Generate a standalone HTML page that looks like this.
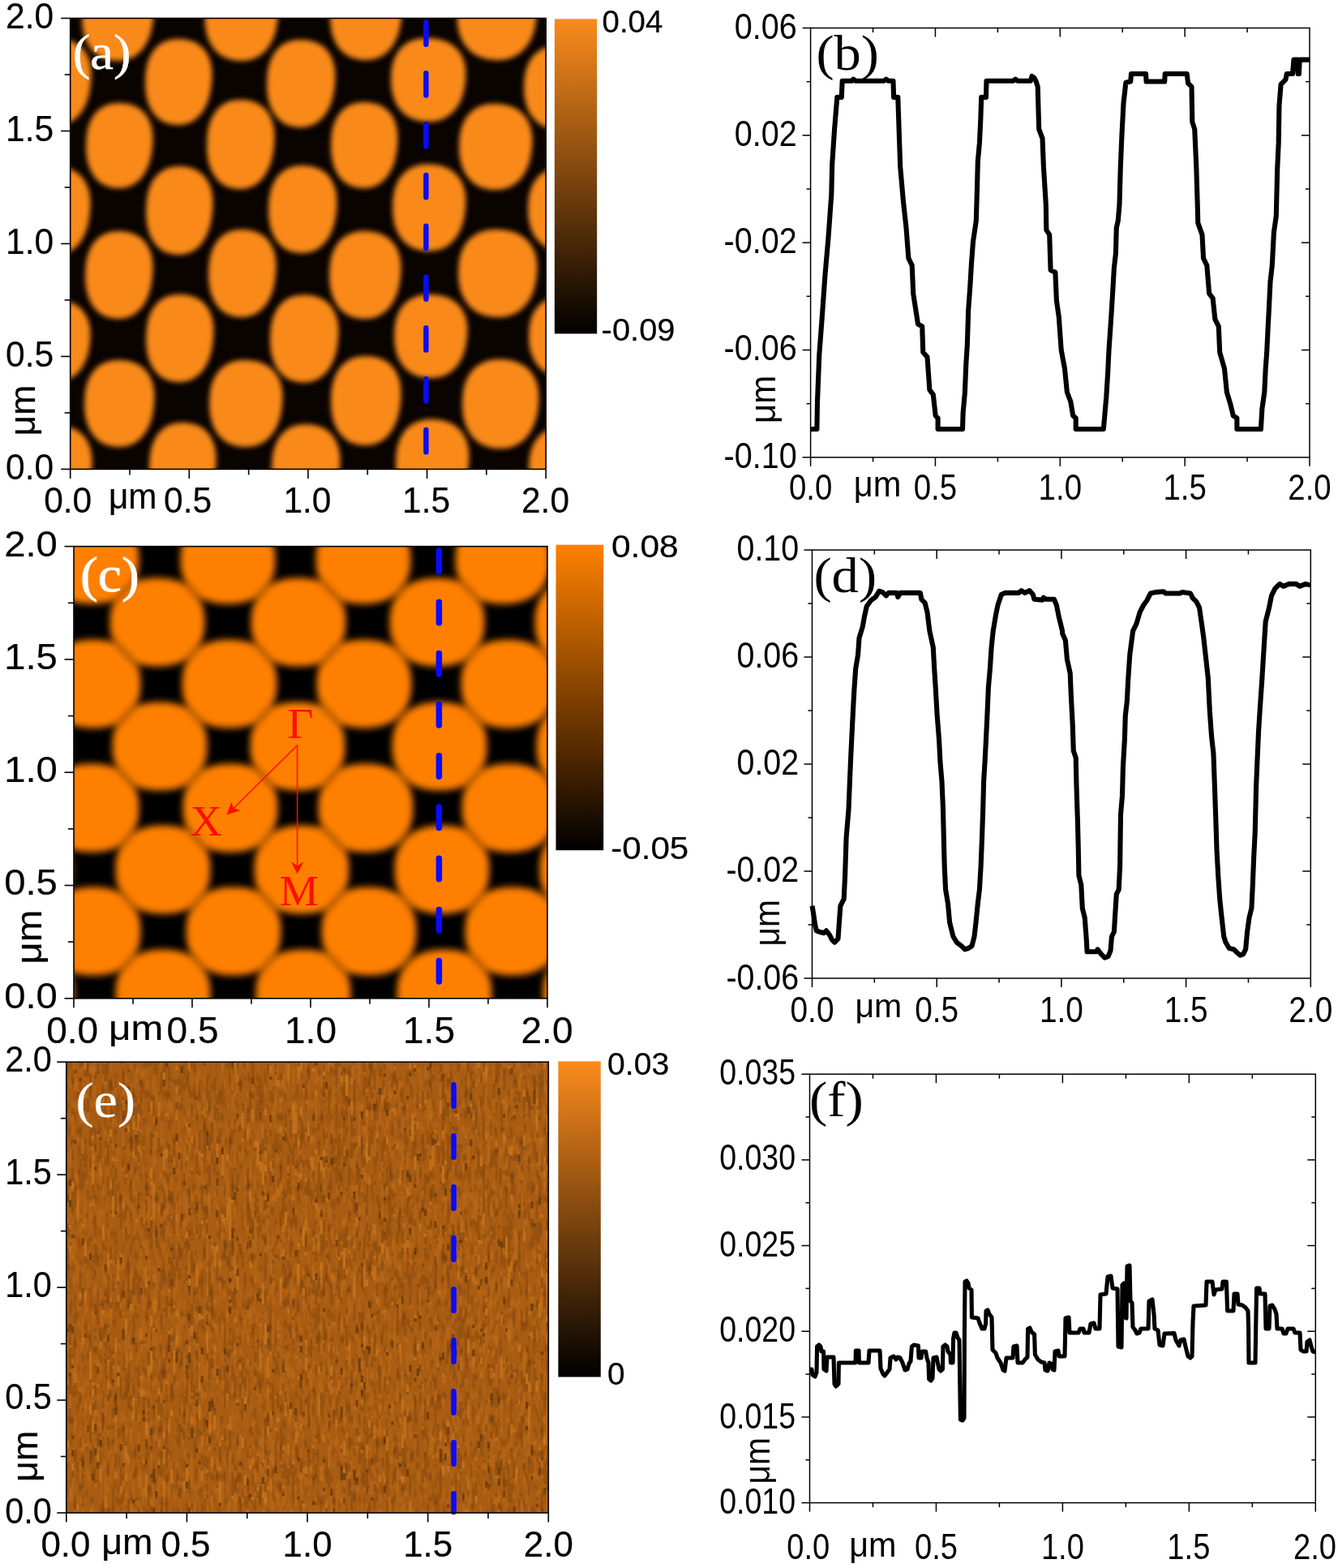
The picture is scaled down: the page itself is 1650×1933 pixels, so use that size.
<!DOCTYPE html>
<html lang="en">
<head>
<meta charset="utf-8">
<title>AFM images and line profiles</title>
<style>
html,body{margin:0;padding:0;background:#fff;}
body{width:1650px;height:1933px;overflow:hidden;}
svg{display:block;}
.ss{font-family:"Liberation Sans", Arial, sans-serif;}
.sf{font-family:"Liberation Serif", "Times New Roman", serif;}
</style>
</head>
<body>
<svg width="1650" height="1933" viewBox="0 0 1650 1933">
<defs>
<linearGradient id="cb_a" x1="0" y1="0" x2="0" y2="1"><stop offset="0" stop-color="#fb8b1c"/><stop offset="1" stop-color="#000000"/></linearGradient>
<linearGradient id="cb_c" x1="0" y1="0" x2="0" y2="1"><stop offset="0" stop-color="#ff8000"/><stop offset="1" stop-color="#000000"/></linearGradient>
<linearGradient id="cb_e" x1="0" y1="0" x2="0" y2="1"><stop offset="0" stop-color="#fb8b1c"/><stop offset="1" stop-color="#000000"/></linearGradient>
<filter id="bl_a" filterUnits="userSpaceOnUse" x="0" y="0" width="800" height="700" color-interpolation-filters="sRGB"><feGaussianBlur stdDeviation="3.4"/></filter>
<filter id="bl_c" filterUnits="userSpaceOnUse" x="0" y="600" width="800" height="700" color-interpolation-filters="sRGB"><feGaussianBlur stdDeviation="4"/></filter>
<filter id="noise_d" x="0" y="0" width="100%" height="100%" color-interpolation-filters="sRGB">
<feTurbulence type="fractalNoise" baseFrequency="0.2 0.07" numOctaves="1" seed="7"/>
<feColorMatrix type="matrix" values="0 0 0 0 0  0 0 0 0 0  0 0 0 0 0  -3 0 0 0 1.4"/>
</filter>
<filter id="soft" filterUnits="userSpaceOnUse" x="0" y="1250" width="800" height="683" color-interpolation-filters="sRGB"><feGaussianBlur stdDeviation="0.6 0.7"/></filter>
<filter id="noise_l" x="0" y="0" width="100%" height="100%" color-interpolation-filters="sRGB">
<feTurbulence type="fractalNoise" baseFrequency="0.2 0.07" numOctaves="1" seed="23"/>
<feColorMatrix type="matrix" values="0 0 0 0 1  0 0 0 0 0.62  0 0 0 0 0.2  0 3 0 0 -1.6"/>
</filter>
<clipPath id="clip_a"><rect x="86.7" y="22.5" width="586.5" height="555.9"/></clipPath>
<clipPath id="clip_c"><rect x="91" y="673.6" width="584" height="557.2"/></clipPath>
<clipPath id="clip_e"><rect x="81.8" y="1309.2" width="594.5" height="555.8"/></clipPath>
</defs>
<rect width="1650" height="1933" fill="#fff"/>
<g id="panel-a">
<g clip-path="url(#clip_a)">
<rect x="81.7" y="17.5" width="596.5" height="565.9" fill="#0a0400"/>
<g filter="url(#bl_a)" fill="#f98a1a">
<path d="M188.9 25.1L187.0 36.5L184.3 45.6L180.6 53.6L176.1 60.4L170.8 65.9L164.7 70.3L157.9 73.2L150.5 74.8L141.3 74.9L132.2 73.5L125.0 70.9L118.8 67.0L113.4 61.9L108.9 55.6L105.3 48.3L102.8 39.9L101.4 30.5L101.1 18.9L102.0 7.4L104.1 -1.8L107.2 -9.7L111.5 -16.5L116.9 -22.1L123.2 -26.4L130.4 -29.4L138.6 -30.9L148.7 -30.9L158.7 -29.5L166.6 -26.8L173.3 -22.9L179.0 -17.8L183.5 -11.5L186.8 -4.2L188.9 4.2L189.6 13.5ZM342.4 25.1L340.5 36.6L337.7 45.7L334.0 53.6L329.4 60.4L323.9 66.0L317.7 70.3L310.8 73.3L303.2 74.8L293.8 74.9L284.5 73.5L277.2 70.9L270.8 67.0L265.2 61.9L260.6 55.6L256.9 48.2L254.4 39.9L252.9 30.5L252.6 18.9L253.5 7.3L255.6 -1.8L258.8 -9.8L263.2 -16.6L268.7 -22.2L275.1 -26.4L282.5 -29.4L290.9 -30.9L301.2 -30.9L311.4 -29.5L319.5 -26.8L326.4 -22.9L332.2 -17.7L336.8 -11.4L340.2 -4.1L342.3 4.2L343.1 13.6ZM494.9 24.1L493.0 35.5L490.3 44.6L486.6 52.6L482.1 59.4L476.8 64.9L470.7 69.3L463.9 72.2L456.5 73.8L447.3 73.9L438.2 72.5L431.0 69.9L424.8 66.0L419.4 60.9L414.9 54.6L411.3 47.3L408.8 38.9L407.4 29.5L407.1 17.9L408.0 6.4L410.1 -2.8L413.2 -10.7L417.5 -17.5L422.9 -23.1L429.2 -27.4L436.4 -30.4L444.6 -31.9L454.7 -31.9L464.7 -30.5L472.6 -27.8L479.3 -23.9L485.0 -18.8L489.5 -12.5L492.8 -5.2L494.9 3.2L495.6 12.5ZM661.4 24.4L659.4 35.9L656.4 45.0L652.4 52.9L647.4 59.6L641.5 65.2L634.8 69.4L627.3 72.4L619.0 73.9L608.8 73.9L598.7 72.5L590.7 69.8L583.7 65.9L577.6 60.7L572.5 54.4L568.5 47.0L565.6 38.6L564.0 29.2L563.6 17.6L564.5 6.1L566.7 -3.1L570.2 -11.0L574.9 -17.8L580.8 -23.4L587.8 -27.6L595.9 -30.5L605.0 -32.0L616.2 -31.9L627.3 -30.4L636.1 -27.7L643.7 -23.7L650.0 -18.5L655.1 -12.2L658.8 -4.8L661.2 3.5L662.1 12.9ZM111.9 103.9L110.1 115.3L107.5 124.5L104.1 132.4L99.8 139.2L94.8 144.8L89.1 149.2L82.8 152.2L75.8 153.8L67.3 153.9L58.9 152.6L52.2 150.0L46.3 146.2L41.3 141.1L37.1 134.8L33.9 127.5L31.6 119.1L30.3 109.7L30.1 98.1L31.0 86.6L32.9 77.4L35.9 69.5L40.0 62.7L45.0 57.0L50.9 52.7L57.7 49.7L65.3 48.2L74.7 48.1L84.0 49.5L91.4 52.1L97.6 56.0L102.9 61.1L107.1 67.3L110.1 74.7L112.0 83.0L112.6 92.3ZM260.9 103.9L259.1 115.3L256.5 124.5L253.1 132.4L248.8 139.2L243.8 144.8L238.1 149.2L231.8 152.2L224.8 153.8L216.3 153.9L207.9 152.6L201.2 150.0L195.3 146.2L190.3 141.1L186.1 134.8L182.9 127.5L180.6 119.1L179.3 109.7L179.1 98.1L180.0 86.6L181.9 77.4L184.9 69.5L189.0 62.7L194.0 57.0L199.9 52.7L206.7 49.7L214.3 48.2L223.7 48.1L233.0 49.5L240.4 52.1L246.6 56.0L251.9 61.1L256.1 67.3L259.1 74.7L261.0 83.0L261.6 92.3ZM412.9 105.9L411.1 117.6L408.4 126.9L404.9 135.0L400.5 141.9L395.4 147.6L389.6 152.1L383.1 155.1L376.0 156.8L367.2 156.9L358.6 155.5L351.7 152.9L345.8 149.0L340.6 143.8L336.3 137.4L333.0 130.0L330.6 121.5L329.3 111.9L329.1 100.1L330.0 88.3L332.0 79.0L335.1 70.9L339.2 63.9L344.3 58.2L350.4 53.8L357.3 50.8L365.1 49.2L374.8 49.1L384.3 50.5L391.8 53.2L398.3 57.1L403.6 62.3L407.9 68.7L411.0 76.2L413.0 84.6L413.6 94.2ZM573.9 101.7L572.0 112.8L569.2 121.7L565.4 129.4L560.7 135.9L555.2 141.3L548.8 145.5L541.8 148.4L534.0 149.9L524.4 149.9L514.9 148.5L507.4 146.0L500.8 142.2L495.1 137.1L490.4 131.0L486.6 123.9L484.0 115.7L482.4 106.6L482.1 95.3L483.0 84.1L485.1 75.2L488.4 67.5L492.8 60.9L498.4 55.5L504.9 51.3L512.5 48.5L521.0 47.1L531.6 47.1L542.1 48.5L550.3 51.2L557.4 55.0L563.3 60.0L568.1 66.1L571.6 73.3L573.7 81.4L574.6 90.5ZM735.9 111.1L734.0 122.4L731.3 131.3L727.5 139.1L722.9 145.7L717.5 151.2L711.3 155.4L704.4 158.3L696.7 159.8L687.4 159.9L678.1 158.5L670.7 156.0L664.3 152.1L658.8 147.1L654.1 140.9L650.5 133.7L647.9 125.5L646.4 116.3L646.1 104.9L647.0 93.6L649.1 84.6L652.3 76.8L656.7 70.1L662.1 64.6L668.5 60.4L675.9 57.6L684.3 56.1L694.6 56.1L704.9 57.5L712.9 60.2L719.9 64.0L725.7 69.1L730.3 75.3L733.7 82.5L735.8 90.6L736.6 99.8ZM187.9 182.4L186.1 193.7L183.5 202.8L180.1 210.6L175.8 217.4L170.8 222.9L165.2 227.2L158.9 230.2L151.9 231.8L143.3 231.9L134.9 230.6L128.2 228.0L122.4 224.2L117.3 219.2L113.2 213.0L109.9 205.7L107.6 197.4L106.3 188.1L106.1 176.6L107.0 165.2L108.9 156.1L111.9 148.2L115.9 141.5L121.0 135.9L126.9 131.7L133.6 128.7L141.2 127.2L150.7 127.1L160.0 128.5L167.3 131.1L173.6 134.9L178.9 140.0L183.0 146.2L186.1 153.4L187.9 161.7L188.6 170.9ZM337.9 180.9L336.1 192.8L333.4 202.3L329.9 210.5L325.6 217.6L320.5 223.4L314.8 227.9L308.4 231.1L301.3 232.7L292.7 232.9L284.1 231.5L277.4 228.9L271.5 224.9L266.4 219.6L262.2 213.1L258.9 205.5L256.5 196.9L255.3 187.1L255.1 175.1L256.0 163.1L258.0 153.6L261.1 145.3L265.2 138.3L270.2 132.4L276.2 127.9L283.1 124.8L290.8 123.2L300.3 123.1L309.8 124.5L317.2 127.2L323.5 131.2L328.9 136.5L333.1 143.0L336.1 150.6L338.0 159.2L338.6 168.9ZM489.9 181.9L488.1 193.3L485.5 202.5L482.1 210.4L477.8 217.2L472.8 222.8L467.1 227.2L460.8 230.2L453.8 231.8L445.3 231.9L436.9 230.6L430.2 228.0L424.3 224.2L419.3 219.1L415.1 212.8L411.9 205.5L409.6 197.1L408.3 187.7L408.1 176.1L409.0 164.6L410.9 155.4L413.9 147.5L418.0 140.7L423.0 135.0L428.9 130.7L435.7 127.7L443.3 126.2L452.7 126.1L462.0 127.5L469.4 130.1L475.6 134.0L480.9 139.1L485.1 145.3L488.1 152.7L490.0 161.0L490.6 170.3ZM655.9 184.1L654.0 195.6L651.2 204.7L647.5 212.6L642.9 219.4L637.4 225.0L631.2 229.3L624.3 232.3L616.7 233.8L607.3 233.9L598.0 232.5L590.7 229.9L584.3 226.0L578.7 220.9L574.1 214.6L570.4 207.2L567.9 198.9L566.4 189.5L566.1 177.9L567.0 166.3L569.1 157.2L572.3 149.2L576.7 142.4L582.2 136.8L588.6 132.6L596.0 129.6L604.4 128.1L614.7 128.1L624.9 129.5L633.0 132.2L639.9 136.1L645.7 141.3L650.3 147.6L653.7 154.9L655.8 163.2L656.6 172.6ZM110.9 262.9L109.1 274.5L106.5 283.8L103.0 291.9L98.8 298.9L93.8 304.6L88.1 309.0L81.8 312.1L74.8 313.7L66.2 313.9L57.8 312.6L51.1 310.0L45.3 306.0L40.3 300.9L36.1 294.5L32.8 287.0L30.5 278.5L29.3 269.0L29.1 257.1L30.0 245.4L32.0 236.0L35.0 227.9L39.0 221.0L44.0 215.2L50.0 210.8L56.7 207.8L64.4 206.2L73.8 206.1L83.1 207.5L90.4 210.1L96.7 214.1L101.9 219.3L106.1 225.7L109.1 233.1L111.0 241.6L111.6 251.1ZM261.9 262.4L260.1 274.2L257.5 283.5L254.0 291.7L249.7 298.7L244.7 304.5L239.0 309.0L232.7 312.1L225.7 313.7L217.2 313.9L208.8 312.6L202.1 309.9L196.2 306.0L191.2 300.8L187.1 294.3L183.8 286.8L181.5 278.2L180.3 268.6L180.1 256.6L181.0 244.8L183.0 235.3L186.0 227.2L190.0 220.1L195.1 214.4L201.0 209.9L207.7 206.8L215.4 205.2L224.8 205.1L234.1 206.5L241.5 209.2L247.7 213.2L253.0 218.4L257.1 224.8L260.2 232.3L262.0 240.9L262.6 250.5ZM414.9 260.9L413.1 272.6L410.4 281.9L406.9 290.0L402.5 296.9L397.4 302.6L391.6 307.1L385.1 310.1L378.0 311.8L369.2 311.9L360.6 310.5L353.7 307.9L347.8 304.0L342.6 298.8L338.3 292.4L335.0 285.0L332.6 276.5L331.3 266.9L331.1 255.1L332.0 243.3L334.0 234.0L337.1 225.9L341.2 218.9L346.3 213.2L352.4 208.8L359.3 205.8L367.1 204.2L376.8 204.1L386.3 205.5L393.8 208.2L400.3 212.1L405.6 217.3L409.9 223.7L413.0 231.2L415.0 239.6L415.6 249.2ZM573.9 259.1L572.0 270.7L569.2 279.9L565.5 287.9L560.9 294.7L555.4 300.4L549.2 304.7L542.3 307.7L534.6 309.3L525.3 309.4L516.0 308.0L508.6 305.4L502.2 301.5L496.7 296.3L492.1 289.9L488.4 282.5L485.8 274.1L484.4 264.6L484.1 252.9L485.0 241.2L487.1 232.0L490.3 223.9L494.7 217.1L500.2 211.4L506.6 207.1L514.0 204.1L522.4 202.6L532.7 202.6L543.0 204.1L551.0 206.7L557.9 210.7L563.7 215.9L568.4 222.2L571.7 229.6L573.8 238.0L574.6 247.5ZM740.9 261.1L739.0 272.4L736.3 281.3L732.5 289.1L727.9 295.7L722.5 301.2L716.3 305.4L709.4 308.3L701.7 309.8L692.4 309.9L683.1 308.5L675.7 306.0L669.3 302.1L663.8 297.1L659.1 290.9L655.5 283.7L652.9 275.5L651.4 266.3L651.1 254.9L652.0 243.6L654.1 234.6L657.3 226.8L661.7 220.1L667.1 214.6L673.5 210.4L680.9 207.6L689.3 206.1L699.6 206.1L709.9 207.5L717.9 210.2L724.9 214.0L730.7 219.1L735.3 225.3L738.7 232.5L740.8 240.6L741.6 249.8ZM187.9 341.9L186.1 353.6L183.5 362.9L180.0 371.0L175.7 377.9L170.6 383.6L164.8 388.0L158.4 391.1L151.4 392.8L142.7 392.9L134.2 391.6L127.4 388.9L121.5 385.0L116.4 379.8L112.2 373.5L108.9 366.0L106.6 357.5L105.3 347.9L105.1 336.1L106.0 324.4L108.0 315.0L111.0 306.9L115.1 299.9L120.2 294.2L126.2 289.8L133.0 286.8L140.7 285.2L150.3 285.1L159.7 286.5L167.1 289.2L173.5 293.1L178.8 298.3L183.0 304.7L186.1 312.1L188.0 320.6L188.6 330.1ZM339.9 339.9L338.1 351.6L335.5 360.9L332.0 369.0L327.7 375.9L322.6 381.6L316.8 386.0L310.4 389.1L303.4 390.8L294.7 390.9L286.2 389.6L279.4 386.9L273.5 383.0L268.4 377.8L264.2 371.5L260.9 364.0L258.6 355.5L257.3 345.9L257.1 334.1L258.0 322.4L260.0 313.0L263.0 304.9L267.1 297.9L272.2 292.2L278.2 287.8L285.0 284.8L292.7 283.2L302.3 283.1L311.7 284.5L319.1 287.2L325.5 291.1L330.8 296.3L335.0 302.7L338.1 310.1L340.0 318.6L340.6 328.1ZM493.9 342.1L492.0 353.7L489.3 363.0L485.6 371.1L481.1 378.0L475.7 383.7L469.6 388.1L462.9 391.2L455.4 392.8L446.2 392.9L437.2 391.5L430.0 388.9L423.7 384.9L418.3 379.7L413.8 373.3L410.3 365.8L407.8 357.3L406.3 347.8L406.1 335.9L407.0 324.2L409.1 314.8L412.3 306.7L416.6 299.8L421.9 294.1L428.2 289.7L435.5 286.7L443.7 285.1L453.8 285.1L463.8 286.5L471.7 289.2L478.4 293.2L484.1 298.4L488.6 304.8L491.9 312.3L493.9 320.8L494.6 330.3ZM661.9 340.4L659.9 352.1L657.0 361.3L653.0 369.4L648.0 376.3L642.2 381.9L635.5 386.3L628.1 389.3L619.8 390.9L609.7 390.9L599.7 389.5L591.8 386.8L584.9 382.8L578.9 377.5L573.9 371.1L569.9 363.6L567.1 355.0L565.5 345.5L565.1 333.6L566.1 321.9L568.2 312.5L571.7 304.5L576.4 297.5L582.2 291.9L589.2 287.5L597.1 284.6L606.1 283.1L617.3 283.1L628.3 284.6L637.0 287.4L644.5 291.4L650.7 296.7L655.7 303.1L659.4 310.6L661.7 319.1L662.6 328.6ZM110.9 422.9L109.2 433.7L106.6 442.3L103.2 449.8L99.0 456.2L94.0 461.4L88.3 465.5L82.0 468.3L75.0 469.8L66.5 469.9L58.1 468.6L51.4 466.2L45.5 462.5L40.5 457.7L36.3 451.8L33.0 444.8L30.6 437.0L29.3 428.1L29.1 417.1L30.0 406.3L31.9 397.6L34.8 390.1L38.8 383.7L43.8 378.4L49.7 374.4L56.5 371.6L64.1 370.1L73.5 370.1L82.8 371.4L90.2 373.9L96.5 377.6L101.7 382.5L105.9 388.4L109.0 395.3L110.9 403.1L111.6 412.0ZM262.9 419.9L261.1 431.6L258.5 440.9L255.0 449.0L250.7 455.9L245.6 461.6L239.8 466.0L233.4 469.1L226.4 470.8L217.7 470.9L209.2 469.6L202.4 466.9L196.5 463.0L191.4 457.8L187.2 451.5L183.9 444.0L181.6 435.5L180.3 425.9L180.1 414.1L181.0 402.4L183.0 393.0L186.0 384.9L190.1 377.9L195.2 372.2L201.2 367.8L208.0 364.8L215.7 363.2L225.3 363.1L234.7 364.5L242.1 367.2L248.5 371.1L253.8 376.3L258.0 382.7L261.1 390.1L263.0 398.6L263.6 408.1ZM416.9 420.4L415.1 432.1L412.4 441.4L408.9 449.5L404.5 456.4L399.4 462.1L393.6 466.6L387.1 469.6L380.0 471.3L371.2 471.4L362.6 470.0L355.7 467.4L349.8 463.5L344.6 458.3L340.3 451.9L337.0 444.5L334.6 436.0L333.3 426.4L333.1 414.6L334.0 402.8L336.0 393.5L339.1 385.4L343.2 378.4L348.3 372.7L354.4 368.3L361.3 365.3L369.1 363.7L378.8 363.6L388.3 365.0L395.8 367.7L402.3 371.6L407.6 376.8L411.9 383.2L415.0 390.7L417.0 399.1L417.6 408.7ZM575.9 417.6L574.0 428.8L571.3 437.6L567.6 445.3L562.9 451.9L557.5 457.3L551.3 461.5L544.4 464.3L536.8 465.8L527.4 465.9L518.1 464.5L510.8 462.0L504.3 458.2L498.8 453.2L494.2 447.1L490.5 439.9L487.9 431.8L486.4 422.6L486.1 411.4L487.0 400.2L489.0 391.3L492.3 383.5L496.6 376.9L502.1 371.5L508.5 367.4L515.9 364.5L524.3 363.1L534.6 363.1L544.8 364.5L552.9 367.1L559.8 371.0L565.6 376.0L570.3 382.1L573.7 389.2L575.8 397.3L576.6 406.4ZM741.9 418.1L740.1 428.9L737.3 437.5L733.6 445.0L729.0 451.4L723.6 456.6L717.4 460.7L710.5 463.4L702.9 464.9L693.5 464.9L684.2 463.6L676.9 461.1L670.4 457.4L664.9 452.5L660.2 446.6L656.6 439.6L653.9 431.7L652.4 422.8L652.1 411.9L653.0 401.0L655.0 392.3L658.2 384.9L662.6 378.5L668.0 373.2L674.4 369.2L681.8 366.5L690.2 365.1L700.5 365.1L710.7 366.5L718.8 369.0L725.7 372.8L731.5 377.7L736.2 383.6L739.6 390.5L741.7 398.4L742.5 407.2ZM189.9 500.5L188.1 512.1L185.4 521.3L181.8 529.3L177.3 536.1L172.1 541.8L166.1 546.2L159.5 549.2L152.2 550.8L143.3 550.9L134.4 549.5L127.4 546.9L121.3 543.0L116.0 537.9L111.6 531.5L108.1 524.1L105.7 515.7L104.3 506.2L104.1 494.5L105.0 482.9L107.0 473.6L110.2 465.6L114.4 458.7L119.6 453.0L125.8 448.7L132.9 445.7L140.9 444.1L150.7 444.1L160.5 445.5L168.2 448.2L174.8 452.1L180.3 457.3L184.7 463.6L187.9 471.0L189.9 479.4L190.6 488.8ZM347.9 500.6L346.0 512.2L343.2 521.4L339.5 529.4L334.9 536.2L329.4 541.9L323.2 546.2L316.3 549.2L308.6 550.8L299.3 550.9L290.0 549.5L282.6 546.9L276.2 543.0L270.7 537.8L266.1 531.4L262.4 524.0L259.8 515.6L258.4 506.1L258.1 494.4L259.0 482.7L261.1 473.5L264.3 465.4L268.7 458.6L274.2 452.9L280.6 448.6L288.0 445.6L296.4 444.1L306.7 444.1L317.0 445.6L325.0 448.2L331.9 452.2L337.7 457.4L342.4 463.7L345.7 471.1L347.8 479.5L348.6 489.0ZM493.9 497.0L492.0 508.9L489.3 518.4L485.7 526.6L481.3 533.7L476.0 539.5L470.1 544.0L463.4 547.1L456.1 548.8L447.2 548.9L438.3 547.5L431.3 544.9L425.2 540.8L419.9 535.6L415.5 529.1L412.1 521.5L409.7 512.8L408.3 503.0L408.1 491.0L409.0 479.0L411.1 469.5L414.2 461.3L418.4 454.2L423.7 448.4L429.9 443.9L437.0 440.8L445.0 439.2L454.8 439.1L464.6 440.5L472.3 443.3L478.9 447.3L484.4 452.6L488.8 459.1L492.0 466.7L493.9 475.3L494.6 485.0ZM663.9 501.3L661.9 513.2L659.0 522.6L655.1 530.8L650.3 537.9L644.6 543.7L638.1 548.1L630.9 551.2L622.9 552.8L613.2 552.9L603.5 551.5L595.8 548.7L589.1 544.7L583.3 539.4L578.5 532.8L574.7 525.2L571.9 516.5L570.4 506.8L570.1 494.7L571.1 482.8L573.2 473.2L576.6 465.0L581.2 458.0L586.9 452.2L593.6 447.7L601.3 444.7L610.1 443.1L620.8 443.1L631.5 444.6L640.0 447.4L647.2 451.5L653.2 456.8L658.1 463.3L661.6 470.9L663.8 479.6L664.6 489.3ZM112.9 580.9L111.1 592.3L108.5 601.5L105.1 609.4L100.8 616.2L95.8 621.8L90.1 626.2L83.8 629.2L76.8 630.8L68.3 630.9L59.9 629.6L53.2 627.0L47.3 623.2L42.3 618.1L38.1 611.8L34.9 604.5L32.6 596.1L31.3 586.7L31.1 575.1L32.0 563.6L33.9 554.4L36.9 546.5L41.0 539.7L46.0 534.0L51.9 529.7L58.7 526.7L66.3 525.2L75.7 525.1L85.0 526.5L92.4 529.1L98.6 533.0L103.9 538.1L108.1 544.3L111.1 551.7L113.0 560.0L113.6 569.3ZM265.9 577.9L264.1 589.5L261.5 598.8L258.0 606.9L253.8 613.9L248.8 619.6L243.1 624.0L236.8 627.1L229.8 628.7L221.2 628.9L212.8 627.6L206.1 625.0L200.3 621.0L195.3 615.9L191.1 609.5L187.8 602.0L185.5 593.5L184.3 584.0L184.1 572.1L185.0 560.4L187.0 551.0L190.0 542.9L194.0 536.0L199.0 530.2L205.0 525.8L211.7 522.8L219.4 521.2L228.8 521.1L238.1 522.5L245.4 525.1L251.7 529.1L256.9 534.3L261.1 540.7L264.1 548.1L266.0 556.6L266.6 566.1ZM418.9 579.9L417.1 591.6L414.4 600.9L410.9 609.0L406.5 615.9L401.4 621.6L395.6 626.1L389.1 629.1L382.0 630.8L373.2 630.9L364.6 629.5L357.7 626.9L351.8 623.0L346.6 617.8L342.3 611.4L339.0 604.0L336.6 595.5L335.3 585.9L335.1 574.1L336.0 562.3L338.0 553.0L341.1 544.9L345.2 537.9L350.3 532.2L356.4 527.8L363.3 524.8L371.1 523.2L380.8 523.1L390.3 524.5L397.8 527.2L404.3 531.1L409.6 536.3L413.9 542.7L417.0 550.2L419.0 558.6L419.6 568.2ZM577.9 574.1L576.0 585.8L573.2 595.1L569.5 603.2L564.8 610.1L559.4 615.8L553.2 620.2L546.3 623.2L538.6 624.8L529.2 624.9L520.0 623.5L512.6 620.9L506.2 616.9L500.7 611.7L496.0 605.3L492.4 597.8L489.8 589.3L488.4 579.7L488.1 567.9L489.0 556.1L491.1 546.8L494.4 538.7L498.7 531.7L504.2 526.1L510.7 521.7L518.1 518.7L526.4 517.1L536.8 517.1L547.0 518.6L555.1 521.3L562.0 525.3L567.8 530.5L572.4 536.9L575.8 544.4L577.8 552.8L578.6 562.4ZM741.9 581.1L740.0 592.4L737.3 601.3L733.5 609.1L728.9 615.7L723.5 621.2L717.3 625.4L710.4 628.3L702.7 629.8L693.4 629.9L684.1 628.5L676.7 626.0L670.3 622.1L664.8 617.1L660.1 610.9L656.5 603.7L653.9 595.5L652.4 586.3L652.1 574.9L653.0 563.6L655.1 554.6L658.3 546.8L662.7 540.1L668.1 534.6L674.5 530.4L681.9 527.6L690.3 526.1L700.6 526.1L710.9 527.5L718.9 530.2L725.9 534.0L731.7 539.1L736.3 545.3L739.7 552.5L741.8 560.6L742.6 569.8Z"/>
</g>
</g>
<line x1="525.4" y1="27.5" x2="525.4" y2="578" stroke="#0a0aff" stroke-width="6.4" stroke-dasharray="27.3 35.5" stroke-linecap="round"/>
<rect x="86.7" y="22.5" width="586.5" height="555.9" fill="none" stroke="#000" stroke-width="1.6"/>
<line x1="86.7" y1="578.4" x2="86.7" y2="589.9" stroke="#000" stroke-width="1.6"/>
<line x1="160.01" y1="578.4" x2="160.01" y2="585.4" stroke="#000" stroke-width="1.6"/>
<line x1="233.32" y1="578.4" x2="233.32" y2="589.9" stroke="#000" stroke-width="1.6"/>
<line x1="306.64" y1="578.4" x2="306.64" y2="585.4" stroke="#000" stroke-width="1.6"/>
<line x1="379.95" y1="578.4" x2="379.95" y2="589.9" stroke="#000" stroke-width="1.6"/>
<line x1="453.26" y1="578.4" x2="453.26" y2="585.4" stroke="#000" stroke-width="1.6"/>
<line x1="526.58" y1="578.4" x2="526.58" y2="589.9" stroke="#000" stroke-width="1.6"/>
<line x1="599.89" y1="578.4" x2="599.89" y2="585.4" stroke="#000" stroke-width="1.6"/>
<line x1="673.2" y1="578.4" x2="673.2" y2="589.9" stroke="#000" stroke-width="1.6"/>
<line x1="75.2" y1="578.4" x2="86.7" y2="578.4" stroke="#000" stroke-width="1.6"/>
<line x1="79.7" y1="508.91" x2="86.7" y2="508.91" stroke="#000" stroke-width="1.6"/>
<line x1="75.2" y1="439.42" x2="86.7" y2="439.42" stroke="#000" stroke-width="1.6"/>
<line x1="79.7" y1="369.94" x2="86.7" y2="369.94" stroke="#000" stroke-width="1.6"/>
<line x1="75.2" y1="300.45" x2="86.7" y2="300.45" stroke="#000" stroke-width="1.6"/>
<line x1="79.7" y1="230.96" x2="86.7" y2="230.96" stroke="#000" stroke-width="1.6"/>
<line x1="75.2" y1="161.48" x2="86.7" y2="161.48" stroke="#000" stroke-width="1.6"/>
<line x1="79.7" y1="91.99" x2="86.7" y2="91.99" stroke="#000" stroke-width="1.6"/>
<line x1="75.2" y1="22.5" x2="86.7" y2="22.5" stroke="#000" stroke-width="1.6"/>
<text class="ss" transform="translate(66.2 591.2) scale(0.955 1)" font-size="44.5" text-anchor="end" stroke="#000" stroke-width="0.2">0.0</text>
<text class="ss" transform="translate(66.2 452.22) scale(0.955 1)" font-size="44.5" text-anchor="end" stroke="#000" stroke-width="0.2">0.5</text>
<text class="ss" transform="translate(66.2 313.25) scale(0.955 1)" font-size="44.5" text-anchor="end" stroke="#000" stroke-width="0.2">1.0</text>
<text class="ss" transform="translate(66.2 174.28) scale(0.955 1)" font-size="44.5" text-anchor="end" stroke="#000" stroke-width="0.2">1.5</text>
<text class="ss" transform="translate(66.2 35.3) scale(0.955 1)" font-size="44.5" text-anchor="end" stroke="#000" stroke-width="0.2">2.0</text>
<text class="ss" transform="translate(83.7 631.8) scale(0.955 1)" font-size="44.5" text-anchor="middle" stroke="#000" stroke-width="0.2">0.0</text>
<text class="ss" transform="translate(231.62 631.8) scale(0.955 1)" font-size="44.5" text-anchor="middle" stroke="#000" stroke-width="0.2">0.5</text>
<text class="ss" transform="translate(378.95 631.8) scale(0.955 1)" font-size="44.5" text-anchor="middle" stroke="#000" stroke-width="0.2">1.0</text>
<text class="ss" transform="translate(525.58 631.8) scale(0.955 1)" font-size="44.5" text-anchor="middle" stroke="#000" stroke-width="0.2">1.5</text>
<text class="ss" transform="translate(672.5 631.8) scale(0.955 1)" font-size="44.5" text-anchor="middle" stroke="#000" stroke-width="0.2">2.0</text>
<text class="ss" transform="translate(134 627) scale(0.950 1)" font-size="44.5" stroke="#000" stroke-width="0.2">μm</text>
<text class="ss" transform="translate(42.5 537.4) rotate(-90)" font-size="44.5" stroke="#000" stroke-width="0.2">μm</text>
<text class="sf" transform="translate(89.8 84.8) scale(1.050 1)" font-size="61.5" fill="#fff" stroke="#fff" stroke-width="0.5">(a)</text>
<rect x="683.9" y="23.4" width="52.3" height="388" fill="url(#cb_a)"/>
<text class="ss" transform="translate(742.6 40.1) scale(1.010 1)" font-size="38" stroke="#000" stroke-width="0.2">0.04</text>
<text class="ss" transform="translate(741.6 420.3) scale(1.050 1)" font-size="38" stroke="#000" stroke-width="0.2">-0.09</text>
</g>
<g id="panel-c">
<g clip-path="url(#clip_c)">
<rect x="86" y="668.6" width="594" height="567.2" fill="#000000"/>
<g filter="url(#bl_c)" fill="#ff8000">
<path d="M3.5 690.0L2.7 701.9L0.4 711.4L-3.4 719.8L-8.6 727.1L-15.2 733.2L-23.0 738.1L-32.0 741.6L-42.2 743.8L-55.0 744.5L-67.8 743.8L-78.0 741.6L-87.0 738.1L-94.8 733.2L-101.4 727.1L-106.6 719.8L-110.4 711.4L-112.7 701.9L-113.5 690.0L-112.7 678.1L-110.4 668.6L-106.6 660.2L-101.4 652.9L-94.8 646.8L-87.0 641.9L-78.0 638.4L-67.8 636.2L-55.0 635.5L-42.2 636.2L-32.0 638.4L-23.0 641.9L-15.2 646.8L-8.6 652.9L-3.4 660.2L0.4 668.6L2.7 678.1ZM171.5 690.0L170.7 701.9L168.4 711.4L164.6 719.8L159.4 727.1L152.8 733.2L145.0 738.1L136.0 741.6L125.8 743.8L113.0 744.5L100.2 743.8L90.0 741.6L81.0 738.1L73.2 733.2L66.6 727.1L61.4 719.8L57.6 711.4L55.3 701.9L54.5 690.0L55.3 678.1L57.6 668.6L61.4 660.2L66.6 652.9L73.2 646.8L81.0 641.9L90.0 638.4L100.2 636.2L113.0 635.5L125.8 636.2L136.0 638.4L145.0 641.9L152.8 646.8L159.4 652.9L164.6 660.2L168.4 668.6L170.7 678.1ZM339.5 690.0L338.7 701.9L336.4 711.4L332.6 719.8L327.4 727.1L320.8 733.2L313.0 738.1L304.0 741.6L293.8 743.8L281.0 744.5L268.2 743.8L258.0 741.6L249.0 738.1L241.2 733.2L234.6 727.1L229.4 719.8L225.6 711.4L223.3 701.9L222.5 690.0L223.3 678.1L225.6 668.6L229.4 660.2L234.6 652.9L241.2 646.8L249.0 641.9L258.0 638.4L268.2 636.2L281.0 635.5L293.8 636.2L304.0 638.4L313.0 641.9L320.8 646.8L327.4 652.9L332.6 660.2L336.4 668.6L338.7 678.1ZM506.5 690.0L505.7 701.9L503.4 711.4L499.6 719.8L494.4 727.1L487.8 733.2L480.0 738.1L471.0 741.6L460.8 743.8L448.0 744.5L435.2 743.8L425.0 741.6L416.0 738.1L408.2 733.2L401.6 727.1L396.4 719.8L392.6 711.4L390.3 701.9L389.5 690.0L390.3 678.1L392.6 668.6L396.4 660.2L401.6 652.9L408.2 646.8L416.0 641.9L425.0 638.4L435.2 636.2L448.0 635.5L460.8 636.2L471.0 638.4L480.0 641.9L487.8 646.8L494.4 652.9L499.6 660.2L503.4 668.6L505.7 678.1ZM678.5 690.0L677.7 701.9L675.4 711.4L671.6 719.8L666.4 727.1L659.8 733.2L652.0 738.1L643.0 741.6L632.8 743.8L620.0 744.5L607.2 743.8L597.0 741.6L588.0 738.1L580.2 733.2L573.6 727.1L568.4 719.8L564.6 711.4L562.3 701.9L561.5 690.0L562.3 678.1L564.6 668.6L568.4 660.2L573.6 652.9L580.2 646.8L588.0 641.9L597.0 638.4L607.2 636.2L620.0 635.5L632.8 636.2L643.0 638.4L652.0 641.9L659.8 646.8L666.4 652.9L671.6 660.2L675.4 668.6L677.7 678.1ZM848.5 690.0L847.7 701.9L845.4 711.4L841.6 719.8L836.4 727.1L829.8 733.2L822.0 738.1L813.0 741.6L802.8 743.8L790.0 744.5L777.2 743.8L767.0 741.6L758.0 738.1L750.2 733.2L743.6 727.1L738.4 719.8L734.6 711.4L732.3 701.9L731.5 690.0L732.3 678.1L734.6 668.6L738.4 660.2L743.6 652.9L750.2 646.8L758.0 641.9L767.0 638.4L777.2 636.2L790.0 635.5L802.8 636.2L813.0 638.4L822.0 641.9L829.8 646.8L836.4 652.9L841.6 660.2L845.4 668.6L847.7 678.1ZM83.5 767.0L82.7 778.9L80.4 788.4L76.6 796.8L71.4 804.1L64.8 810.2L57.0 815.1L48.0 818.6L37.8 820.8L25.0 821.5L12.2 820.8L2.0 818.6L-7.0 815.1L-14.8 810.2L-21.4 804.1L-26.6 796.8L-30.4 788.4L-32.7 778.9L-33.5 767.0L-32.7 755.1L-30.4 745.6L-26.6 737.2L-21.4 729.9L-14.8 723.8L-7.0 718.9L2.0 715.4L12.2 713.2L25.0 712.5L37.8 713.2L48.0 715.4L57.0 718.9L64.8 723.8L71.4 729.9L76.6 737.2L80.4 745.6L82.7 755.1ZM252.5 767.0L251.7 778.9L249.4 788.4L245.6 796.8L240.4 804.1L233.8 810.2L226.0 815.1L217.0 818.6L206.8 820.8L194.0 821.5L181.2 820.8L171.0 818.6L162.0 815.1L154.2 810.2L147.6 804.1L142.4 796.8L138.6 788.4L136.3 778.9L135.5 767.0L136.3 755.1L138.6 745.6L142.4 737.2L147.6 729.9L154.2 723.8L162.0 718.9L171.0 715.4L181.2 713.2L194.0 712.5L206.8 713.2L217.0 715.4L226.0 718.9L233.8 723.8L240.4 729.9L245.6 737.2L249.4 745.6L251.7 755.1ZM426.5 767.0L425.7 778.9L423.4 788.4L419.6 796.8L414.4 804.1L407.8 810.2L400.0 815.1L391.0 818.6L380.8 820.8L368.0 821.5L355.2 820.8L345.0 818.6L336.0 815.1L328.2 810.2L321.6 804.1L316.4 796.8L312.6 788.4L310.3 778.9L309.5 767.0L310.3 755.1L312.6 745.6L316.4 737.2L321.6 729.9L328.2 723.8L336.0 718.9L345.0 715.4L355.2 713.2L368.0 712.5L380.8 713.2L391.0 715.4L400.0 718.9L407.8 723.8L414.4 729.9L419.6 737.2L423.4 745.6L425.7 755.1ZM597.5 767.0L596.7 778.9L594.4 788.4L590.6 796.8L585.4 804.1L578.8 810.2L571.0 815.1L562.0 818.6L551.8 820.8L539.0 821.5L526.2 820.8L516.0 818.6L507.0 815.1L499.2 810.2L492.6 804.1L487.4 796.8L483.6 788.4L481.3 778.9L480.5 767.0L481.3 755.1L483.6 745.6L487.4 737.2L492.6 729.9L499.2 723.8L507.0 718.9L516.0 715.4L526.2 713.2L539.0 712.5L551.8 713.2L562.0 715.4L571.0 718.9L578.8 723.8L585.4 729.9L590.6 737.2L594.4 745.6L596.7 755.1ZM776.5 767.0L775.7 778.9L773.4 788.4L769.6 796.8L764.4 804.1L757.8 810.2L750.0 815.1L741.0 818.6L730.8 820.8L718.0 821.5L705.2 820.8L695.0 818.6L686.0 815.1L678.2 810.2L671.6 804.1L666.4 796.8L662.6 788.4L660.3 778.9L659.5 767.0L660.3 755.1L662.6 745.6L666.4 737.2L671.6 729.9L678.2 723.8L686.0 718.9L695.0 715.4L705.2 713.2L718.0 712.5L730.8 713.2L741.0 715.4L750.0 718.9L757.8 723.8L764.4 729.9L769.6 737.2L773.4 745.6L775.7 755.1ZM5.5 843.0L4.7 854.9L2.4 864.4L-1.4 872.8L-6.6 880.1L-13.2 886.2L-21.0 891.1L-30.0 894.6L-40.2 896.8L-53.0 897.5L-65.8 896.8L-76.0 894.6L-85.0 891.1L-92.8 886.2L-99.4 880.1L-104.6 872.8L-108.4 864.4L-110.7 854.9L-111.5 843.0L-110.7 831.1L-108.4 821.6L-104.6 813.2L-99.4 805.9L-92.8 799.8L-85.0 794.9L-76.0 791.4L-65.8 789.2L-53.0 788.5L-40.2 789.2L-30.0 791.4L-21.0 794.9L-13.2 799.8L-6.6 805.9L-1.4 813.2L2.4 821.6L4.7 831.1ZM173.5 843.0L172.7 854.9L170.4 864.4L166.6 872.8L161.4 880.1L154.8 886.2L147.0 891.1L138.0 894.6L127.8 896.8L115.0 897.5L102.2 896.8L92.0 894.6L83.0 891.1L75.2 886.2L68.6 880.1L63.4 872.8L59.6 864.4L57.3 854.9L56.5 843.0L57.3 831.1L59.6 821.6L63.4 813.2L68.6 805.9L75.2 799.8L83.0 794.9L92.0 791.4L102.2 789.2L115.0 788.5L127.8 789.2L138.0 791.4L147.0 794.9L154.8 799.8L161.4 805.9L166.6 813.2L170.4 821.6L172.7 831.1ZM341.5 843.0L340.7 854.9L338.4 864.4L334.6 872.8L329.4 880.1L322.8 886.2L315.0 891.1L306.0 894.6L295.8 896.8L283.0 897.5L270.2 896.8L260.0 894.6L251.0 891.1L243.2 886.2L236.6 880.1L231.4 872.8L227.6 864.4L225.3 854.9L224.5 843.0L225.3 831.1L227.6 821.6L231.4 813.2L236.6 805.9L243.2 799.8L251.0 794.9L260.0 791.4L270.2 789.2L283.0 788.5L295.8 789.2L306.0 791.4L315.0 794.9L322.8 799.8L329.4 805.9L334.6 813.2L338.4 821.6L340.7 831.1ZM507.5 843.0L506.7 854.9L504.4 864.4L500.6 872.8L495.4 880.1L488.8 886.2L481.0 891.1L472.0 894.6L461.8 896.8L449.0 897.5L436.2 896.8L426.0 894.6L417.0 891.1L409.2 886.2L402.6 880.1L397.4 872.8L393.6 864.4L391.3 854.9L390.5 843.0L391.3 831.1L393.6 821.6L397.4 813.2L402.6 805.9L409.2 799.8L417.0 794.9L426.0 791.4L436.2 789.2L449.0 788.5L461.8 789.2L472.0 791.4L481.0 794.9L488.8 799.8L495.4 805.9L500.6 813.2L504.4 821.6L506.7 831.1ZM685.5 843.0L684.7 854.9L682.4 864.4L678.6 872.8L673.4 880.1L666.8 886.2L659.0 891.1L650.0 894.6L639.8 896.8L627.0 897.5L614.2 896.8L604.0 894.6L595.0 891.1L587.2 886.2L580.6 880.1L575.4 872.8L571.6 864.4L569.3 854.9L568.5 843.0L569.3 831.1L571.6 821.6L575.4 813.2L580.6 805.9L587.2 799.8L595.0 794.9L604.0 791.4L614.2 789.2L627.0 788.5L639.8 789.2L650.0 791.4L659.0 794.9L666.8 799.8L673.4 805.9L678.6 813.2L682.4 821.6L684.7 831.1ZM855.5 843.0L854.7 854.9L852.4 864.4L848.6 872.8L843.4 880.1L836.8 886.2L829.0 891.1L820.0 894.6L809.8 896.8L797.0 897.5L784.2 896.8L774.0 894.6L765.0 891.1L757.2 886.2L750.6 880.1L745.4 872.8L741.6 864.4L739.3 854.9L738.5 843.0L739.3 831.1L741.6 821.6L745.4 813.2L750.6 805.9L757.2 799.8L765.0 794.9L774.0 791.4L784.2 789.2L797.0 788.5L809.8 789.2L820.0 791.4L829.0 794.9L836.8 799.8L843.4 805.9L848.6 813.2L852.4 821.6L854.7 831.1ZM86.5 920.0L85.7 931.9L83.4 941.4L79.6 949.8L74.4 957.1L67.8 963.2L60.0 968.1L51.0 971.6L40.8 973.8L28.0 974.5L15.2 973.8L5.0 971.6L-4.0 968.1L-11.8 963.2L-18.4 957.1L-23.6 949.8L-27.4 941.4L-29.7 931.9L-30.5 920.0L-29.7 908.1L-27.4 898.6L-23.6 890.2L-18.4 882.9L-11.8 876.8L-4.0 871.9L5.0 868.4L15.2 866.2L28.0 865.5L40.8 866.2L51.0 868.4L60.0 871.9L67.8 876.8L74.4 882.9L79.6 890.2L83.4 898.6L85.7 908.1ZM255.5 920.0L254.7 931.9L252.4 941.4L248.6 949.8L243.4 957.1L236.8 963.2L229.0 968.1L220.0 971.6L209.8 973.8L197.0 974.5L184.2 973.8L174.0 971.6L165.0 968.1L157.2 963.2L150.6 957.1L145.4 949.8L141.6 941.4L139.3 931.9L138.5 920.0L139.3 908.1L141.6 898.6L145.4 890.2L150.6 882.9L157.2 876.8L165.0 871.9L174.0 868.4L184.2 866.2L197.0 865.5L209.8 866.2L220.0 868.4L229.0 871.9L236.8 876.8L243.4 882.9L248.6 890.2L252.4 898.6L254.7 908.1ZM425.5 920.0L424.7 931.9L422.4 941.4L418.6 949.8L413.4 957.1L406.8 963.2L399.0 968.1L390.0 971.6L379.8 973.8L367.0 974.5L354.2 973.8L344.0 971.6L335.0 968.1L327.2 963.2L320.6 957.1L315.4 949.8L311.6 941.4L309.3 931.9L308.5 920.0L309.3 908.1L311.6 898.6L315.4 890.2L320.6 882.9L327.2 876.8L335.0 871.9L344.0 868.4L354.2 866.2L367.0 865.5L379.8 866.2L390.0 868.4L399.0 871.9L406.8 876.8L413.4 882.9L418.6 890.2L422.4 898.6L424.7 908.1ZM600.5 920.0L599.7 931.9L597.4 941.4L593.6 949.8L588.4 957.1L581.8 963.2L574.0 968.1L565.0 971.6L554.8 973.8L542.0 974.5L529.2 973.8L519.0 971.6L510.0 968.1L502.2 963.2L495.6 957.1L490.4 949.8L486.6 941.4L484.3 931.9L483.5 920.0L484.3 908.1L486.6 898.6L490.4 890.2L495.6 882.9L502.2 876.8L510.0 871.9L519.0 868.4L529.2 866.2L542.0 865.5L554.8 866.2L565.0 868.4L574.0 871.9L581.8 876.8L588.4 882.9L593.6 890.2L597.4 898.6L599.7 908.1ZM778.5 920.0L777.7 931.9L775.4 941.4L771.6 949.8L766.4 957.1L759.8 963.2L752.0 968.1L743.0 971.6L732.8 973.8L720.0 974.5L707.2 973.8L697.0 971.6L688.0 968.1L680.2 963.2L673.6 957.1L668.4 949.8L664.6 941.4L662.3 931.9L661.5 920.0L662.3 908.1L664.6 898.6L668.4 890.2L673.6 882.9L680.2 876.8L688.0 871.9L697.0 868.4L707.2 866.2L720.0 865.5L732.8 866.2L743.0 868.4L752.0 871.9L759.8 876.8L766.4 882.9L771.6 890.2L775.4 898.6L777.7 908.1ZM3.5 996.0L2.7 1007.9L0.4 1017.4L-3.4 1025.8L-8.6 1033.1L-15.2 1039.2L-23.0 1044.1L-32.0 1047.6L-42.2 1049.8L-55.0 1050.5L-67.8 1049.8L-78.0 1047.6L-87.0 1044.1L-94.8 1039.2L-101.4 1033.1L-106.6 1025.8L-110.4 1017.4L-112.7 1007.9L-113.5 996.0L-112.7 984.1L-110.4 974.6L-106.6 966.2L-101.4 958.9L-94.8 952.8L-87.0 947.9L-78.0 944.4L-67.8 942.2L-55.0 941.5L-42.2 942.2L-32.0 944.4L-23.0 947.9L-15.2 952.8L-8.6 958.9L-3.4 966.2L0.4 974.6L2.7 984.1ZM171.5 996.0L170.7 1007.9L168.4 1017.4L164.6 1025.8L159.4 1033.1L152.8 1039.2L145.0 1044.1L136.0 1047.6L125.8 1049.8L113.0 1050.5L100.2 1049.8L90.0 1047.6L81.0 1044.1L73.2 1039.2L66.6 1033.1L61.4 1025.8L57.6 1017.4L55.3 1007.9L54.5 996.0L55.3 984.1L57.6 974.6L61.4 966.2L66.6 958.9L73.2 952.8L81.0 947.9L90.0 944.4L100.2 942.2L113.0 941.5L125.8 942.2L136.0 944.4L145.0 947.9L152.8 952.8L159.4 958.9L164.6 966.2L168.4 974.6L170.7 984.1ZM342.5 996.0L341.7 1007.9L339.4 1017.4L335.6 1025.8L330.4 1033.1L323.8 1039.2L316.0 1044.1L307.0 1047.6L296.8 1049.8L284.0 1050.5L271.2 1049.8L261.0 1047.6L252.0 1044.1L244.2 1039.2L237.6 1033.1L232.4 1025.8L228.6 1017.4L226.3 1007.9L225.5 996.0L226.3 984.1L228.6 974.6L232.4 966.2L237.6 958.9L244.2 952.8L252.0 947.9L261.0 944.4L271.2 942.2L284.0 941.5L296.8 942.2L307.0 944.4L316.0 947.9L323.8 952.8L330.4 958.9L335.6 966.2L339.4 974.6L341.7 984.1ZM509.5 996.0L508.7 1007.9L506.4 1017.4L502.6 1025.8L497.4 1033.1L490.8 1039.2L483.0 1044.1L474.0 1047.6L463.8 1049.8L451.0 1050.5L438.2 1049.8L428.0 1047.6L419.0 1044.1L411.2 1039.2L404.6 1033.1L399.4 1025.8L395.6 1017.4L393.3 1007.9L392.5 996.0L393.3 984.1L395.6 974.6L399.4 966.2L404.6 958.9L411.2 952.8L419.0 947.9L428.0 944.4L438.2 942.2L451.0 941.5L463.8 942.2L474.0 944.4L483.0 947.9L490.8 952.8L497.4 958.9L502.6 966.2L506.4 974.6L508.7 984.1ZM686.5 996.0L685.7 1007.9L683.4 1017.4L679.6 1025.8L674.4 1033.1L667.8 1039.2L660.0 1044.1L651.0 1047.6L640.8 1049.8L628.0 1050.5L615.2 1049.8L605.0 1047.6L596.0 1044.1L588.2 1039.2L581.6 1033.1L576.4 1025.8L572.6 1017.4L570.3 1007.9L569.5 996.0L570.3 984.1L572.6 974.6L576.4 966.2L581.6 958.9L588.2 952.8L596.0 947.9L605.0 944.4L615.2 942.2L628.0 941.5L640.8 942.2L651.0 944.4L660.0 947.9L667.8 952.8L674.4 958.9L679.6 966.2L683.4 974.6L685.7 984.1ZM858.5 996.0L857.7 1007.9L855.4 1017.4L851.6 1025.8L846.4 1033.1L839.8 1039.2L832.0 1044.1L823.0 1047.6L812.8 1049.8L800.0 1050.5L787.2 1049.8L777.0 1047.6L768.0 1044.1L760.2 1039.2L753.6 1033.1L748.4 1025.8L744.6 1017.4L742.3 1007.9L741.5 996.0L742.3 984.1L744.6 974.6L748.4 966.2L753.6 958.9L760.2 952.8L768.0 947.9L777.0 944.4L787.2 942.2L800.0 941.5L812.8 942.2L823.0 944.4L832.0 947.9L839.8 952.8L846.4 958.9L851.6 966.2L855.4 974.6L857.7 984.1ZM88.5 1072.0L87.7 1083.9L85.4 1093.4L81.6 1101.8L76.4 1109.1L69.8 1115.2L62.0 1120.1L53.0 1123.6L42.8 1125.8L30.0 1126.5L17.2 1125.8L7.0 1123.6L-2.0 1120.1L-9.8 1115.2L-16.4 1109.1L-21.6 1101.8L-25.4 1093.4L-27.7 1083.9L-28.5 1072.0L-27.7 1060.1L-25.4 1050.6L-21.6 1042.2L-16.4 1034.9L-9.8 1028.8L-2.0 1023.9L7.0 1020.4L17.2 1018.2L30.0 1017.5L42.8 1018.2L53.0 1020.4L62.0 1023.9L69.8 1028.8L76.4 1034.9L81.6 1042.2L85.4 1050.6L87.7 1060.1ZM259.5 1072.0L258.7 1083.9L256.4 1093.4L252.6 1101.8L247.4 1109.1L240.8 1115.2L233.0 1120.1L224.0 1123.6L213.8 1125.8L201.0 1126.5L188.2 1125.8L178.0 1123.6L169.0 1120.1L161.2 1115.2L154.6 1109.1L149.4 1101.8L145.6 1093.4L143.3 1083.9L142.5 1072.0L143.3 1060.1L145.6 1050.6L149.4 1042.2L154.6 1034.9L161.2 1028.8L169.0 1023.9L178.0 1020.4L188.2 1018.2L201.0 1017.5L213.8 1018.2L224.0 1020.4L233.0 1023.9L240.8 1028.8L247.4 1034.9L252.6 1042.2L256.4 1050.6L258.7 1060.1ZM430.5 1072.0L429.7 1083.9L427.4 1093.4L423.6 1101.8L418.4 1109.1L411.8 1115.2L404.0 1120.1L395.0 1123.6L384.8 1125.8L372.0 1126.5L359.2 1125.8L349.0 1123.6L340.0 1120.1L332.2 1115.2L325.6 1109.1L320.4 1101.8L316.6 1093.4L314.3 1083.9L313.5 1072.0L314.3 1060.1L316.6 1050.6L320.4 1042.2L325.6 1034.9L332.2 1028.8L340.0 1023.9L349.0 1020.4L359.2 1018.2L372.0 1017.5L384.8 1018.2L395.0 1020.4L404.0 1023.9L411.8 1028.8L418.4 1034.9L423.6 1042.2L427.4 1050.6L429.7 1060.1ZM603.5 1072.0L602.7 1083.9L600.4 1093.4L596.6 1101.8L591.4 1109.1L584.8 1115.2L577.0 1120.1L568.0 1123.6L557.8 1125.8L545.0 1126.5L532.2 1125.8L522.0 1123.6L513.0 1120.1L505.2 1115.2L498.6 1109.1L493.4 1101.8L489.6 1093.4L487.3 1083.9L486.5 1072.0L487.3 1060.1L489.6 1050.6L493.4 1042.2L498.6 1034.9L505.2 1028.8L513.0 1023.9L522.0 1020.4L532.2 1018.2L545.0 1017.5L557.8 1018.2L568.0 1020.4L577.0 1023.9L584.8 1028.8L591.4 1034.9L596.6 1042.2L600.4 1050.6L602.7 1060.1ZM782.5 1072.0L781.7 1083.9L779.4 1093.4L775.6 1101.8L770.4 1109.1L763.8 1115.2L756.0 1120.1L747.0 1123.6L736.8 1125.8L724.0 1126.5L711.2 1125.8L701.0 1123.6L692.0 1120.1L684.2 1115.2L677.6 1109.1L672.4 1101.8L668.6 1093.4L666.3 1083.9L665.5 1072.0L666.3 1060.1L668.6 1050.6L672.4 1042.2L677.6 1034.9L684.2 1028.8L692.0 1023.9L701.0 1020.4L711.2 1018.2L724.0 1017.5L736.8 1018.2L747.0 1020.4L756.0 1023.9L763.8 1028.8L770.4 1034.9L775.6 1042.2L779.4 1050.6L781.7 1060.1ZM5.5 1148.0L4.7 1159.9L2.4 1169.4L-1.4 1177.8L-6.6 1185.1L-13.2 1191.2L-21.0 1196.1L-30.0 1199.6L-40.2 1201.8L-53.0 1202.5L-65.8 1201.8L-76.0 1199.6L-85.0 1196.1L-92.8 1191.2L-99.4 1185.1L-104.6 1177.8L-108.4 1169.4L-110.7 1159.9L-111.5 1148.0L-110.7 1136.1L-108.4 1126.6L-104.6 1118.2L-99.4 1110.9L-92.8 1104.8L-85.0 1099.9L-76.0 1096.4L-65.8 1094.2L-53.0 1093.5L-40.2 1094.2L-30.0 1096.4L-21.0 1099.9L-13.2 1104.8L-6.6 1110.9L-1.4 1118.2L2.4 1126.6L4.7 1136.1ZM173.5 1148.0L172.7 1159.9L170.4 1169.4L166.6 1177.8L161.4 1185.1L154.8 1191.2L147.0 1196.1L138.0 1199.6L127.8 1201.8L115.0 1202.5L102.2 1201.8L92.0 1199.6L83.0 1196.1L75.2 1191.2L68.6 1185.1L63.4 1177.8L59.6 1169.4L57.3 1159.9L56.5 1148.0L57.3 1136.1L59.6 1126.6L63.4 1118.2L68.6 1110.9L75.2 1104.8L83.0 1099.9L92.0 1096.4L102.2 1094.2L115.0 1093.5L127.8 1094.2L138.0 1096.4L147.0 1099.9L154.8 1104.8L161.4 1110.9L166.6 1118.2L170.4 1126.6L172.7 1136.1ZM346.5 1148.0L345.7 1159.9L343.4 1169.4L339.6 1177.8L334.4 1185.1L327.8 1191.2L320.0 1196.1L311.0 1199.6L300.8 1201.8L288.0 1202.5L275.2 1201.8L265.0 1199.6L256.0 1196.1L248.2 1191.2L241.6 1185.1L236.4 1177.8L232.6 1169.4L230.3 1159.9L229.5 1148.0L230.3 1136.1L232.6 1126.6L236.4 1118.2L241.6 1110.9L248.2 1104.8L256.0 1099.9L265.0 1096.4L275.2 1094.2L288.0 1093.5L300.8 1094.2L311.0 1096.4L320.0 1099.9L327.8 1104.8L334.4 1110.9L339.6 1118.2L343.4 1126.6L345.7 1136.1ZM513.5 1148.0L512.7 1159.9L510.4 1169.4L506.6 1177.8L501.4 1185.1L494.8 1191.2L487.0 1196.1L478.0 1199.6L467.8 1201.8L455.0 1202.5L442.2 1201.8L432.0 1199.6L423.0 1196.1L415.2 1191.2L408.6 1185.1L403.4 1177.8L399.6 1169.4L397.3 1159.9L396.5 1148.0L397.3 1136.1L399.6 1126.6L403.4 1118.2L408.6 1110.9L415.2 1104.8L423.0 1099.9L432.0 1096.4L442.2 1094.2L455.0 1093.5L467.8 1094.2L478.0 1096.4L487.0 1099.9L494.8 1104.8L501.4 1110.9L506.6 1118.2L510.4 1126.6L512.7 1136.1ZM690.5 1148.0L689.7 1159.9L687.4 1169.4L683.6 1177.8L678.4 1185.1L671.8 1191.2L664.0 1196.1L655.0 1199.6L644.8 1201.8L632.0 1202.5L619.2 1201.8L609.0 1199.6L600.0 1196.1L592.2 1191.2L585.6 1185.1L580.4 1177.8L576.6 1169.4L574.3 1159.9L573.5 1148.0L574.3 1136.1L576.6 1126.6L580.4 1118.2L585.6 1110.9L592.2 1104.8L600.0 1099.9L609.0 1096.4L619.2 1094.2L632.0 1093.5L644.8 1094.2L655.0 1096.4L664.0 1099.9L671.8 1104.8L678.4 1110.9L683.6 1118.2L687.4 1126.6L689.7 1136.1ZM862.5 1148.0L861.7 1159.9L859.4 1169.4L855.6 1177.8L850.4 1185.1L843.8 1191.2L836.0 1196.1L827.0 1199.6L816.8 1201.8L804.0 1202.5L791.2 1201.8L781.0 1199.6L772.0 1196.1L764.2 1191.2L757.6 1185.1L752.4 1177.8L748.6 1169.4L746.3 1159.9L745.5 1148.0L746.3 1136.1L748.6 1126.6L752.4 1118.2L757.6 1110.9L764.2 1104.8L772.0 1099.9L781.0 1096.4L791.2 1094.2L804.0 1093.5L816.8 1094.2L827.0 1096.4L836.0 1099.9L843.8 1104.8L850.4 1110.9L855.6 1118.2L859.4 1126.6L861.7 1136.1ZM91.5 1225.0L90.7 1236.9L88.4 1246.4L84.6 1254.8L79.4 1262.1L72.8 1268.2L65.0 1273.1L56.0 1276.6L45.8 1278.8L33.0 1279.5L20.2 1278.8L10.0 1276.6L1.0 1273.1L-6.8 1268.2L-13.4 1262.1L-18.6 1254.8L-22.4 1246.4L-24.7 1236.9L-25.5 1225.0L-24.7 1213.1L-22.4 1203.6L-18.6 1195.2L-13.4 1187.9L-6.8 1181.8L1.0 1176.9L10.0 1173.4L20.2 1171.2L33.0 1170.5L45.8 1171.2L56.0 1173.4L65.0 1176.9L72.8 1181.8L79.4 1187.9L84.6 1195.2L88.4 1203.6L90.7 1213.1ZM259.5 1225.0L258.7 1236.9L256.4 1246.4L252.6 1254.8L247.4 1262.1L240.8 1268.2L233.0 1273.1L224.0 1276.6L213.8 1278.8L201.0 1279.5L188.2 1278.8L178.0 1276.6L169.0 1273.1L161.2 1268.2L154.6 1262.1L149.4 1254.8L145.6 1246.4L143.3 1236.9L142.5 1225.0L143.3 1213.1L145.6 1203.6L149.4 1195.2L154.6 1187.9L161.2 1181.8L169.0 1176.9L178.0 1173.4L188.2 1171.2L201.0 1170.5L213.8 1171.2L224.0 1173.4L233.0 1176.9L240.8 1181.8L247.4 1187.9L252.6 1195.2L256.4 1203.6L258.7 1213.1ZM432.5 1225.0L431.7 1236.9L429.4 1246.4L425.6 1254.8L420.4 1262.1L413.8 1268.2L406.0 1273.1L397.0 1276.6L386.8 1278.8L374.0 1279.5L361.2 1278.8L351.0 1276.6L342.0 1273.1L334.2 1268.2L327.6 1262.1L322.4 1254.8L318.6 1246.4L316.3 1236.9L315.5 1225.0L316.3 1213.1L318.6 1203.6L322.4 1195.2L327.6 1187.9L334.2 1181.8L342.0 1176.9L351.0 1173.4L361.2 1171.2L374.0 1170.5L386.8 1171.2L397.0 1173.4L406.0 1176.9L413.8 1181.8L420.4 1187.9L425.6 1195.2L429.4 1203.6L431.7 1213.1ZM606.5 1225.0L605.7 1236.9L603.4 1246.4L599.6 1254.8L594.4 1262.1L587.8 1268.2L580.0 1273.1L571.0 1276.6L560.8 1278.8L548.0 1279.5L535.2 1278.8L525.0 1276.6L516.0 1273.1L508.2 1268.2L501.6 1262.1L496.4 1254.8L492.6 1246.4L490.3 1236.9L489.5 1225.0L490.3 1213.1L492.6 1203.6L496.4 1195.2L501.6 1187.9L508.2 1181.8L516.0 1176.9L525.0 1173.4L535.2 1171.2L548.0 1170.5L560.8 1171.2L571.0 1173.4L580.0 1176.9L587.8 1181.8L594.4 1187.9L599.6 1195.2L603.4 1203.6L605.7 1213.1ZM786.5 1225.0L785.7 1236.9L783.4 1246.4L779.6 1254.8L774.4 1262.1L767.8 1268.2L760.0 1273.1L751.0 1276.6L740.8 1278.8L728.0 1279.5L715.2 1278.8L705.0 1276.6L696.0 1273.1L688.2 1268.2L681.6 1262.1L676.4 1254.8L672.6 1246.4L670.3 1236.9L669.5 1225.0L670.3 1213.1L672.6 1203.6L676.4 1195.2L681.6 1187.9L688.2 1181.8L696.0 1176.9L705.0 1173.4L715.2 1171.2L728.0 1170.5L740.8 1171.2L751.0 1173.4L760.0 1176.9L767.8 1181.8L774.4 1187.9L779.6 1195.2L783.4 1203.6L785.7 1213.1ZM8.5 1302.0L7.7 1313.9L5.4 1323.4L1.6 1331.8L-3.6 1339.1L-10.2 1345.2L-18.0 1350.1L-27.0 1353.6L-37.2 1355.8L-50.0 1356.5L-62.8 1355.8L-73.0 1353.6L-82.0 1350.1L-89.8 1345.2L-96.4 1339.1L-101.6 1331.8L-105.4 1323.4L-107.7 1313.9L-108.5 1302.0L-107.7 1290.1L-105.4 1280.6L-101.6 1272.2L-96.4 1264.9L-89.8 1258.8L-82.0 1253.9L-73.0 1250.4L-62.8 1248.2L-50.0 1247.5L-37.2 1248.2L-27.0 1250.4L-18.0 1253.9L-10.2 1258.8L-3.6 1264.9L1.6 1272.2L5.4 1280.6L7.7 1290.1ZM176.5 1302.0L175.7 1313.9L173.4 1323.4L169.6 1331.8L164.4 1339.1L157.8 1345.2L150.0 1350.1L141.0 1353.6L130.8 1355.8L118.0 1356.5L105.2 1355.8L95.0 1353.6L86.0 1350.1L78.2 1345.2L71.6 1339.1L66.4 1331.8L62.6 1323.4L60.3 1313.9L59.5 1302.0L60.3 1290.1L62.6 1280.6L66.4 1272.2L71.6 1264.9L78.2 1258.8L86.0 1253.9L95.0 1250.4L105.2 1248.2L118.0 1247.5L130.8 1248.2L141.0 1250.4L150.0 1253.9L157.8 1258.8L164.4 1264.9L169.6 1272.2L173.4 1280.6L175.7 1290.1ZM346.5 1302.0L345.7 1313.9L343.4 1323.4L339.6 1331.8L334.4 1339.1L327.8 1345.2L320.0 1350.1L311.0 1353.6L300.8 1355.8L288.0 1356.5L275.2 1355.8L265.0 1353.6L256.0 1350.1L248.2 1345.2L241.6 1339.1L236.4 1331.8L232.6 1323.4L230.3 1313.9L229.5 1302.0L230.3 1290.1L232.6 1280.6L236.4 1272.2L241.6 1264.9L248.2 1258.8L256.0 1253.9L265.0 1250.4L275.2 1248.2L288.0 1247.5L300.8 1248.2L311.0 1250.4L320.0 1253.9L327.8 1258.8L334.4 1264.9L339.6 1272.2L343.4 1280.6L345.7 1290.1ZM516.5 1302.0L515.7 1313.9L513.4 1323.4L509.6 1331.8L504.4 1339.1L497.8 1345.2L490.0 1350.1L481.0 1353.6L470.8 1355.8L458.0 1356.5L445.2 1355.8L435.0 1353.6L426.0 1350.1L418.2 1345.2L411.6 1339.1L406.4 1331.8L402.6 1323.4L400.3 1313.9L399.5 1302.0L400.3 1290.1L402.6 1280.6L406.4 1272.2L411.6 1264.9L418.2 1258.8L426.0 1253.9L435.0 1250.4L445.2 1248.2L458.0 1247.5L470.8 1248.2L481.0 1250.4L490.0 1253.9L497.8 1258.8L504.4 1264.9L509.6 1272.2L513.4 1280.6L515.7 1290.1ZM694.5 1302.0L693.7 1313.9L691.4 1323.4L687.6 1331.8L682.4 1339.1L675.8 1345.2L668.0 1350.1L659.0 1353.6L648.8 1355.8L636.0 1356.5L623.2 1355.8L613.0 1353.6L604.0 1350.1L596.2 1345.2L589.6 1339.1L584.4 1331.8L580.6 1323.4L578.3 1313.9L577.5 1302.0L578.3 1290.1L580.6 1280.6L584.4 1272.2L589.6 1264.9L596.2 1258.8L604.0 1253.9L613.0 1250.4L623.2 1248.2L636.0 1247.5L648.8 1248.2L659.0 1250.4L668.0 1253.9L675.8 1258.8L682.4 1264.9L687.6 1272.2L691.4 1280.6L693.7 1290.1ZM864.5 1302.0L863.7 1313.9L861.4 1323.4L857.6 1331.8L852.4 1339.1L845.8 1345.2L838.0 1350.1L829.0 1353.6L818.8 1355.8L806.0 1356.5L793.2 1355.8L783.0 1353.6L774.0 1350.1L766.2 1345.2L759.6 1339.1L754.4 1331.8L750.6 1323.4L748.3 1313.9L747.5 1302.0L748.3 1290.1L750.6 1280.6L754.4 1272.2L759.6 1264.9L766.2 1258.8L774.0 1253.9L783.0 1250.4L793.2 1248.2L806.0 1247.5L818.8 1248.2L829.0 1250.4L838.0 1253.9L845.8 1258.8L852.4 1264.9L857.6 1272.2L861.4 1280.6L863.7 1290.1Z"/>
<path d="M1.6 711.2L-31.6 745.8M84.8 746.6L53.2 710.4M170.0 711.1L137.0 745.9M253.4 746.5L221.6 710.5M340.4 710.5L308.6 746.5M424.6 745.8L391.4 711.2M509.0 710.2L478.0 746.8M596.0 745.9L563.0 711.1M683.8 709.6L654.2 747.4M771.5 744.9L736.5 712.1M2.7 822.2L-30.7 787.8M85.5 786.7L54.5 823.3M171.1 822.3L137.9 787.7M254.1 786.7L222.9 823.3M341.5 822.9L309.5 787.1M424.9 787.5L392.1 822.5M509.5 823.3L478.5 786.7M598.7 786.8L567.3 823.2M687.9 823.4L657.1 786.6M774.1 787.7L740.9 822.3M4.0 864.1L-29.0 898.9M87.4 899.5L55.6 863.5M172.4 864.0L139.6 899.0M256.0 899.4L224.0 863.6M341.2 863.8L308.8 899.2M424.4 899.0L391.6 864.0M510.8 863.0L480.2 900.0M600.6 899.3L568.4 863.7M688.8 863.0L658.2 900.0M775.5 898.5L741.5 864.5M2.7 975.7L-29.7 940.3M86.5 940.1L54.5 975.9M171.1 975.8L138.9 940.2M256.3 939.9L224.7 976.1M341.7 975.7L309.3 940.3M425.1 940.2L392.9 975.8M511.9 976.4L481.1 939.6M600.9 940.0L569.1 976.0M689.3 976.5L658.7 939.5M776.5 940.6L743.5 975.4M3.5 1016.1L-28.5 1051.9M87.7 1051.7L55.3 1016.3M172.7 1015.8L141.3 1052.2M258.7 1051.7L226.3 1016.3M343.7 1015.8L312.3 1052.2M428.1 1051.3L394.9 1016.7M513.1 1015.3L482.9 1052.7M602.7 1051.7L570.3 1016.3M690.9 1015.2L661.1 1052.8M779.0 1051.0L745.0 1017.0M4.7 1127.7L-27.7 1092.3M88.5 1092.1L56.5 1127.9M173.9 1128.0L142.1 1092.0M260.3 1091.9L228.7 1128.1M346.1 1127.8L313.9 1092.2M429.7 1092.3L397.3 1127.7M515.5 1128.3L484.5 1091.7M604.3 1091.9L572.7 1128.1M693.3 1128.5L662.7 1091.5M780.5 1092.6L747.5 1127.4M6.0 1168.6L-26.0 1204.4M90.4 1204.0L57.6 1169.0M174.0 1168.6L142.0 1204.4M260.4 1204.5L228.6 1168.5M347.0 1168.6L315.0 1204.4M431.0 1203.9L398.0 1169.1M516.8 1168.0L486.2 1205.0M606.2 1204.2L573.8 1168.8M695.0 1167.8L665.0 1205.2M783.1 1203.4L748.9 1169.6M7.8 1281.1L-24.8 1245.9M91.6 1245.7L59.4 1281.3M175.8 1281.1L143.2 1245.9M260.4 1245.5L228.6 1281.5M347.0 1281.4L315.0 1245.6M432.2 1245.8L399.8 1281.2M518.6 1281.7L487.4 1245.3M607.8 1245.4L576.2 1281.6M697.4 1281.9L666.6 1245.1M783.9 1246.4L750.1 1280.6" fill="none" stroke="#000" stroke-width="5" stroke-opacity="0.42" stroke-linecap="round"/>
</g>
</g>
<line x1="541.4" y1="679" x2="541.4" y2="1230" stroke="#0a0aff" stroke-width="7.5" stroke-dasharray="25.5 37.7" stroke-linecap="round"/>
<rect x="91" y="673.6" width="584" height="557.2" fill="none" stroke="#000" stroke-width="1.6"/>
<line x1="91" y1="1230.8" x2="91" y2="1242.3" stroke="#000" stroke-width="1.6"/>
<line x1="164" y1="1230.8" x2="164" y2="1237.8" stroke="#000" stroke-width="1.6"/>
<line x1="237" y1="1230.8" x2="237" y2="1242.3" stroke="#000" stroke-width="1.6"/>
<line x1="310" y1="1230.8" x2="310" y2="1237.8" stroke="#000" stroke-width="1.6"/>
<line x1="383" y1="1230.8" x2="383" y2="1242.3" stroke="#000" stroke-width="1.6"/>
<line x1="456" y1="1230.8" x2="456" y2="1237.8" stroke="#000" stroke-width="1.6"/>
<line x1="529" y1="1230.8" x2="529" y2="1242.3" stroke="#000" stroke-width="1.6"/>
<line x1="602" y1="1230.8" x2="602" y2="1237.8" stroke="#000" stroke-width="1.6"/>
<line x1="675" y1="1230.8" x2="675" y2="1242.3" stroke="#000" stroke-width="1.6"/>
<line x1="79.5" y1="1230.8" x2="91" y2="1230.8" stroke="#000" stroke-width="1.6"/>
<line x1="84" y1="1161.15" x2="91" y2="1161.15" stroke="#000" stroke-width="1.6"/>
<line x1="79.5" y1="1091.5" x2="91" y2="1091.5" stroke="#000" stroke-width="1.6"/>
<line x1="84" y1="1021.85" x2="91" y2="1021.85" stroke="#000" stroke-width="1.6"/>
<line x1="79.5" y1="952.2" x2="91" y2="952.2" stroke="#000" stroke-width="1.6"/>
<line x1="84" y1="882.55" x2="91" y2="882.55" stroke="#000" stroke-width="1.6"/>
<line x1="79.5" y1="812.9" x2="91" y2="812.9" stroke="#000" stroke-width="1.6"/>
<line x1="84" y1="743.25" x2="91" y2="743.25" stroke="#000" stroke-width="1.6"/>
<line x1="79.5" y1="673.6" x2="91" y2="673.6" stroke="#000" stroke-width="1.6"/>
<text class="ss" transform="translate(70.9 1243.1) scale(1.050 1)" font-size="45" text-anchor="end" stroke="#000" stroke-width="0.2">0.0</text>
<text class="ss" transform="translate(70.9 1103.4) scale(1.050 1)" font-size="45" text-anchor="end" stroke="#000" stroke-width="0.2">0.5</text>
<text class="ss" transform="translate(70.9 964.2) scale(1.050 1)" font-size="45" text-anchor="end" stroke="#000" stroke-width="0.2">1.0</text>
<text class="ss" transform="translate(70.9 824.9) scale(1.050 1)" font-size="45" text-anchor="end" stroke="#000" stroke-width="0.2">1.5</text>
<text class="ss" transform="translate(70.9 685.6) scale(1.050 1)" font-size="45" text-anchor="end" stroke="#000" stroke-width="0.2">2.0</text>
<text class="ss" transform="translate(89.2 1286) scale(0.990 1)" font-size="46.5" text-anchor="middle" stroke="#000" stroke-width="0.2">0.0</text>
<text class="ss" transform="translate(237.5 1286) scale(0.990 1)" font-size="46.5" text-anchor="middle" stroke="#000" stroke-width="0.2">0.5</text>
<text class="ss" transform="translate(383 1286) scale(0.990 1)" font-size="46.5" text-anchor="middle" stroke="#000" stroke-width="0.2">1.0</text>
<text class="ss" transform="translate(529 1286) scale(0.990 1)" font-size="46.5" text-anchor="middle" stroke="#000" stroke-width="0.2">1.5</text>
<text class="ss" transform="translate(674.5 1286) scale(0.990 1)" font-size="46.5" text-anchor="middle" stroke="#000" stroke-width="0.2">2.0</text>
<text class="ss" transform="translate(134 1281.8) scale(1.110 1)" font-size="43" stroke="#000" stroke-width="0.2">μm</text>
<text class="ss" transform="translate(51.4 1188.7) rotate(-90) scale(1.060 1)" font-size="45" stroke="#000" stroke-width="0.2">μm</text>
<text class="sf" transform="translate(99.1 729) scale(1.060 1)" font-size="61.7" fill="#fff" stroke="#fff" stroke-width="0.8">(c)</text>
<rect x="685.5" y="671.6" width="58.7" height="376.6" fill="url(#cb_c)"/>
<text class="ss" transform="translate(753.9 687.1) scale(1.120 1)" font-size="38" stroke="#000" stroke-width="0.2">0.08</text>
<text class="ss" transform="translate(753.2 1059.2) scale(1.110 1)" font-size="38" stroke="#000" stroke-width="0.2">-0.05</text>
<g fill="#ff0d00" stroke="none">
<text class="sf" transform="translate(354.4 909.6) scale(1.04 1)" font-size="53">Γ</text>
<text class="sf" transform="translate(234.8 1030.4) scale(1.03 1)" font-size="52.5">X</text>
<text class="sf" transform="translate(344.8 1115.6) scale(1.04 1)" font-size="52">M</text>
<line x1="366.6" y1="918.7" x2="287.5" y2="997" stroke="#ff0d00" stroke-width="1.5"/>
<line x1="366.6" y1="918.7" x2="366.6" y2="1068" stroke="#ff0d00" stroke-width="1.5"/>
<path d="M366.6 1077.5 L358.8 1062 L366.6 1067.5 L374.4 1062 Z"/>
<path d="M279.4 1004.6 L285.6 988.5 L287.8 996.6 L296.8 999 Z"/>
</g>
</g>
<g id="panel-e">
<g clip-path="url(#clip_e)">
<rect x="81.8" y="1309.2" width="594.5" height="555.8" fill="#a95c12"/><g filter="url(#soft)"><path d="M81.8 1309.2h3.13v16.3h-3.13zM81.8 1377.6h3.13v17.4h-3.13zM81.8 1395.0h3.13v4.3h-3.13zM81.8 1455.7h3.13v17.4h-3.13zM81.8 1507.9h3.13v8.7h-3.13zM81.8 1516.5h3.13v4.3h-3.13zM81.8 1538.2h3.13v26.1h-3.13zM81.8 1568.6h3.13v8.7h-3.13zM81.8 1707.6h3.13v4.3h-3.13zM81.8 1820.5h3.13v8.7h-3.13zM81.8 1850.9h3.13v4.3h-3.13zM84.9 1388.4h3.13v17.4h-3.13zM84.9 1531.7h3.13v4.3h-3.13zM84.9 1575.1h3.13v4.3h-3.13zM84.9 1614.2h3.13v4.3h-3.13zM84.9 1618.5h3.13v4.3h-3.13zM84.9 1640.3h3.13v4.3h-3.13zM84.9 1644.6h3.13v13.0h-3.13zM84.9 1662.0h3.13v13.0h-3.13zM84.9 1675.0h3.13v13.0h-3.13zM84.9 1696.7h3.13v13.0h-3.13zM84.9 1709.7h3.13v8.7h-3.13zM84.9 1735.8h3.13v17.4h-3.13zM88.1 1318.0h3.13v17.4h-3.13zM88.1 1365.7h3.13v8.7h-3.13zM88.1 1404.8h3.13v4.3h-3.13zM88.1 1417.8h3.13v13.0h-3.13zM88.1 1439.6h3.13v17.4h-3.13zM88.1 1470.0h3.13v8.7h-3.13zM88.1 1478.6h3.13v8.7h-3.13zM88.1 1487.3h3.13v4.3h-3.13zM88.1 1669.7h3.13v4.3h-3.13zM88.1 1708.8h3.13v13.0h-3.13zM88.1 1747.9h3.13v8.7h-3.13zM88.1 1813.0h3.13v8.7h-3.13zM91.2 1370.8h3.13v8.7h-3.13zM91.2 1461.9h3.13v26.1h-3.13zM91.2 1522.7h3.13v4.3h-3.13zM91.2 1596.6h3.13v17.4h-3.13zM91.2 1644.3h3.13v17.4h-3.13zM91.2 1705.1h3.13v17.4h-3.13zM91.2 1787.6h3.13v17.4h-3.13zM91.2 1805.0h3.13v4.3h-3.13zM91.2 1844.1h3.13v13.0h-3.13zM91.2 1857.1h3.13v4.3h-3.13zM94.3 1346.1h3.13v8.7h-3.13zM94.3 1389.5h3.13v8.7h-3.13zM94.3 1619.6h3.13v8.7h-3.13zM94.3 1715.2h3.13v4.3h-3.13zM94.3 1802.0h3.13v13.0h-3.13zM97.4 1309.2h3.13v6.5h-3.13zM97.4 1333.0h3.13v4.3h-3.13zM97.4 1337.4h3.13v8.7h-3.13zM97.4 1393.8h3.13v8.7h-3.13zM97.4 1428.5h3.13v4.3h-3.13zM97.4 1432.9h3.13v4.3h-3.13zM97.4 1437.2h3.13v26.1h-3.13zM97.4 1463.3h3.13v4.3h-3.13zM97.4 1502.4h3.13v4.3h-3.13zM97.4 1545.8h3.13v13.0h-3.13zM97.4 1567.5h3.13v17.4h-3.13zM97.4 1584.9h3.13v8.7h-3.13zM97.4 1606.6h3.13v4.3h-3.13zM97.4 1719.5h3.13v4.3h-3.13zM97.4 1723.8h3.13v8.7h-3.13zM97.4 1771.6h3.13v13.0h-3.13zM97.4 1797.6h3.13v4.3h-3.13zM97.4 1828.0h3.13v8.7h-3.13zM100.6 1309.5h3.13v4.3h-3.13zM100.6 1422.4h3.13v8.7h-3.13zM100.6 1435.4h3.13v13.0h-3.13zM100.6 1448.4h3.13v17.4h-3.13zM100.6 1669.9h3.13v8.7h-3.13zM100.6 1687.2h3.13v4.3h-3.13zM100.6 1735.0h3.13v4.3h-3.13zM100.6 1791.4h3.13v8.7h-3.13zM100.6 1817.5h3.13v17.4h-3.13zM100.6 1843.6h3.13v4.3h-3.13zM100.6 1852.2h3.13v4.3h-3.13zM103.7 1318.8h3.13v8.7h-3.13zM103.7 1414.3h3.13v8.7h-3.13zM103.7 1423.0h3.13v17.4h-3.13zM103.7 1548.9h3.13v8.7h-3.13zM103.7 1657.5h3.13v8.7h-3.13zM103.7 1683.5h3.13v4.3h-3.13zM103.7 1818.1h3.13v4.3h-3.13zM106.8 1310.1h3.13v8.7h-3.13zM106.8 1318.8h3.13v8.7h-3.13zM106.8 1344.8h3.13v4.3h-3.13zM106.8 1353.5h3.13v13.0h-3.13zM106.8 1366.5h3.13v4.3h-3.13zM106.8 1466.4h3.13v13.0h-3.13zM106.8 1527.2h3.13v8.7h-3.13zM106.8 1553.2h3.13v13.0h-3.13zM106.8 1661.8h3.13v13.0h-3.13zM110.0 1323.1h3.13v26.1h-3.13zM110.0 1349.2h3.13v4.3h-3.13zM110.0 1388.2h3.13v4.3h-3.13zM110.0 1392.6h3.13v17.4h-3.13zM110.0 1410.0h3.13v4.3h-3.13zM110.0 1427.3h3.13v13.0h-3.13zM110.0 1522.9h3.13v8.7h-3.13zM110.0 1605.4h3.13v8.7h-3.13zM110.0 1640.1h3.13v13.0h-3.13zM110.0 1653.1h3.13v8.7h-3.13zM110.0 1700.9h3.13v17.4h-3.13zM110.0 1718.3h3.13v4.3h-3.13zM110.0 1744.3h3.13v8.7h-3.13zM110.0 1753.0h3.13v26.1h-3.13zM110.0 1787.7h3.13v13.0h-3.13zM110.0 1800.8h3.13v4.3h-3.13zM113.1 1404.1h3.13v8.7h-3.13zM113.1 1460.6h3.13v8.7h-3.13zM113.1 1547.4h3.13v8.7h-3.13zM113.1 1573.5h3.13v4.3h-3.13zM113.1 1781.9h3.13v8.7h-3.13zM113.1 1790.6h3.13v26.1h-3.13zM116.2 1321.0h3.13v8.7h-3.13zM116.2 1390.5h3.13v4.3h-3.13zM116.2 1394.8h3.13v26.1h-3.13zM116.2 1499.0h3.13v26.1h-3.13zM116.2 1533.8h3.13v26.1h-3.13zM116.2 1607.6h3.13v8.7h-3.13zM116.2 1638.0h3.13v4.3h-3.13zM116.2 1646.7h3.13v4.3h-3.13zM116.2 1707.5h3.13v13.0h-3.13zM116.2 1729.2h3.13v8.7h-3.13zM116.2 1763.9h3.13v4.3h-3.13zM119.3 1311.4h3.13v8.7h-3.13zM119.3 1350.5h3.13v13.0h-3.13zM119.3 1393.9h3.13v4.3h-3.13zM119.3 1424.3h3.13v8.7h-3.13zM119.3 1459.0h3.13v8.7h-3.13zM119.3 1537.2h3.13v26.1h-3.13zM119.3 1589.3h3.13v26.1h-3.13zM119.3 1615.3h3.13v17.4h-3.13zM119.3 1767.3h3.13v8.7h-3.13zM119.3 1823.8h3.13v4.3h-3.13zM122.5 1362.8h3.13v8.7h-3.13zM122.5 1406.2h3.13v4.3h-3.13zM122.5 1410.5h3.13v4.3h-3.13zM122.5 1414.9h3.13v13.0h-3.13zM122.5 1605.9h3.13v4.3h-3.13zM122.5 1636.3h3.13v8.7h-3.13zM122.5 1645.0h3.13v8.7h-3.13zM122.5 1671.1h3.13v8.7h-3.13zM122.5 1766.6h3.13v4.3h-3.13zM122.5 1788.3h3.13v17.4h-3.13zM122.5 1853.4h3.13v8.7h-3.13zM122.5 1862.1h3.13v2.9h-3.13zM125.6 1309.2h3.13v14.6h-3.13zM125.6 1336.8h3.13v13.0h-3.13zM125.6 1532.2h3.13v8.7h-3.13zM125.6 1601.7h3.13v8.7h-3.13zM125.6 1636.4h3.13v13.0h-3.13zM125.6 1714.6h3.13v17.4h-3.13zM125.6 1731.9h3.13v4.3h-3.13zM125.6 1740.6h3.13v26.1h-3.13zM125.6 1771.0h3.13v4.3h-3.13zM125.6 1849.2h3.13v15.8h-3.13zM128.7 1311.3h3.13v4.3h-3.13zM128.7 1315.6h3.13v17.4h-3.13zM128.7 1367.7h3.13v8.7h-3.13zM128.7 1376.4h3.13v8.7h-3.13zM128.7 1385.1h3.13v8.7h-3.13zM128.7 1406.8h3.13v8.7h-3.13zM128.7 1428.5h3.13v8.7h-3.13zM128.7 1537.1h3.13v4.3h-3.13zM128.7 1593.5h3.13v4.3h-3.13zM128.7 1602.2h3.13v4.3h-3.13zM128.7 1632.6h3.13v13.0h-3.13zM128.7 1654.3h3.13v17.4h-3.13zM128.7 1684.7h3.13v13.0h-3.13zM131.9 1309.2h3.13v2.0h-3.13zM131.9 1315.6h3.13v8.7h-3.13zM131.9 1337.3h3.13v8.7h-3.13zM131.9 1411.1h3.13v26.1h-3.13zM131.9 1450.2h3.13v26.1h-3.13zM131.9 1571.8h3.13v26.1h-3.13zM131.9 1597.8h3.13v8.7h-3.13zM131.9 1632.5h3.13v4.3h-3.13zM131.9 1671.6h3.13v4.3h-3.13zM131.9 1719.4h3.13v8.7h-3.13zM131.9 1758.5h3.13v4.3h-3.13zM131.9 1771.5h3.13v17.4h-3.13zM131.9 1801.9h3.13v17.4h-3.13zM131.9 1858.3h3.13v6.7h-3.13zM135.0 1331.4h3.13v13.0h-3.13zM135.0 1374.8h3.13v8.7h-3.13zM135.0 1405.2h3.13v4.3h-3.13zM135.0 1492.1h3.13v4.3h-3.13zM135.0 1513.8h3.13v8.7h-3.13zM135.0 1548.5h3.13v4.3h-3.13zM135.0 1609.3h3.13v4.3h-3.13zM135.0 1678.8h3.13v26.1h-3.13zM135.0 1713.5h3.13v8.7h-3.13zM135.0 1756.9h3.13v4.3h-3.13zM138.1 1340.1h3.13v4.3h-3.13zM138.1 1370.5h3.13v8.7h-3.13zM138.1 1435.6h3.13v4.3h-3.13zM138.1 1453.0h3.13v8.7h-3.13zM138.1 1461.7h3.13v4.3h-3.13zM138.1 1466.0h3.13v8.7h-3.13zM138.1 1570.2h3.13v8.7h-3.13zM138.1 1578.9h3.13v8.7h-3.13zM138.1 1587.6h3.13v4.3h-3.13zM138.1 1626.7h3.13v4.3h-3.13zM138.1 1661.4h3.13v8.7h-3.13zM138.1 1674.4h3.13v8.7h-3.13zM138.1 1704.8h3.13v4.3h-3.13zM138.1 1735.2h3.13v13.0h-3.13zM138.1 1756.9h3.13v4.3h-3.13zM138.1 1774.3h3.13v4.3h-3.13zM138.1 1835.1h3.13v26.1h-3.13zM141.2 1323.4h3.13v17.4h-3.13zM141.2 1353.8h3.13v8.7h-3.13zM141.2 1362.5h3.13v17.4h-3.13zM141.2 1392.9h3.13v17.4h-3.13zM141.2 1440.6h3.13v13.0h-3.13zM141.2 1466.7h3.13v17.4h-3.13zM141.2 1484.1h3.13v8.7h-3.13zM141.2 1527.5h3.13v8.7h-3.13zM141.2 1540.5h3.13v8.7h-3.13zM141.2 1549.2h3.13v8.7h-3.13zM141.2 1605.6h3.13v13.0h-3.13zM141.2 1640.4h3.13v4.3h-3.13zM141.2 1714.2h3.13v4.3h-3.13zM141.2 1727.2h3.13v8.7h-3.13zM141.2 1792.3h3.13v8.7h-3.13zM141.2 1801.0h3.13v8.7h-3.13zM144.4 1349.1h3.13v26.1h-3.13zM144.4 1375.2h3.13v8.7h-3.13zM144.4 1496.7h3.13v4.3h-3.13zM144.4 1579.2h3.13v4.3h-3.13zM144.4 1605.3h3.13v4.3h-3.13zM144.4 1761.6h3.13v8.7h-3.13zM144.4 1831.1h3.13v8.7h-3.13zM144.4 1861.5h3.13v3.5h-3.13zM147.5 1309.2h3.13v1.7h-3.13zM147.5 1471.6h3.13v26.1h-3.13zM147.5 1497.7h3.13v17.4h-3.13zM147.5 1588.8h3.13v17.4h-3.13zM147.5 1697.4h3.13v26.1h-3.13zM147.5 1805.9h3.13v8.7h-3.13zM147.5 1814.6h3.13v17.4h-3.13zM147.5 1858.1h3.13v4.3h-3.13zM150.6 1317.1h3.13v26.1h-3.13zM150.6 1351.9h3.13v4.3h-3.13zM150.6 1369.2h3.13v13.0h-3.13zM150.6 1412.7h3.13v17.4h-3.13zM150.6 1577.7h3.13v13.0h-3.13zM150.6 1681.9h3.13v8.7h-3.13zM150.6 1751.3h3.13v26.1h-3.13zM150.6 1816.5h3.13v8.7h-3.13zM153.8 1339.2h3.13v4.3h-3.13zM153.8 1360.9h3.13v17.4h-3.13zM153.8 1408.7h3.13v8.7h-3.13zM153.8 1443.4h3.13v4.3h-3.13zM153.8 1452.1h3.13v8.7h-3.13zM153.8 1486.8h3.13v8.7h-3.13zM153.8 1495.5h3.13v8.7h-3.13zM153.8 1512.9h3.13v17.4h-3.13zM153.8 1565.0h3.13v8.7h-3.13zM153.8 1686.6h3.13v26.1h-3.13zM153.8 1712.6h3.13v8.7h-3.13zM153.8 1777.8h3.13v4.3h-3.13zM156.9 1317.9h3.13v4.3h-3.13zM156.9 1522.0h3.13v4.3h-3.13zM156.9 1543.7h3.13v26.1h-3.13zM156.9 1569.7h3.13v17.4h-3.13zM156.9 1587.1h3.13v26.1h-3.13zM156.9 1678.3h3.13v26.1h-3.13zM156.9 1704.3h3.13v13.0h-3.13zM156.9 1721.7h3.13v13.0h-3.13zM156.9 1847.6h3.13v13.0h-3.13zM156.9 1860.7h3.13v4.3h-3.13zM160.0 1381.3h3.13v26.1h-3.13zM160.0 1411.7h3.13v8.7h-3.13zM160.0 1455.1h3.13v26.1h-3.13zM160.0 1533.3h3.13v17.4h-3.13zM160.0 1589.7h3.13v17.4h-3.13zM160.0 1698.3h3.13v4.3h-3.13zM160.0 1720.0h3.13v8.7h-3.13zM160.0 1754.7h3.13v4.3h-3.13zM160.0 1863.3h3.13v1.7h-3.13zM163.2 1340.7h3.13v26.1h-3.13zM163.2 1366.7h3.13v8.7h-3.13zM163.2 1523.0h3.13v8.7h-3.13zM163.2 1575.1h3.13v17.4h-3.13zM163.2 1592.5h3.13v4.3h-3.13zM163.2 1618.6h3.13v26.1h-3.13zM163.2 1705.4h3.13v17.4h-3.13zM166.3 1351.1h3.13v4.3h-3.13zM166.3 1355.5h3.13v4.3h-3.13zM166.3 1364.1h3.13v8.7h-3.13zM166.3 1372.8h3.13v17.4h-3.13zM166.3 1403.2h3.13v8.7h-3.13zM166.3 1411.9h3.13v4.3h-3.13zM166.3 1416.3h3.13v8.7h-3.13zM166.3 1524.8h3.13v4.3h-3.13zM166.3 1568.2h3.13v8.7h-3.13zM166.3 1581.3h3.13v8.7h-3.13zM166.3 1655.1h3.13v13.0h-3.13zM166.3 1685.5h3.13v4.3h-3.13zM166.3 1741.9h3.13v8.7h-3.13zM166.3 1807.0h3.13v13.0h-3.13zM166.3 1846.1h3.13v4.3h-3.13zM169.4 1309.2h3.13v2.5h-3.13zM169.4 1359.5h3.13v4.3h-3.13zM169.4 1363.8h3.13v8.7h-3.13zM169.4 1394.2h3.13v8.7h-3.13zM169.4 1402.9h3.13v8.7h-3.13zM169.4 1420.3h3.13v4.3h-3.13zM169.4 1424.6h3.13v8.7h-3.13zM169.4 1437.6h3.13v4.3h-3.13zM169.4 1468.0h3.13v17.4h-3.13zM169.4 1572.3h3.13v8.7h-3.13zM169.4 1580.9h3.13v26.1h-3.13zM169.4 1685.2h3.13v26.1h-3.13zM169.4 1715.5h3.13v8.7h-3.13zM169.4 1845.8h3.13v4.3h-3.13zM169.4 1858.8h3.13v6.2h-3.13zM172.5 1331.2h3.13v17.4h-3.13zM172.5 1348.6h3.13v26.1h-3.13zM172.5 1405.0h3.13v4.3h-3.13zM172.5 1470.2h3.13v4.3h-3.13zM172.5 1500.6h3.13v4.3h-3.13zM172.5 1535.3h3.13v4.3h-3.13zM172.5 1652.6h3.13v4.3h-3.13zM175.7 1335.1h3.13v13.0h-3.13zM175.7 1378.5h3.13v8.7h-3.13zM175.7 1400.2h3.13v4.3h-3.13zM175.7 1404.6h3.13v8.7h-3.13zM175.7 1417.6h3.13v8.7h-3.13zM175.7 1426.3h3.13v4.3h-3.13zM175.7 1652.1h3.13v4.3h-3.13zM175.7 1686.8h3.13v4.3h-3.13zM175.7 1721.5h3.13v17.4h-3.13zM175.7 1856.2h3.13v4.3h-3.13zM178.8 1309.2h3.13v4.5h-3.13zM178.8 1313.7h3.13v4.3h-3.13zM178.8 1378.9h3.13v4.3h-3.13zM178.8 1444.0h3.13v13.0h-3.13zM178.8 1457.0h3.13v17.4h-3.13zM178.8 1478.7h3.13v17.4h-3.13zM178.8 1504.8h3.13v13.0h-3.13zM178.8 1587.3h3.13v8.7h-3.13zM178.8 1622.0h3.13v8.7h-3.13zM178.8 1721.9h3.13v4.3h-3.13zM178.8 1782.7h3.13v4.3h-3.13zM178.8 1791.4h3.13v8.7h-3.13zM181.9 1309.2h3.13v5.1h-3.13zM181.9 1357.7h3.13v8.7h-3.13zM181.9 1366.4h3.13v4.3h-3.13zM181.9 1448.9h3.13v4.3h-3.13zM181.9 1470.6h3.13v4.3h-3.13zM181.9 1518.4h3.13v8.7h-3.13zM181.9 1583.5h3.13v26.1h-3.13zM181.9 1609.5h3.13v4.3h-3.13zM181.9 1666.0h3.13v13.0h-3.13zM181.9 1679.0h3.13v4.3h-3.13zM181.9 1722.4h3.13v4.3h-3.13zM181.9 1726.8h3.13v4.3h-3.13zM181.9 1731.1h3.13v4.3h-3.13zM181.9 1739.8h3.13v4.3h-3.13zM181.9 1831.0h3.13v26.1h-3.13zM185.1 1309.2h3.13v4.4h-3.13zM185.1 1396.1h3.13v26.1h-3.13zM185.1 1474.2h3.13v4.3h-3.13zM185.1 1504.6h3.13v17.4h-3.13zM185.1 1522.0h3.13v8.7h-3.13zM185.1 1530.7h3.13v8.7h-3.13zM185.1 1604.5h3.13v4.3h-3.13zM185.1 1634.9h3.13v4.3h-3.13zM185.1 1639.2h3.13v4.3h-3.13zM185.1 1643.6h3.13v8.7h-3.13zM185.1 1695.7h3.13v4.3h-3.13zM185.1 1786.9h3.13v4.3h-3.13zM185.1 1821.6h3.13v26.1h-3.13zM185.1 1856.4h3.13v8.6h-3.13zM188.2 1315.8h3.13v8.7h-3.13zM188.2 1350.5h3.13v26.1h-3.13zM188.2 1398.3h3.13v4.3h-3.13zM188.2 1580.7h3.13v8.7h-3.13zM188.2 1632.8h3.13v4.3h-3.13zM188.2 1658.8h3.13v17.4h-3.13zM188.2 1737.0h3.13v13.0h-3.13zM188.2 1758.7h3.13v8.7h-3.13zM191.3 1309.2h3.13v16.4h-3.13zM191.3 1369.0h3.13v8.7h-3.13zM191.3 1468.8h3.13v8.7h-3.13zM191.3 1477.5h3.13v4.3h-3.13zM191.3 1512.3h3.13v4.3h-3.13zM191.3 1525.3h3.13v8.7h-3.13zM191.3 1534.0h3.13v4.3h-3.13zM191.3 1638.2h3.13v4.3h-3.13zM191.3 1725.0h3.13v4.3h-3.13zM191.3 1777.1h3.13v8.7h-3.13zM194.4 1309.2h3.13v2.0h-3.13zM194.4 1345.9h3.13v4.3h-3.13zM194.4 1402.4h3.13v17.4h-3.13zM194.4 1463.2h3.13v4.3h-3.13zM194.4 1597.8h3.13v17.4h-3.13zM194.4 1693.3h3.13v8.7h-3.13zM194.4 1719.4h3.13v26.1h-3.13zM194.4 1810.5h3.13v8.7h-3.13zM197.6 1321.9h3.13v26.1h-3.13zM197.6 1413.1h3.13v8.7h-3.13zM197.6 1482.5h3.13v17.4h-3.13zM197.6 1512.9h3.13v8.7h-3.13zM197.6 1565.0h3.13v26.1h-3.13zM197.6 1621.5h3.13v17.4h-3.13zM197.6 1673.6h3.13v17.4h-3.13zM197.6 1691.0h3.13v26.1h-3.13zM197.6 1730.1h3.13v4.3h-3.13zM197.6 1734.4h3.13v13.0h-3.13zM197.6 1751.8h3.13v13.0h-3.13zM197.6 1795.2h3.13v26.1h-3.13zM197.6 1851.6h3.13v8.7h-3.13zM197.6 1864.7h3.13v0.3h-3.13zM200.7 1309.2h3.13v12.8h-3.13zM200.7 1343.7h3.13v8.7h-3.13zM200.7 1482.7h3.13v8.7h-3.13zM200.7 1504.4h3.13v13.0h-3.13zM200.7 1517.4h3.13v13.0h-3.13zM200.7 1556.5h3.13v13.0h-3.13zM200.7 1569.5h3.13v8.7h-3.13zM200.7 1612.9h3.13v4.3h-3.13zM200.7 1673.7h3.13v8.7h-3.13zM200.7 1682.4h3.13v17.4h-3.13zM203.8 1597.8h3.13v26.1h-3.13zM203.8 1658.6h3.13v17.4h-3.13zM203.8 1706.4h3.13v8.7h-3.13zM203.8 1719.4h3.13v4.3h-3.13zM203.8 1723.7h3.13v4.3h-3.13zM203.8 1762.8h3.13v17.4h-3.13zM203.8 1784.5h3.13v26.1h-3.13zM203.8 1819.3h3.13v8.7h-3.13zM203.8 1845.3h3.13v13.0h-3.13zM203.8 1858.4h3.13v6.6h-3.13zM207.0 1314.9h3.13v26.1h-3.13zM207.0 1380.1h3.13v13.0h-3.13zM207.0 1410.5h3.13v8.7h-3.13zM207.0 1423.5h3.13v13.0h-3.13zM207.0 1436.5h3.13v4.3h-3.13zM207.0 1466.9h3.13v13.0h-3.13zM207.0 1497.3h3.13v8.7h-3.13zM207.0 1549.4h3.13v8.7h-3.13zM207.0 1562.4h3.13v26.1h-3.13zM207.0 1605.9h3.13v4.3h-3.13zM207.0 1644.9h3.13v13.0h-3.13zM210.1 1329.3h3.13v4.3h-3.13zM210.1 1429.2h3.13v4.3h-3.13zM210.1 1468.2h3.13v17.4h-3.13zM210.1 1503.0h3.13v8.7h-3.13zM210.1 1555.1h3.13v13.0h-3.13zM210.1 1568.1h3.13v8.7h-3.13zM210.1 1607.2h3.13v8.7h-3.13zM210.1 1615.9h3.13v4.3h-3.13zM210.1 1633.2h3.13v4.3h-3.13zM210.1 1646.3h3.13v4.3h-3.13zM210.1 1650.6h3.13v4.3h-3.13zM210.1 1702.7h3.13v26.1h-3.13zM210.1 1828.6h3.13v13.0h-3.13zM213.2 1404.5h3.13v17.4h-3.13zM213.2 1421.9h3.13v4.3h-3.13zM213.2 1474.0h3.13v4.3h-3.13zM213.2 1478.3h3.13v13.0h-3.13zM213.2 1495.7h3.13v8.7h-3.13zM213.2 1504.4h3.13v17.4h-3.13zM213.2 1534.8h3.13v17.4h-3.13zM213.2 1560.8h3.13v13.0h-3.13zM213.2 1573.9h3.13v13.0h-3.13zM213.2 1612.9h3.13v4.3h-3.13zM213.2 1643.3h3.13v8.7h-3.13zM213.2 1695.4h3.13v13.0h-3.13zM216.3 1358.6h3.13v8.7h-3.13zM216.3 1549.7h3.13v17.4h-3.13zM216.3 1662.6h3.13v4.3h-3.13zM216.3 1749.4h3.13v17.4h-3.13zM216.3 1810.2h3.13v17.4h-3.13zM216.3 1827.6h3.13v8.7h-3.13zM219.5 1342.5h3.13v8.7h-3.13zM219.5 1533.5h3.13v4.3h-3.13zM219.5 1537.9h3.13v4.3h-3.13zM219.5 1563.9h3.13v13.0h-3.13zM219.5 1663.8h3.13v4.3h-3.13zM219.5 1755.0h3.13v26.1h-3.13zM219.5 1833.2h3.13v13.0h-3.13zM222.6 1331.6h3.13v26.1h-3.13zM222.6 1422.8h3.13v4.3h-3.13zM222.6 1431.5h3.13v13.0h-3.13zM222.6 1457.5h3.13v4.3h-3.13zM222.6 1522.6h3.13v4.3h-3.13zM222.6 1535.7h3.13v13.0h-3.13zM222.6 1618.2h3.13v4.3h-3.13zM222.6 1665.9h3.13v17.4h-3.13zM222.6 1718.0h3.13v4.3h-3.13zM222.6 1761.5h3.13v4.3h-3.13zM222.6 1796.2h3.13v4.3h-3.13zM222.6 1822.3h3.13v4.3h-3.13zM225.7 1309.2h3.13v21.2h-3.13zM225.7 1334.8h3.13v8.7h-3.13zM225.7 1369.5h3.13v4.3h-3.13zM225.7 1447.7h3.13v8.7h-3.13zM225.7 1547.5h3.13v4.3h-3.13zM225.7 1551.9h3.13v4.3h-3.13zM225.7 1577.9h3.13v4.3h-3.13zM225.7 1634.4h3.13v4.3h-3.13zM225.7 1721.2h3.13v17.4h-3.13zM225.7 1747.3h3.13v8.7h-3.13zM225.7 1799.4h3.13v8.7h-3.13zM228.9 1327.0h3.13v8.7h-3.13zM228.9 1335.7h3.13v4.3h-3.13zM228.9 1526.7h3.13v26.1h-3.13zM228.9 1570.1h3.13v8.7h-3.13zM228.9 1670.0h3.13v4.3h-3.13zM228.9 1687.4h3.13v13.0h-3.13zM228.9 1704.7h3.13v26.1h-3.13zM228.9 1791.6h3.13v4.3h-3.13zM228.9 1852.4h3.13v12.6h-3.13zM232.0 1337.4h3.13v8.7h-3.13zM232.0 1463.3h3.13v17.4h-3.13zM232.0 1480.7h3.13v4.3h-3.13zM232.0 1506.7h3.13v4.3h-3.13zM232.0 1515.4h3.13v8.7h-3.13zM232.0 1532.8h3.13v8.7h-3.13zM232.0 1593.6h3.13v4.3h-3.13zM232.0 1628.3h3.13v8.7h-3.13zM232.0 1680.4h3.13v8.7h-3.13zM232.0 1771.6h3.13v4.3h-3.13zM232.0 1823.7h3.13v17.4h-3.13zM235.1 1309.2h3.13v7.8h-3.13zM235.1 1360.4h3.13v17.4h-3.13zM235.1 1442.9h3.13v4.3h-3.13zM235.1 1512.4h3.13v17.4h-3.13zM235.1 1542.8h3.13v17.4h-3.13zM235.1 1607.9h3.13v26.1h-3.13zM235.1 1690.4h3.13v26.1h-3.13zM235.1 1720.8h3.13v4.3h-3.13zM238.2 1309.2h3.13v11.1h-3.13zM238.2 1337.7h3.13v17.4h-3.13zM238.2 1402.8h3.13v13.0h-3.13zM238.2 1476.6h3.13v8.7h-3.13zM238.2 1554.8h3.13v13.0h-3.13zM238.2 1593.9h3.13v4.3h-3.13zM238.2 1598.2h3.13v8.7h-3.13zM238.2 1706.8h3.13v17.4h-3.13zM238.2 1728.5h3.13v4.3h-3.13zM238.2 1771.9h3.13v26.1h-3.13zM241.4 1351.9h3.13v4.3h-3.13zM241.4 1421.3h3.13v4.3h-3.13zM241.4 1425.7h3.13v17.4h-3.13zM241.4 1443.1h3.13v4.3h-3.13zM241.4 1473.5h3.13v8.7h-3.13zM241.4 1490.8h3.13v4.3h-3.13zM241.4 1499.5h3.13v13.0h-3.13zM241.4 1512.5h3.13v8.7h-3.13zM241.4 1586.4h3.13v8.7h-3.13zM241.4 1599.4h3.13v17.4h-3.13zM241.4 1642.8h3.13v13.0h-3.13zM241.4 1664.5h3.13v13.0h-3.13zM241.4 1681.9h3.13v4.3h-3.13zM241.4 1686.2h3.13v26.1h-3.13zM241.4 1742.7h3.13v4.3h-3.13zM241.4 1747.0h3.13v13.0h-3.13zM241.4 1760.0h3.13v13.0h-3.13zM244.5 1332.3h3.13v26.1h-3.13zM244.5 1393.1h3.13v26.1h-3.13zM244.5 1445.2h3.13v4.3h-3.13zM244.5 1523.4h3.13v4.3h-3.13zM244.5 1575.5h3.13v13.0h-3.13zM244.5 1762.2h3.13v8.7h-3.13zM244.5 1836.0h3.13v8.7h-3.13zM247.6 1374.4h3.13v4.3h-3.13zM247.6 1417.8h3.13v4.3h-3.13zM247.6 1465.6h3.13v17.4h-3.13zM247.6 1482.9h3.13v8.7h-3.13zM247.6 1565.4h3.13v17.4h-3.13zM247.6 1582.8h3.13v17.4h-3.13zM247.6 1608.9h3.13v8.7h-3.13zM247.6 1617.5h3.13v4.3h-3.13zM247.6 1626.2h3.13v4.3h-3.13zM247.6 1765.2h3.13v4.3h-3.13zM247.6 1791.2h3.13v8.7h-3.13zM247.6 1799.9h3.13v8.7h-3.13zM247.6 1808.6h3.13v4.3h-3.13zM247.6 1843.3h3.13v21.7h-3.13zM250.8 1378.6h3.13v26.1h-3.13zM250.8 1404.6h3.13v13.0h-3.13zM250.8 1487.1h3.13v4.3h-3.13zM250.8 1500.2h3.13v13.0h-3.13zM250.8 1526.2h3.13v26.1h-3.13zM250.8 1643.4h3.13v4.3h-3.13zM250.8 1747.7h3.13v17.4h-3.13zM250.8 1795.4h3.13v13.0h-3.13zM250.8 1847.5h3.13v13.0h-3.13zM253.9 1329.5h3.13v26.1h-3.13zM253.9 1438.1h3.13v8.7h-3.13zM253.9 1459.8h3.13v13.0h-3.13zM253.9 1485.9h3.13v17.4h-3.13zM253.9 1507.6h3.13v13.0h-3.13zM253.9 1607.4h3.13v8.7h-3.13zM253.9 1620.5h3.13v4.3h-3.13zM253.9 1624.8h3.13v4.3h-3.13zM253.9 1668.2h3.13v8.7h-3.13zM253.9 1794.1h3.13v8.7h-3.13zM253.9 1815.9h3.13v8.7h-3.13zM253.9 1828.9h3.13v8.7h-3.13zM253.9 1841.9h3.13v4.3h-3.13zM257.0 1345.1h3.13v26.1h-3.13zM257.0 1397.2h3.13v13.0h-3.13zM257.0 1410.2h3.13v8.7h-3.13zM257.0 1436.3h3.13v26.1h-3.13zM257.0 1553.5h3.13v26.1h-3.13zM257.0 1579.6h3.13v26.1h-3.13zM257.0 1610.0h3.13v8.7h-3.13zM257.0 1675.1h3.13v26.1h-3.13zM260.1 1335.4h3.13v13.0h-3.13zM260.1 1348.4h3.13v8.7h-3.13zM260.1 1383.2h3.13v26.1h-3.13zM260.1 1422.2h3.13v13.0h-3.13zM260.1 1582.9h3.13v26.1h-3.13zM260.1 1609.0h3.13v13.0h-3.13zM260.1 1622.0h3.13v4.3h-3.13zM260.1 1661.1h3.13v8.7h-3.13zM260.1 1674.1h3.13v13.0h-3.13zM260.1 1721.8h3.13v4.3h-3.13zM260.1 1734.9h3.13v4.3h-3.13zM263.3 1328.0h3.13v17.4h-3.13zM263.3 1362.7h3.13v17.4h-3.13zM263.3 1432.2h3.13v17.4h-3.13zM263.3 1532.1h3.13v4.3h-3.13zM263.3 1736.1h3.13v8.7h-3.13zM263.3 1783.9h3.13v4.3h-3.13zM263.3 1805.6h3.13v8.7h-3.13zM266.4 1353.0h3.13v8.7h-3.13zM266.4 1366.0h3.13v8.7h-3.13zM266.4 1400.7h3.13v4.3h-3.13zM266.4 1405.1h3.13v4.3h-3.13zM266.4 1444.2h3.13v4.3h-3.13zM266.4 1561.4h3.13v17.4h-3.13zM266.4 1717.7h3.13v8.7h-3.13zM266.4 1778.5h3.13v4.3h-3.13zM266.4 1813.2h3.13v13.0h-3.13zM266.4 1830.6h3.13v4.3h-3.13zM269.5 1344.5h3.13v17.4h-3.13zM269.5 1392.3h3.13v17.4h-3.13zM269.5 1500.8h3.13v8.7h-3.13zM269.5 1513.8h3.13v26.1h-3.13zM269.5 1574.6h3.13v4.3h-3.13zM269.5 1622.4h3.13v8.7h-3.13zM269.5 1631.1h3.13v8.7h-3.13zM269.5 1687.5h3.13v8.7h-3.13zM269.5 1696.2h3.13v4.3h-3.13zM269.5 1783.1h3.13v17.4h-3.13zM272.7 1336.4h3.13v4.3h-3.13zM272.7 1340.8h3.13v26.1h-3.13zM272.7 1449.3h3.13v4.3h-3.13zM272.7 1575.3h3.13v4.3h-3.13zM272.7 1579.6h3.13v13.0h-3.13zM272.7 1775.0h3.13v8.7h-3.13zM275.8 1487.9h3.13v13.0h-3.13zM275.8 1527.0h3.13v26.1h-3.13zM275.8 1579.1h3.13v4.3h-3.13zM275.8 1635.6h3.13v26.1h-3.13zM275.8 1674.6h3.13v4.3h-3.13zM275.8 1683.3h3.13v17.4h-3.13zM275.8 1700.7h3.13v4.3h-3.13zM275.8 1705.0h3.13v13.0h-3.13zM275.8 1718.1h3.13v17.4h-3.13zM275.8 1761.5h3.13v17.4h-3.13zM275.8 1813.6h3.13v26.1h-3.13zM278.9 1309.2h3.13v9.3h-3.13zM278.9 1548.6h3.13v13.0h-3.13zM278.9 1665.9h3.13v8.7h-3.13zM278.9 1700.6h3.13v17.4h-3.13zM278.9 1783.1h3.13v26.1h-3.13zM282.1 1309.2h3.13v2.0h-3.13zM282.1 1311.2h3.13v26.1h-3.13zM282.1 1398.0h3.13v26.1h-3.13zM282.1 1541.3h3.13v26.1h-3.13zM282.1 1589.1h3.13v8.7h-3.13zM282.1 1636.8h3.13v13.0h-3.13zM282.1 1649.9h3.13v8.7h-3.13zM282.1 1662.9h3.13v8.7h-3.13zM282.1 1762.8h3.13v26.1h-3.13zM285.2 1314.2h3.13v4.3h-3.13zM285.2 1344.6h3.13v4.3h-3.13zM285.2 1392.4h3.13v4.3h-3.13zM285.2 1396.8h3.13v13.0h-3.13zM285.2 1440.2h3.13v17.4h-3.13zM285.2 1457.5h3.13v17.4h-3.13zM285.2 1531.4h3.13v17.4h-3.13zM285.2 1561.8h3.13v4.3h-3.13zM285.2 1592.1h3.13v8.7h-3.13zM285.2 1600.8h3.13v13.0h-3.13zM285.2 1652.9h3.13v13.0h-3.13zM285.2 1683.3h3.13v13.0h-3.13zM285.2 1791.9h3.13v13.0h-3.13zM285.2 1813.6h3.13v4.3h-3.13zM285.2 1817.9h3.13v8.7h-3.13zM285.2 1826.6h3.13v17.4h-3.13zM288.3 1378.9h3.13v8.7h-3.13zM288.3 1439.6h3.13v4.3h-3.13zM288.3 1461.4h3.13v4.3h-3.13zM288.3 1478.7h3.13v4.3h-3.13zM288.3 1513.5h3.13v4.3h-3.13zM288.3 1587.3h3.13v26.1h-3.13zM288.3 1695.8h3.13v26.1h-3.13zM288.3 1804.4h3.13v8.7h-3.13zM288.3 1821.8h3.13v17.4h-3.13zM291.4 1309.2h3.13v7.5h-3.13zM291.4 1347.1h3.13v4.3h-3.13zM291.4 1360.1h3.13v8.7h-3.13zM291.4 1377.5h3.13v4.3h-3.13zM291.4 1447.0h3.13v8.7h-3.13zM291.4 1455.7h3.13v8.7h-3.13zM291.4 1516.5h3.13v8.7h-3.13zM291.4 1546.9h3.13v8.7h-3.13zM291.4 1590.3h3.13v4.3h-3.13zM291.4 1768.3h3.13v4.3h-3.13zM291.4 1772.7h3.13v8.7h-3.13zM291.4 1833.4h3.13v8.7h-3.13zM294.6 1333.5h3.13v8.7h-3.13zM294.6 1342.2h3.13v4.3h-3.13zM294.6 1385.6h3.13v8.7h-3.13zM294.6 1411.7h3.13v8.7h-3.13zM294.6 1533.3h3.13v13.0h-3.13zM294.6 1676.5h3.13v4.3h-3.13zM294.6 1689.6h3.13v8.7h-3.13zM294.6 1706.9h3.13v8.7h-3.13zM294.6 1715.6h3.13v4.3h-3.13zM294.6 1763.4h3.13v4.3h-3.13zM294.6 1815.5h3.13v13.0h-3.13zM294.6 1845.9h3.13v4.3h-3.13zM294.6 1850.2h3.13v14.8h-3.13zM297.7 1359.5h3.13v4.3h-3.13zM297.7 1363.9h3.13v4.3h-3.13zM297.7 1498.5h3.13v17.4h-3.13zM297.7 1554.9h3.13v8.7h-3.13zM297.7 1624.4h3.13v4.3h-3.13zM297.7 1680.9h3.13v26.1h-3.13zM297.7 1724.3h3.13v26.1h-3.13zM297.7 1837.2h3.13v8.7h-3.13zM297.7 1863.2h3.13v1.8h-3.13zM300.8 1327.1h3.13v4.3h-3.13zM300.8 1392.2h3.13v13.0h-3.13zM300.8 1618.0h3.13v4.3h-3.13zM300.8 1696.2h3.13v26.1h-3.13zM300.8 1843.8h3.13v13.0h-3.13zM304.0 1366.2h3.13v17.4h-3.13zM304.0 1440.1h3.13v26.1h-3.13zM304.0 1474.8h3.13v26.1h-3.13zM304.0 1600.7h3.13v8.7h-3.13zM304.0 1670.2h3.13v4.3h-3.13zM304.0 1787.4h3.13v8.7h-3.13zM304.0 1843.9h3.13v13.0h-3.13zM304.0 1856.9h3.13v4.3h-3.13zM307.1 1309.2h3.13v2.7h-3.13zM307.1 1329.3h3.13v13.0h-3.13zM307.1 1346.6h3.13v17.4h-3.13zM307.1 1364.0h3.13v4.3h-3.13zM307.1 1403.1h3.13v8.7h-3.13zM307.1 1489.9h3.13v26.1h-3.13zM307.1 1641.9h3.13v4.3h-3.13zM307.1 1646.3h3.13v4.3h-3.13zM307.1 1759.1h3.13v8.7h-3.13zM307.1 1780.9h3.13v4.3h-3.13zM310.2 1309.2h3.13v19.0h-3.13zM310.2 1349.9h3.13v4.3h-3.13zM310.2 1501.9h3.13v26.1h-3.13zM310.2 1545.3h3.13v4.3h-3.13zM310.2 1549.6h3.13v8.7h-3.13zM310.2 1597.4h3.13v8.7h-3.13zM310.2 1632.1h3.13v8.7h-3.13zM310.2 1640.8h3.13v8.7h-3.13zM310.2 1658.2h3.13v4.3h-3.13zM310.2 1758.0h3.13v4.3h-3.13zM310.2 1762.4h3.13v8.7h-3.13zM310.2 1818.8h3.13v8.7h-3.13zM310.2 1827.5h3.13v4.3h-3.13zM313.3 1336.4h3.13v4.3h-3.13zM313.3 1414.5h3.13v4.3h-3.13zM313.3 1471.0h3.13v8.7h-3.13zM313.3 1479.7h3.13v4.3h-3.13zM313.3 1484.0h3.13v4.3h-3.13zM313.3 1492.7h3.13v8.7h-3.13zM313.3 1631.6h3.13v4.3h-3.13zM313.3 1666.4h3.13v13.0h-3.13zM313.3 1688.1h3.13v8.7h-3.13zM313.3 1705.5h3.13v4.3h-3.13zM313.3 1735.9h3.13v13.0h-3.13zM313.3 1848.8h3.13v13.0h-3.13zM316.5 1325.6h3.13v8.7h-3.13zM316.5 1338.7h3.13v4.3h-3.13zM316.5 1343.0h3.13v8.7h-3.13zM316.5 1356.0h3.13v13.0h-3.13zM316.5 1477.6h3.13v4.3h-3.13zM316.5 1499.3h3.13v4.3h-3.13zM316.5 1503.7h3.13v4.3h-3.13zM316.5 1512.4h3.13v4.3h-3.13zM316.5 1655.6h3.13v8.7h-3.13zM316.5 1690.4h3.13v17.4h-3.13zM316.5 1794.6h3.13v17.4h-3.13zM316.5 1838.0h3.13v4.3h-3.13zM316.5 1842.4h3.13v4.3h-3.13zM316.5 1864.1h3.13v0.9h-3.13zM319.6 1327.4h3.13v26.1h-3.13zM319.6 1353.4h3.13v17.4h-3.13zM319.6 1379.5h3.13v4.3h-3.13zM319.6 1409.9h3.13v8.7h-3.13zM319.6 1422.9h3.13v8.7h-3.13zM319.6 1496.7h3.13v8.7h-3.13zM319.6 1505.4h3.13v13.0h-3.13zM319.6 1587.9h3.13v8.7h-3.13zM319.6 1692.1h3.13v17.4h-3.13zM319.6 1709.5h3.13v8.7h-3.13zM319.6 1731.2h3.13v4.3h-3.13zM319.6 1831.1h3.13v26.1h-3.13zM322.7 1343.2h3.13v26.1h-3.13zM322.7 1404.0h3.13v8.7h-3.13zM322.7 1412.7h3.13v8.7h-3.13zM322.7 1460.4h3.13v8.7h-3.13zM322.7 1521.2h3.13v8.7h-3.13zM322.7 1616.8h3.13v4.3h-3.13zM322.7 1694.9h3.13v8.7h-3.13zM325.9 1392.4h3.13v4.3h-3.13zM325.9 1414.2h3.13v4.3h-3.13zM325.9 1448.9h3.13v17.4h-3.13zM325.9 1479.3h3.13v13.0h-3.13zM325.9 1522.7h3.13v4.3h-3.13zM325.9 1527.1h3.13v8.7h-3.13zM325.9 1544.4h3.13v8.7h-3.13zM325.9 1553.1h3.13v8.7h-3.13zM325.9 1561.8h3.13v17.4h-3.13zM325.9 1657.3h3.13v4.3h-3.13zM325.9 1748.5h3.13v26.1h-3.13zM325.9 1774.6h3.13v17.4h-3.13zM325.9 1826.7h3.13v8.7h-3.13zM325.9 1835.3h3.13v4.3h-3.13zM329.0 1311.4h3.13v13.0h-3.13zM329.0 1467.7h3.13v4.3h-3.13zM329.0 1485.1h3.13v4.3h-3.13zM329.0 1498.1h3.13v4.3h-3.13zM329.0 1602.3h3.13v13.0h-3.13zM329.0 1650.1h3.13v4.3h-3.13zM329.0 1654.4h3.13v8.7h-3.13zM329.0 1741.3h3.13v4.3h-3.13zM329.0 1745.6h3.13v13.0h-3.13zM329.0 1797.7h3.13v4.3h-3.13zM329.0 1802.0h3.13v4.3h-3.13zM332.1 1344.4h3.13v13.0h-3.13zM332.1 1392.1h3.13v8.7h-3.13zM332.1 1444.2h3.13v17.4h-3.13zM332.1 1574.5h3.13v8.7h-3.13zM332.1 1604.9h3.13v8.7h-3.13zM332.1 1613.6h3.13v8.7h-3.13zM332.1 1622.3h3.13v8.7h-3.13zM332.1 1631.0h3.13v17.4h-3.13zM332.1 1648.3h3.13v17.4h-3.13zM332.1 1717.8h3.13v8.7h-3.13zM332.1 1761.2h3.13v4.3h-3.13zM335.2 1349.1h3.13v13.0h-3.13zM335.2 1409.8h3.13v8.7h-3.13zM335.2 1431.6h3.13v8.7h-3.13zM335.2 1488.0h3.13v8.7h-3.13zM335.2 1553.1h3.13v4.3h-3.13zM335.2 1561.8h3.13v8.7h-3.13zM335.2 1574.8h3.13v4.3h-3.13zM335.2 1709.5h3.13v4.3h-3.13zM335.2 1713.8h3.13v26.1h-3.13zM335.2 1809.3h3.13v17.4h-3.13zM335.2 1826.7h3.13v4.3h-3.13zM338.4 1309.2h3.13v7.4h-3.13zM338.4 1320.9h3.13v4.3h-3.13zM338.4 1390.4h3.13v26.1h-3.13zM338.4 1642.2h3.13v26.1h-3.13zM338.4 1685.7h3.13v8.7h-3.13zM338.4 1781.2h3.13v26.1h-3.13zM341.5 1327.2h3.13v4.3h-3.13zM341.5 1396.7h3.13v26.1h-3.13zM341.5 1453.1h3.13v8.7h-3.13zM341.5 1665.9h3.13v8.7h-3.13zM341.5 1726.7h3.13v8.7h-3.13zM341.5 1826.6h3.13v8.7h-3.13zM344.6 1323.6h3.13v4.3h-3.13zM344.6 1406.1h3.13v13.0h-3.13zM344.6 1436.5h3.13v17.4h-3.13zM344.6 1453.9h3.13v4.3h-3.13zM344.6 1493.0h3.13v17.4h-3.13zM344.6 1527.7h3.13v4.3h-3.13zM344.6 1731.8h3.13v8.7h-3.13zM344.6 1757.8h3.13v26.1h-3.13zM344.6 1783.9h3.13v4.3h-3.13zM344.6 1788.2h3.13v13.0h-3.13zM344.6 1805.6h3.13v4.3h-3.13zM344.6 1827.3h3.13v8.7h-3.13zM344.6 1836.0h3.13v4.3h-3.13zM347.8 1375.2h3.13v4.3h-3.13zM347.8 1466.4h3.13v17.4h-3.13zM347.8 1483.7h3.13v17.4h-3.13zM347.8 1557.5h3.13v13.0h-3.13zM347.8 1579.2h3.13v8.7h-3.13zM347.8 1674.8h3.13v8.7h-3.13zM347.8 1705.2h3.13v8.7h-3.13zM347.8 1748.6h3.13v26.1h-3.13zM347.8 1787.7h3.13v4.3h-3.13zM347.8 1813.7h3.13v8.7h-3.13zM350.9 1372.3h3.13v17.4h-3.13zM350.9 1398.4h3.13v8.7h-3.13zM350.9 1472.2h3.13v4.3h-3.13zM350.9 1485.2h3.13v8.7h-3.13zM350.9 1563.4h3.13v26.1h-3.13zM350.9 1645.9h3.13v4.3h-3.13zM350.9 1658.9h3.13v4.3h-3.13zM350.9 1689.3h3.13v8.7h-3.13zM350.9 1715.4h3.13v13.0h-3.13zM354.0 1362.9h3.13v8.7h-3.13zM354.0 1423.7h3.13v8.7h-3.13zM354.0 1432.4h3.13v4.3h-3.13zM354.0 1445.4h3.13v4.3h-3.13zM354.0 1454.1h3.13v17.4h-3.13zM354.0 1501.8h3.13v13.0h-3.13zM354.0 1554.0h3.13v8.7h-3.13zM354.0 1571.3h3.13v13.0h-3.13zM354.0 1593.0h3.13v13.0h-3.13zM354.0 1810.1h3.13v13.0h-3.13zM354.0 1823.2h3.13v8.7h-3.13zM357.1 1380.8h3.13v4.3h-3.13zM357.1 1385.1h3.13v17.4h-3.13zM357.1 1428.6h3.13v4.3h-3.13zM357.1 1463.3h3.13v8.7h-3.13zM357.1 1506.7h3.13v8.7h-3.13zM357.1 1524.1h3.13v8.7h-3.13zM357.1 1532.8h3.13v17.4h-3.13zM357.1 1567.5h3.13v8.7h-3.13zM357.1 1641.3h3.13v8.7h-3.13zM357.1 1802.0h3.13v8.7h-3.13zM357.1 1810.7h3.13v8.7h-3.13zM360.3 1410.4h3.13v26.1h-3.13zM360.3 1479.9h3.13v8.7h-3.13zM360.3 1497.2h3.13v8.7h-3.13zM360.3 1610.1h3.13v4.3h-3.13zM360.3 1623.2h3.13v4.3h-3.13zM360.3 1649.2h3.13v8.7h-3.13zM360.3 1662.3h3.13v4.3h-3.13zM360.3 1805.5h3.13v4.3h-3.13zM360.3 1814.2h3.13v26.1h-3.13zM360.3 1840.3h3.13v13.0h-3.13zM363.4 1397.4h3.13v17.4h-3.13zM363.4 1436.5h3.13v4.3h-3.13zM363.4 1497.3h3.13v17.4h-3.13zM363.4 1618.8h3.13v4.3h-3.13zM363.4 1636.2h3.13v4.3h-3.13zM363.4 1714.4h3.13v8.7h-3.13zM363.4 1744.8h3.13v8.7h-3.13zM363.4 1783.8h3.13v13.0h-3.13zM363.4 1809.9h3.13v8.7h-3.13zM366.5 1309.2h3.13v5.6h-3.13zM366.5 1392.9h3.13v4.3h-3.13zM366.5 1471.1h3.13v4.3h-3.13zM366.5 1475.4h3.13v8.7h-3.13zM366.5 1540.5h3.13v17.4h-3.13zM366.5 1601.3h3.13v13.0h-3.13zM366.5 1614.4h3.13v4.3h-3.13zM366.5 1718.6h3.13v8.7h-3.13zM369.7 1346.3h3.13v8.7h-3.13zM369.7 1398.4h3.13v17.4h-3.13zM369.7 1424.5h3.13v8.7h-3.13zM369.7 1515.7h3.13v4.3h-3.13zM369.7 1576.4h3.13v17.4h-3.13zM369.7 1702.4h3.13v8.7h-3.13zM369.7 1719.7h3.13v26.1h-3.13zM369.7 1797.9h3.13v17.4h-3.13zM369.7 1850.0h3.13v13.0h-3.13zM369.7 1863.0h3.13v2.0h-3.13zM372.8 1388.9h3.13v17.4h-3.13zM372.8 1406.2h3.13v4.3h-3.13zM372.8 1579.9h3.13v8.7h-3.13zM372.8 1688.5h3.13v4.3h-3.13zM372.8 1714.5h3.13v4.3h-3.13zM372.8 1744.9h3.13v4.3h-3.13zM372.8 1757.9h3.13v4.3h-3.13zM372.8 1801.4h3.13v4.3h-3.13zM372.8 1849.1h3.13v4.3h-3.13zM375.9 1330.4h3.13v17.4h-3.13zM375.9 1391.2h3.13v4.3h-3.13zM375.9 1430.3h3.13v4.3h-3.13zM375.9 1456.3h3.13v17.4h-3.13zM375.9 1521.5h3.13v8.7h-3.13zM375.9 1530.1h3.13v13.0h-3.13zM375.9 1586.6h3.13v17.4h-3.13zM375.9 1604.0h3.13v4.3h-3.13zM375.9 1638.7h3.13v13.0h-3.13zM375.9 1690.8h3.13v13.0h-3.13zM375.9 1703.8h3.13v4.3h-3.13zM375.9 1721.2h3.13v8.7h-3.13zM375.9 1816.7h3.13v4.3h-3.13zM379.1 1309.2h3.13v21.7h-3.13zM379.1 1400.4h3.13v4.3h-3.13zM379.1 1452.5h3.13v4.3h-3.13zM379.1 1456.8h3.13v17.4h-3.13zM379.1 1565.4h3.13v4.3h-3.13zM379.1 1608.8h3.13v4.3h-3.13zM379.1 1682.6h3.13v8.7h-3.13zM379.1 1700.0h3.13v4.3h-3.13zM379.1 1717.4h3.13v4.3h-3.13zM379.1 1721.7h3.13v8.7h-3.13zM379.1 1730.4h3.13v26.1h-3.13zM379.1 1756.4h3.13v4.3h-3.13zM379.1 1782.5h3.13v4.3h-3.13zM379.1 1791.2h3.13v17.4h-3.13zM382.2 1465.2h3.13v8.7h-3.13zM382.2 1504.3h3.13v8.7h-3.13zM382.2 1573.8h3.13v8.7h-3.13zM382.2 1651.9h3.13v17.4h-3.13zM382.2 1669.3h3.13v4.3h-3.13zM382.2 1799.5h3.13v4.3h-3.13zM385.3 1364.6h3.13v8.7h-3.13zM385.3 1390.6h3.13v4.3h-3.13zM385.3 1442.7h3.13v8.7h-3.13zM385.3 1451.4h3.13v26.1h-3.13zM385.3 1486.2h3.13v4.3h-3.13zM385.3 1516.6h3.13v8.7h-3.13zM385.3 1542.6h3.13v4.3h-3.13zM385.3 1577.4h3.13v17.4h-3.13zM385.3 1612.1h3.13v13.0h-3.13zM385.3 1659.9h3.13v4.3h-3.13zM385.3 1712.0h3.13v4.3h-3.13zM385.3 1733.7h3.13v13.0h-3.13zM385.3 1785.8h3.13v26.1h-3.13zM385.3 1820.5h3.13v4.3h-3.13zM385.3 1824.9h3.13v8.7h-3.13zM388.4 1461.0h3.13v8.7h-3.13zM388.4 1526.2h3.13v8.7h-3.13zM388.4 1543.5h3.13v13.0h-3.13zM388.4 1595.6h3.13v13.0h-3.13zM388.4 1613.0h3.13v26.1h-3.13zM388.4 1647.7h3.13v8.7h-3.13zM388.4 1682.5h3.13v13.0h-3.13zM388.4 1769.3h3.13v4.3h-3.13zM388.4 1791.0h3.13v4.3h-3.13zM388.4 1804.1h3.13v17.4h-3.13zM388.4 1851.8h3.13v4.3h-3.13zM391.6 1384.8h3.13v8.7h-3.13zM391.6 1406.5h3.13v17.4h-3.13zM391.6 1432.5h3.13v17.4h-3.13zM391.6 1449.9h3.13v17.4h-3.13zM391.6 1580.2h3.13v8.7h-3.13zM391.6 1606.2h3.13v26.1h-3.13zM391.6 1641.0h3.13v26.1h-3.13zM391.6 1766.9h3.13v13.0h-3.13zM394.7 1356.6h3.13v8.7h-3.13zM394.7 1456.4h3.13v4.3h-3.13zM394.7 1469.5h3.13v4.3h-3.13zM394.7 1473.8h3.13v4.3h-3.13zM394.7 1521.6h3.13v26.1h-3.13zM394.7 1591.0h3.13v4.3h-3.13zM394.7 1595.4h3.13v4.3h-3.13zM394.7 1677.9h3.13v13.0h-3.13zM394.7 1717.0h3.13v4.3h-3.13zM394.7 1721.3h3.13v17.4h-3.13zM394.7 1851.6h3.13v13.4h-3.13zM397.8 1313.0h3.13v8.7h-3.13zM397.8 1326.0h3.13v4.3h-3.13zM397.8 1334.7h3.13v8.7h-3.13zM397.8 1343.4h3.13v8.7h-3.13zM397.8 1356.4h3.13v13.0h-3.13zM397.8 1391.2h3.13v8.7h-3.13zM397.8 1399.8h3.13v4.3h-3.13zM397.8 1425.9h3.13v13.0h-3.13zM397.8 1473.7h3.13v8.7h-3.13zM397.8 1504.1h3.13v26.1h-3.13zM397.8 1530.1h3.13v13.0h-3.13zM397.8 1573.5h3.13v26.1h-3.13zM397.8 1625.6h3.13v13.0h-3.13zM397.8 1638.7h3.13v13.0h-3.13zM397.8 1656.0h3.13v8.7h-3.13zM397.8 1725.5h3.13v8.7h-3.13zM397.8 1795.0h3.13v4.3h-3.13zM401.0 1398.9h3.13v4.3h-3.13zM401.0 1424.9h3.13v4.3h-3.13zM401.0 1529.1h3.13v8.7h-3.13zM401.0 1546.5h3.13v4.3h-3.13zM401.0 1559.5h3.13v8.7h-3.13zM401.0 1568.2h3.13v13.0h-3.13zM401.0 1707.2h3.13v8.7h-3.13zM401.0 1798.3h3.13v26.1h-3.13zM401.0 1824.4h3.13v4.3h-3.13zM401.0 1859.1h3.13v5.9h-3.13zM404.1 1344.0h3.13v26.1h-3.13zM404.1 1370.1h3.13v4.3h-3.13zM404.1 1435.2h3.13v4.3h-3.13zM404.1 1509.0h3.13v8.7h-3.13zM404.1 1613.2h3.13v4.3h-3.13zM404.1 1630.6h3.13v4.3h-3.13zM404.1 1739.2h3.13v4.3h-3.13zM404.1 1752.2h3.13v4.3h-3.13zM404.1 1756.5h3.13v4.3h-3.13zM404.1 1773.9h3.13v8.7h-3.13zM404.1 1808.6h3.13v26.1h-3.13zM407.2 1375.1h3.13v4.3h-3.13zM407.2 1396.8h3.13v26.1h-3.13zM407.2 1444.6h3.13v13.0h-3.13zM407.2 1483.7h3.13v4.3h-3.13zM407.2 1583.5h3.13v26.1h-3.13zM407.2 1648.7h3.13v4.3h-3.13zM407.2 1657.4h3.13v8.7h-3.13zM407.2 1666.0h3.13v4.3h-3.13zM407.2 1670.4h3.13v13.0h-3.13zM407.2 1696.4h3.13v4.3h-3.13zM407.2 1818.0h3.13v8.7h-3.13zM410.3 1412.6h3.13v13.0h-3.13zM410.3 1477.7h3.13v13.0h-3.13zM410.3 1534.2h3.13v4.3h-3.13zM410.3 1555.9h3.13v8.7h-3.13zM410.3 1564.6h3.13v4.3h-3.13zM410.3 1690.5h3.13v17.4h-3.13zM410.3 1738.3h3.13v17.4h-3.13zM413.5 1309.2h3.13v6.6h-3.13zM413.5 1315.8h3.13v13.0h-3.13zM413.5 1328.9h3.13v13.0h-3.13zM413.5 1359.2h3.13v13.0h-3.13zM413.5 1372.3h3.13v26.1h-3.13zM413.5 1424.4h3.13v8.7h-3.13zM413.5 1433.1h3.13v26.1h-3.13zM413.5 1585.0h3.13v4.3h-3.13zM413.5 1671.9h3.13v4.3h-3.13zM413.5 1719.6h3.13v26.1h-3.13zM416.6 1309.2h3.13v5.8h-3.13zM416.6 1380.1h3.13v13.0h-3.13zM416.6 1397.5h3.13v13.0h-3.13zM416.6 1410.5h3.13v26.1h-3.13zM416.6 1440.9h3.13v26.1h-3.13zM416.6 1519.0h3.13v13.0h-3.13zM416.6 1532.1h3.13v13.0h-3.13zM416.6 1545.1h3.13v4.3h-3.13zM416.6 1553.8h3.13v8.7h-3.13zM416.6 1562.5h3.13v8.7h-3.13zM416.6 1571.2h3.13v4.3h-3.13zM416.6 1584.2h3.13v13.0h-3.13zM416.6 1597.2h3.13v4.3h-3.13zM416.6 1623.3h3.13v17.4h-3.13zM416.6 1658.0h3.13v8.7h-3.13zM416.6 1714.4h3.13v4.3h-3.13zM416.6 1757.9h3.13v8.7h-3.13zM416.6 1849.1h3.13v8.7h-3.13zM419.7 1321.5h3.13v4.3h-3.13zM419.7 1364.9h3.13v4.3h-3.13zM419.7 1369.3h3.13v8.7h-3.13zM419.7 1451.8h3.13v4.3h-3.13zM419.7 1516.9h3.13v13.0h-3.13zM419.7 1551.6h3.13v26.1h-3.13zM419.7 1599.4h3.13v8.7h-3.13zM419.7 1703.6h3.13v4.3h-3.13zM419.7 1708.0h3.13v4.3h-3.13zM419.7 1747.0h3.13v4.3h-3.13zM419.7 1760.1h3.13v4.3h-3.13zM419.7 1786.1h3.13v4.3h-3.13zM422.9 1316.5h3.13v4.3h-3.13zM422.9 1333.9h3.13v26.1h-3.13zM422.9 1368.6h3.13v4.3h-3.13zM422.9 1373.0h3.13v4.3h-3.13zM422.9 1381.7h3.13v8.7h-3.13zM422.9 1399.0h3.13v8.7h-3.13zM422.9 1425.1h3.13v8.7h-3.13zM422.9 1520.6h3.13v13.0h-3.13zM422.9 1533.6h3.13v4.3h-3.13zM422.9 1564.0h3.13v4.3h-3.13zM422.9 1568.4h3.13v8.7h-3.13zM422.9 1624.8h3.13v8.7h-3.13zM422.9 1633.5h3.13v4.3h-3.13zM422.9 1833.3h3.13v8.7h-3.13zM422.9 1846.3h3.13v8.7h-3.13zM426.0 1351.1h3.13v4.3h-3.13zM426.0 1355.5h3.13v26.1h-3.13zM426.0 1416.3h3.13v17.4h-3.13zM426.0 1433.7h3.13v4.3h-3.13zM426.0 1464.0h3.13v4.3h-3.13zM426.0 1511.8h3.13v13.0h-3.13zM426.0 1529.2h3.13v8.7h-3.13zM426.0 1550.9h3.13v4.3h-3.13zM426.0 1555.2h3.13v8.7h-3.13zM426.0 1611.7h3.13v8.7h-3.13zM426.0 1633.4h3.13v26.1h-3.13zM426.0 1676.8h3.13v4.3h-3.13zM426.0 1802.7h3.13v17.4h-3.13zM426.0 1859.2h3.13v5.8h-3.13zM429.1 1432.2h3.13v17.4h-3.13zM429.1 1449.5h3.13v13.0h-3.13zM429.1 1493.0h3.13v13.0h-3.13zM429.1 1584.2h3.13v8.7h-3.13zM429.1 1727.4h3.13v8.7h-3.13zM429.1 1736.1h3.13v17.4h-3.13zM429.1 1770.9h3.13v17.4h-3.13zM429.1 1805.6h3.13v8.7h-3.13zM429.1 1823.0h3.13v17.4h-3.13zM429.1 1840.3h3.13v4.3h-3.13zM432.2 1375.7h3.13v26.1h-3.13zM432.2 1406.1h3.13v13.0h-3.13zM432.2 1419.1h3.13v8.7h-3.13zM432.2 1523.3h3.13v13.0h-3.13zM432.2 1675.3h3.13v8.7h-3.13zM432.2 1688.3h3.13v17.4h-3.13zM432.2 1710.0h3.13v4.3h-3.13zM432.2 1714.4h3.13v4.3h-3.13zM432.2 1744.8h3.13v8.7h-3.13zM432.2 1836.0h3.13v26.1h-3.13zM435.4 1309.2h3.13v3.5h-3.13zM435.4 1330.0h3.13v26.1h-3.13zM435.4 1369.1h3.13v8.7h-3.13zM435.4 1390.8h3.13v8.7h-3.13zM435.4 1408.2h3.13v8.7h-3.13zM435.4 1477.7h3.13v17.4h-3.13zM435.4 1542.8h3.13v13.0h-3.13zM435.4 1621.0h3.13v8.7h-3.13zM435.4 1786.0h3.13v8.7h-3.13zM435.4 1825.0h3.13v26.1h-3.13zM438.5 1408.9h3.13v4.3h-3.13zM438.5 1435.0h3.13v17.4h-3.13zM438.5 1452.4h3.13v8.7h-3.13zM438.5 1491.4h3.13v8.7h-3.13zM438.5 1517.5h3.13v8.7h-3.13zM438.5 1630.4h3.13v4.3h-3.13zM438.5 1669.5h3.13v4.3h-3.13zM438.5 1760.7h3.13v8.7h-3.13zM441.6 1439.4h3.13v26.1h-3.13zM441.6 1530.6h3.13v4.3h-3.13zM441.6 1561.0h3.13v8.7h-3.13zM441.6 1617.5h3.13v13.0h-3.13zM441.6 1743.4h3.13v13.0h-3.13zM441.6 1778.1h3.13v26.1h-3.13zM441.6 1843.3h3.13v8.7h-3.13zM441.6 1852.0h3.13v4.3h-3.13zM444.8 1378.8h3.13v8.7h-3.13zM444.8 1400.6h3.13v26.1h-3.13zM444.8 1426.6h3.13v13.0h-3.13zM444.8 1470.0h3.13v4.3h-3.13zM444.8 1561.2h3.13v13.0h-3.13zM444.8 1574.2h3.13v13.0h-3.13zM444.8 1617.7h3.13v13.0h-3.13zM444.8 1639.4h3.13v4.3h-3.13zM444.8 1643.7h3.13v4.3h-3.13zM444.8 1778.3h3.13v8.7h-3.13zM444.8 1791.4h3.13v8.7h-3.13zM444.8 1800.0h3.13v26.1h-3.13zM447.9 1309.2h3.13v3.7h-3.13zM447.9 1312.9h3.13v8.7h-3.13zM447.9 1325.9h3.13v26.1h-3.13zM447.9 1382.4h3.13v4.3h-3.13zM447.9 1425.8h3.13v8.7h-3.13zM447.9 1473.6h3.13v8.7h-3.13zM447.9 1525.7h3.13v26.1h-3.13zM447.9 1664.6h3.13v13.0h-3.13zM447.9 1712.4h3.13v17.4h-3.13zM447.9 1747.1h3.13v8.7h-3.13zM447.9 1760.2h3.13v8.7h-3.13zM447.9 1781.9h3.13v26.1h-3.13zM447.9 1807.9h3.13v26.1h-3.13zM447.9 1864.4h3.13v0.6h-3.13zM451.0 1329.2h3.13v13.0h-3.13zM451.0 1350.9h3.13v8.7h-3.13zM451.0 1359.6h3.13v8.7h-3.13zM451.0 1442.1h3.13v4.3h-3.13zM451.0 1459.5h3.13v8.7h-3.13zM451.0 1468.2h3.13v13.0h-3.13zM451.0 1507.2h3.13v13.0h-3.13zM451.0 1550.7h3.13v17.4h-3.13zM451.0 1633.2h3.13v17.4h-3.13zM451.0 1667.9h3.13v17.4h-3.13zM451.0 1754.8h3.13v17.4h-3.13zM451.0 1772.1h3.13v8.7h-3.13zM451.0 1815.5h3.13v26.1h-3.13zM451.0 1859.0h3.13v6.0h-3.13zM454.1 1309.2h3.13v7.9h-3.13zM454.1 1325.8h3.13v13.0h-3.13zM454.1 1364.9h3.13v4.3h-3.13zM454.1 1399.6h3.13v26.1h-3.13zM454.1 1516.8h3.13v13.0h-3.13zM454.1 1547.2h3.13v26.1h-3.13zM454.1 1638.4h3.13v17.4h-3.13zM454.1 1668.8h3.13v4.3h-3.13zM454.1 1733.9h3.13v4.3h-3.13zM454.1 1768.7h3.13v4.3h-3.13zM454.1 1799.1h3.13v4.3h-3.13zM454.1 1803.4h3.13v8.7h-3.13zM454.1 1812.1h3.13v4.3h-3.13zM454.1 1851.2h3.13v13.8h-3.13zM457.3 1309.2h3.13v10.9h-3.13zM457.3 1346.2h3.13v8.7h-3.13zM457.3 1393.9h3.13v17.4h-3.13zM457.3 1459.1h3.13v13.0h-3.13zM457.3 1541.6h3.13v17.4h-3.13zM457.3 1671.8h3.13v13.0h-3.13zM457.3 1754.3h3.13v4.3h-3.13zM457.3 1758.7h3.13v13.0h-3.13zM460.4 1317.6h3.13v8.7h-3.13zM460.4 1326.3h3.13v17.4h-3.13zM460.4 1369.7h3.13v13.0h-3.13zM460.4 1456.6h3.13v4.3h-3.13zM460.4 1617.2h3.13v4.3h-3.13zM460.4 1656.3h3.13v13.0h-3.13zM460.4 1673.7h3.13v4.3h-3.13zM460.4 1712.7h3.13v4.3h-3.13zM460.4 1717.1h3.13v4.3h-3.13zM460.4 1721.4h3.13v4.3h-3.13zM460.4 1847.3h3.13v17.7h-3.13zM463.5 1347.0h3.13v26.1h-3.13zM463.5 1373.0h3.13v8.7h-3.13zM463.5 1420.8h3.13v17.4h-3.13zM463.5 1472.9h3.13v8.7h-3.13zM463.5 1538.0h3.13v17.4h-3.13zM463.5 1581.4h3.13v17.4h-3.13zM463.5 1616.2h3.13v4.3h-3.13zM463.5 1750.8h3.13v8.7h-3.13zM463.5 1772.5h3.13v4.3h-3.13zM463.5 1776.8h3.13v26.1h-3.13zM463.5 1811.6h3.13v4.3h-3.13zM463.5 1833.3h3.13v17.4h-3.13zM466.7 1309.2h3.13v1.4h-3.13zM466.7 1323.6h3.13v4.3h-3.13zM466.7 1349.7h3.13v4.3h-3.13zM466.7 1354.0h3.13v4.3h-3.13zM466.7 1484.3h3.13v8.7h-3.13zM466.7 1536.4h3.13v8.7h-3.13zM466.7 1614.6h3.13v4.3h-3.13zM466.7 1684.0h3.13v4.3h-3.13zM466.7 1688.4h3.13v4.3h-3.13zM466.7 1692.7h3.13v26.1h-3.13zM466.7 1744.8h3.13v4.3h-3.13zM469.8 1341.4h3.13v8.7h-3.13zM469.8 1406.5h3.13v26.1h-3.13zM469.8 1445.6h3.13v4.3h-3.13zM469.8 1515.1h3.13v17.4h-3.13zM469.8 1554.1h3.13v13.0h-3.13zM469.8 1580.2h3.13v4.3h-3.13zM469.8 1645.3h3.13v13.0h-3.13zM472.9 1310.6h3.13v8.7h-3.13zM472.9 1354.0h3.13v17.4h-3.13zM472.9 1401.8h3.13v17.4h-3.13zM472.9 1458.2h3.13v4.3h-3.13zM472.9 1479.9h3.13v4.3h-3.13zM472.9 1519.0h3.13v8.7h-3.13zM472.9 1584.1h3.13v26.1h-3.13zM472.9 1658.0h3.13v8.7h-3.13zM472.9 1697.0h3.13v8.7h-3.13zM472.9 1705.7h3.13v8.7h-3.13zM476.0 1350.0h3.13v4.3h-3.13zM476.0 1436.8h3.13v26.1h-3.13zM476.0 1501.9h3.13v26.1h-3.13zM476.0 1528.0h3.13v8.7h-3.13zM476.0 1588.8h3.13v4.3h-3.13zM476.0 1606.1h3.13v8.7h-3.13zM476.0 1714.7h3.13v4.3h-3.13zM476.0 1762.5h3.13v8.7h-3.13zM476.0 1788.5h3.13v26.1h-3.13zM476.0 1814.6h3.13v17.4h-3.13zM476.0 1831.9h3.13v13.0h-3.13zM476.0 1849.3h3.13v13.0h-3.13zM476.0 1862.3h3.13v2.7h-3.13zM479.2 1428.1h3.13v26.1h-3.13zM479.2 1462.8h3.13v17.4h-3.13zM479.2 1480.2h3.13v26.1h-3.13zM479.2 1506.2h3.13v17.4h-3.13zM479.2 1575.7h3.13v8.7h-3.13zM479.2 1697.3h3.13v4.3h-3.13zM479.2 1740.7h3.13v4.3h-3.13zM482.3 1322.5h3.13v17.4h-3.13zM482.3 1383.3h3.13v17.4h-3.13zM482.3 1413.7h3.13v4.3h-3.13zM482.3 1465.8h3.13v13.0h-3.13zM482.3 1487.5h3.13v8.7h-3.13zM482.3 1543.9h3.13v4.3h-3.13zM482.3 1556.9h3.13v4.3h-3.13zM482.3 1574.3h3.13v4.3h-3.13zM482.3 1600.4h3.13v4.3h-3.13zM482.3 1826.2h3.13v4.3h-3.13zM482.3 1847.9h3.13v17.1h-3.13zM485.4 1309.2h3.13v5.2h-3.13zM485.4 1318.7h3.13v17.4h-3.13zM485.4 1409.9h3.13v4.3h-3.13zM485.4 1470.7h3.13v4.3h-3.13zM485.4 1566.2h3.13v8.7h-3.13zM485.4 1583.6h3.13v26.1h-3.13zM485.4 1726.9h3.13v4.3h-3.13zM485.4 1783.3h3.13v8.7h-3.13zM485.4 1809.4h3.13v8.7h-3.13zM488.6 1330.1h3.13v13.0h-3.13zM488.6 1516.8h3.13v17.4h-3.13zM488.6 1564.6h3.13v13.0h-3.13zM488.6 1586.3h3.13v4.3h-3.13zM488.6 1612.3h3.13v26.1h-3.13zM488.6 1638.4h3.13v8.7h-3.13zM488.6 1655.8h3.13v8.7h-3.13zM488.6 1690.5h3.13v8.7h-3.13zM488.6 1773.0h3.13v26.1h-3.13zM491.7 1326.3h3.13v4.3h-3.13zM491.7 1395.7h3.13v8.7h-3.13zM491.7 1491.3h3.13v26.1h-3.13zM491.7 1543.4h3.13v8.7h-3.13zM491.7 1573.8h3.13v8.7h-3.13zM491.7 1582.5h3.13v17.4h-3.13zM491.7 1717.1h3.13v8.7h-3.13zM491.7 1725.7h3.13v4.3h-3.13zM491.7 1743.1h3.13v4.3h-3.13zM491.7 1790.9h3.13v4.3h-3.13zM491.7 1825.6h3.13v4.3h-3.13zM494.8 1342.4h3.13v4.3h-3.13zM494.8 1346.7h3.13v13.0h-3.13zM494.8 1364.1h3.13v4.3h-3.13zM494.8 1442.3h3.13v13.0h-3.13zM494.8 1498.7h3.13v8.7h-3.13zM494.8 1516.1h3.13v8.7h-3.13zM494.8 1524.8h3.13v8.7h-3.13zM494.8 1537.8h3.13v13.0h-3.13zM494.8 1581.2h3.13v8.7h-3.13zM494.8 1589.9h3.13v8.7h-3.13zM494.8 1615.9h3.13v17.4h-3.13zM494.8 1785.3h3.13v8.7h-3.13zM494.8 1811.3h3.13v8.7h-3.13zM497.9 1364.4h3.13v8.7h-3.13zM497.9 1373.1h3.13v4.3h-3.13zM497.9 1394.8h3.13v17.4h-3.13zM497.9 1429.5h3.13v4.3h-3.13zM497.9 1503.3h3.13v4.3h-3.13zM497.9 1568.5h3.13v8.7h-3.13zM497.9 1620.6h3.13v26.1h-3.13zM497.9 1694.4h3.13v4.3h-3.13zM497.9 1737.8h3.13v8.7h-3.13zM497.9 1776.9h3.13v17.4h-3.13zM497.9 1794.3h3.13v26.1h-3.13zM497.9 1829.0h3.13v8.7h-3.13zM501.1 1320.6h3.13v4.3h-3.13zM501.1 1476.9h3.13v26.1h-3.13zM501.1 1503.0h3.13v8.7h-3.13zM501.1 1524.7h3.13v4.3h-3.13zM501.1 1537.7h3.13v8.7h-3.13zM501.1 1555.1h3.13v17.4h-3.13zM501.1 1572.4h3.13v4.3h-3.13zM501.1 1624.5h3.13v8.7h-3.13zM501.1 1694.0h3.13v8.7h-3.13zM501.1 1715.7h3.13v4.3h-3.13zM501.1 1746.1h3.13v4.3h-3.13zM501.1 1750.5h3.13v4.3h-3.13zM501.1 1846.0h3.13v4.3h-3.13zM504.2 1318.2h3.13v4.3h-3.13zM504.2 1378.9h3.13v8.7h-3.13zM504.2 1392.0h3.13v8.7h-3.13zM504.2 1474.5h3.13v4.3h-3.13zM504.2 1500.5h3.13v8.7h-3.13zM504.2 1557.0h3.13v4.3h-3.13zM504.2 1570.0h3.13v8.7h-3.13zM504.2 1578.7h3.13v4.3h-3.13zM504.2 1583.0h3.13v26.1h-3.13zM504.2 1626.5h3.13v4.3h-3.13zM504.2 1739.3h3.13v13.0h-3.13zM504.2 1817.5h3.13v26.1h-3.13zM507.3 1406.8h3.13v8.7h-3.13zM507.3 1415.5h3.13v8.7h-3.13zM507.3 1424.2h3.13v4.3h-3.13zM507.3 1472.0h3.13v4.3h-3.13zM507.3 1485.0h3.13v4.3h-3.13zM507.3 1558.8h3.13v17.4h-3.13zM507.3 1637.0h3.13v4.3h-3.13zM507.3 1789.0h3.13v13.0h-3.13zM510.5 1377.4h3.13v4.3h-3.13zM510.5 1386.1h3.13v8.7h-3.13zM510.5 1399.1h3.13v26.1h-3.13zM510.5 1503.3h3.13v8.7h-3.13zM510.5 1555.4h3.13v4.3h-3.13zM510.5 1646.6h3.13v8.7h-3.13zM510.5 1655.3h3.13v17.4h-3.13zM510.5 1720.4h3.13v8.7h-3.13zM510.5 1729.1h3.13v17.4h-3.13zM510.5 1746.5h3.13v17.4h-3.13zM513.6 1348.4h3.13v17.4h-3.13zM513.6 1535.1h3.13v8.7h-3.13zM513.6 1582.9h3.13v8.7h-3.13zM513.6 1591.5h3.13v17.4h-3.13zM513.6 1617.6h3.13v4.3h-3.13zM513.6 1769.6h3.13v26.1h-3.13zM516.7 1426.1h3.13v26.1h-3.13zM516.7 1491.2h3.13v13.0h-3.13zM516.7 1565.0h3.13v4.3h-3.13zM516.7 1630.1h3.13v8.7h-3.13zM516.7 1682.2h3.13v8.7h-3.13zM516.7 1708.3h3.13v4.3h-3.13zM516.7 1717.0h3.13v13.0h-3.13zM519.9 1345.6h3.13v17.4h-3.13zM519.9 1397.7h3.13v26.1h-3.13zM519.9 1462.8h3.13v4.3h-3.13zM519.9 1480.2h3.13v8.7h-3.13zM519.9 1558.3h3.13v4.3h-3.13zM519.9 1571.4h3.13v8.7h-3.13zM519.9 1580.0h3.13v4.3h-3.13zM519.9 1762.4h3.13v4.3h-3.13zM519.9 1766.8h3.13v4.3h-3.13zM519.9 1771.1h3.13v4.3h-3.13zM519.9 1810.2h3.13v17.4h-3.13zM523.0 1364.5h3.13v4.3h-3.13zM523.0 1416.6h3.13v8.7h-3.13zM523.0 1425.3h3.13v4.3h-3.13zM523.0 1447.0h3.13v26.1h-3.13zM523.0 1525.1h3.13v8.7h-3.13zM523.0 1538.2h3.13v13.0h-3.13zM523.0 1572.9h3.13v8.7h-3.13zM523.0 1585.9h3.13v4.3h-3.13zM523.0 1642.4h3.13v8.7h-3.13zM523.0 1698.8h3.13v4.3h-3.13zM523.0 1724.9h3.13v26.1h-3.13zM523.0 1759.6h3.13v13.0h-3.13zM523.0 1790.0h3.13v26.1h-3.13zM523.0 1816.1h3.13v4.3h-3.13zM523.0 1863.8h3.13v1.2h-3.13zM526.1 1345.9h3.13v8.7h-3.13zM526.1 1393.6h3.13v17.4h-3.13zM526.1 1450.1h3.13v8.7h-3.13zM526.1 1510.9h3.13v4.3h-3.13zM526.1 1545.6h3.13v8.7h-3.13zM526.1 1576.0h3.13v26.1h-3.13zM526.1 1797.4h3.13v13.0h-3.13zM526.1 1853.9h3.13v8.7h-3.13zM529.2 1316.2h3.13v26.1h-3.13zM529.2 1398.7h3.13v4.3h-3.13zM529.2 1424.7h3.13v4.3h-3.13zM529.2 1463.8h3.13v17.4h-3.13zM529.2 1502.9h3.13v13.0h-3.13zM529.2 1533.3h3.13v8.7h-3.13zM529.2 1585.4h3.13v4.3h-3.13zM529.2 1624.5h3.13v8.7h-3.13zM529.2 1650.5h3.13v8.7h-3.13zM529.2 1659.2h3.13v4.3h-3.13zM529.2 1702.6h3.13v8.7h-3.13zM529.2 1845.9h3.13v4.3h-3.13zM532.4 1325.0h3.13v8.7h-3.13zM532.4 1355.4h3.13v8.7h-3.13zM532.4 1377.1h3.13v4.3h-3.13zM532.4 1394.5h3.13v4.3h-3.13zM532.4 1459.6h3.13v17.4h-3.13zM532.4 1559.5h3.13v8.7h-3.13zM532.4 1694.1h3.13v8.7h-3.13zM532.4 1720.2h3.13v13.0h-3.13zM532.4 1828.7h3.13v17.4h-3.13zM532.4 1863.4h3.13v1.6h-3.13zM535.5 1309.9h3.13v4.3h-3.13zM535.5 1474.9h3.13v8.7h-3.13zM535.5 1522.7h3.13v4.3h-3.13zM535.5 1548.7h3.13v13.0h-3.13zM535.5 1561.8h3.13v4.3h-3.13zM535.5 1566.1h3.13v17.4h-3.13zM535.5 1583.5h3.13v4.3h-3.13zM535.5 1631.2h3.13v4.3h-3.13zM535.5 1700.7h3.13v13.0h-3.13zM535.5 1726.8h3.13v13.0h-3.13zM535.5 1778.9h3.13v13.0h-3.13zM535.5 1804.9h3.13v4.3h-3.13zM535.5 1822.3h3.13v13.0h-3.13zM535.5 1861.4h3.13v3.6h-3.13zM538.6 1320.7h3.13v4.3h-3.13zM538.6 1398.9h3.13v8.7h-3.13zM538.6 1411.9h3.13v8.7h-3.13zM538.6 1420.6h3.13v8.7h-3.13zM538.6 1429.3h3.13v4.3h-3.13zM538.6 1529.2h3.13v4.3h-3.13zM538.6 1620.4h3.13v8.7h-3.13zM538.6 1685.5h3.13v4.3h-3.13zM538.6 1720.2h3.13v13.0h-3.13zM538.6 1733.3h3.13v4.3h-3.13zM538.6 1755.0h3.13v17.4h-3.13zM538.6 1841.8h3.13v23.2h-3.13zM541.8 1312.7h3.13v8.7h-3.13zM541.8 1325.7h3.13v8.7h-3.13zM541.8 1412.5h3.13v8.7h-3.13zM541.8 1438.6h3.13v8.7h-3.13zM541.8 1456.0h3.13v4.3h-3.13zM541.8 1477.7h3.13v8.7h-3.13zM541.8 1729.5h3.13v8.7h-3.13zM541.8 1812.0h3.13v8.7h-3.13zM541.8 1820.7h3.13v26.1h-3.13zM544.9 1332.9h3.13v4.3h-3.13zM544.9 1337.2h3.13v13.0h-3.13zM544.9 1350.2h3.13v4.3h-3.13zM544.9 1371.9h3.13v8.7h-3.13zM544.9 1380.6h3.13v13.0h-3.13zM544.9 1406.7h3.13v17.4h-3.13zM544.9 1424.0h3.13v13.0h-3.13zM544.9 1458.8h3.13v8.7h-3.13zM544.9 1515.2h3.13v4.3h-3.13zM544.9 1519.6h3.13v4.3h-3.13zM544.9 1532.6h3.13v26.1h-3.13zM544.9 1571.7h3.13v8.7h-3.13zM544.9 1632.5h3.13v8.7h-3.13zM544.9 1715.0h3.13v8.7h-3.13zM544.9 1797.5h3.13v8.7h-3.13zM544.9 1862.6h3.13v2.4h-3.13zM548.0 1348.6h3.13v26.1h-3.13zM548.0 1457.1h3.13v8.7h-3.13zM548.0 1509.2h3.13v8.7h-3.13zM548.0 1548.3h3.13v8.7h-3.13zM548.0 1756.8h3.13v13.0h-3.13zM551.1 1329.2h3.13v4.3h-3.13zM551.1 1364.0h3.13v8.7h-3.13zM551.1 1372.7h3.13v4.3h-3.13zM551.1 1407.4h3.13v4.3h-3.13zM551.1 1411.7h3.13v17.4h-3.13zM551.1 1429.1h3.13v17.4h-3.13zM551.1 1476.9h3.13v4.3h-3.13zM551.1 1481.2h3.13v26.1h-3.13zM551.1 1559.4h3.13v26.1h-3.13zM551.1 1585.4h3.13v4.3h-3.13zM551.1 1650.6h3.13v17.4h-3.13zM551.1 1667.9h3.13v4.3h-3.13zM551.1 1767.8h3.13v8.7h-3.13zM554.3 1317.9h3.13v17.4h-3.13zM554.3 1383.0h3.13v26.1h-3.13zM554.3 1426.5h3.13v17.4h-3.13zM554.3 1465.5h3.13v4.3h-3.13zM554.3 1522.0h3.13v13.0h-3.13zM554.3 1535.0h3.13v26.1h-3.13zM554.3 1561.1h3.13v4.3h-3.13zM554.3 1582.8h3.13v17.4h-3.13zM554.3 1613.2h3.13v13.0h-3.13zM554.3 1652.3h3.13v4.3h-3.13zM554.3 1682.7h3.13v8.7h-3.13zM554.3 1778.2h3.13v17.4h-3.13zM557.4 1349.4h3.13v13.0h-3.13zM557.4 1362.4h3.13v8.7h-3.13zM557.4 1388.5h3.13v4.3h-3.13zM557.4 1418.9h3.13v8.7h-3.13zM557.4 1510.1h3.13v8.7h-3.13zM557.4 1518.8h3.13v4.3h-3.13zM557.4 1531.8h3.13v8.7h-3.13zM557.4 1653.4h3.13v4.3h-3.13zM557.4 1657.7h3.13v8.7h-3.13zM557.4 1675.1h3.13v13.0h-3.13zM557.4 1696.8h3.13v4.3h-3.13zM557.4 1714.2h3.13v26.1h-3.13zM557.4 1844.4h3.13v13.0h-3.13zM560.5 1433.5h3.13v4.3h-3.13zM560.5 1437.9h3.13v4.3h-3.13zM560.5 1529.1h3.13v8.7h-3.13zM560.5 1624.6h3.13v8.7h-3.13zM560.5 1637.6h3.13v8.7h-3.13zM560.5 1672.3h3.13v4.3h-3.13zM560.5 1815.6h3.13v17.4h-3.13zM560.5 1833.0h3.13v8.7h-3.13zM560.5 1841.7h3.13v8.7h-3.13zM563.7 1311.8h3.13v8.7h-3.13zM563.7 1411.6h3.13v4.3h-3.13zM563.7 1420.3h3.13v17.4h-3.13zM563.7 1463.7h3.13v4.3h-3.13zM563.7 1507.2h3.13v8.7h-3.13zM563.7 1528.9h3.13v13.0h-3.13zM563.7 1585.3h3.13v4.3h-3.13zM563.7 1620.1h3.13v8.7h-3.13zM563.7 1633.1h3.13v26.1h-3.13zM563.7 1676.5h3.13v4.3h-3.13zM563.7 1680.9h3.13v8.7h-3.13zM563.7 1737.3h3.13v8.7h-3.13zM563.7 1785.1h3.13v17.4h-3.13zM563.7 1802.4h3.13v8.7h-3.13zM563.7 1863.2h3.13v1.8h-3.13zM566.8 1372.0h3.13v4.3h-3.13zM566.8 1411.1h3.13v8.7h-3.13zM566.8 1519.6h3.13v8.7h-3.13zM566.8 1563.0h3.13v13.0h-3.13zM566.8 1610.8h3.13v8.7h-3.13zM566.8 1619.5h3.13v17.4h-3.13zM566.8 1636.9h3.13v4.3h-3.13zM566.8 1641.2h3.13v8.7h-3.13zM566.8 1662.9h3.13v8.7h-3.13zM566.8 1706.3h3.13v4.3h-3.13zM566.8 1728.0h3.13v17.4h-3.13zM566.8 1745.4h3.13v4.3h-3.13zM566.8 1793.2h3.13v8.7h-3.13zM566.8 1801.9h3.13v8.7h-3.13zM566.8 1814.9h3.13v4.3h-3.13zM569.9 1466.9h3.13v4.3h-3.13zM569.9 1519.0h3.13v13.0h-3.13zM569.9 1545.0h3.13v26.1h-3.13zM569.9 1627.5h3.13v4.3h-3.13zM569.9 1631.9h3.13v17.4h-3.13zM569.9 1692.7h3.13v17.4h-3.13zM569.9 1736.1h3.13v4.3h-3.13zM569.9 1749.1h3.13v8.7h-3.13zM569.9 1849.0h3.13v4.3h-3.13zM573.0 1325.6h3.13v8.7h-3.13zM573.0 1334.3h3.13v26.1h-3.13zM573.0 1360.3h3.13v17.4h-3.13zM573.0 1421.1h3.13v8.7h-3.13zM573.0 1503.6h3.13v13.0h-3.13zM573.0 1568.8h3.13v4.3h-3.13zM573.0 1612.2h3.13v4.3h-3.13zM573.0 1642.6h3.13v8.7h-3.13zM573.0 1651.3h3.13v26.1h-3.13zM573.0 1681.7h3.13v17.4h-3.13zM573.0 1716.4h3.13v13.0h-3.13zM573.0 1729.4h3.13v8.7h-3.13zM576.2 1309.2h3.13v7.2h-3.13zM576.2 1438.0h3.13v13.0h-3.13zM576.2 1451.0h3.13v8.7h-3.13zM576.2 1576.9h3.13v17.4h-3.13zM576.2 1594.3h3.13v13.0h-3.13zM576.2 1633.4h3.13v17.4h-3.13zM576.2 1715.9h3.13v8.7h-3.13zM579.3 1321.7h3.13v4.3h-3.13zM579.3 1326.0h3.13v4.3h-3.13zM579.3 1330.4h3.13v17.4h-3.13zM579.3 1369.5h3.13v8.7h-3.13zM579.3 1465.0h3.13v4.3h-3.13zM579.3 1504.1h3.13v8.7h-3.13zM579.3 1777.6h3.13v4.3h-3.13zM579.3 1803.7h3.13v17.4h-3.13zM582.4 1320.4h3.13v4.3h-3.13zM582.4 1333.5h3.13v4.3h-3.13zM582.4 1337.8h3.13v4.3h-3.13zM582.4 1355.2h3.13v13.0h-3.13zM582.4 1693.9h3.13v17.4h-3.13zM582.4 1732.9h3.13v4.3h-3.13zM582.4 1737.3h3.13v8.7h-3.13zM582.4 1746.0h3.13v8.7h-3.13zM582.4 1837.1h3.13v26.1h-3.13zM585.6 1362.1h3.13v26.1h-3.13zM585.6 1505.4h3.13v17.4h-3.13zM585.6 1531.4h3.13v4.3h-3.13zM585.6 1548.8h3.13v4.3h-3.13zM585.6 1561.8h3.13v13.0h-3.13zM585.6 1640.0h3.13v8.7h-3.13zM585.6 1696.4h3.13v4.3h-3.13zM585.6 1783.3h3.13v4.3h-3.13zM585.6 1826.7h3.13v17.4h-3.13zM588.7 1389.9h3.13v8.7h-3.13zM588.7 1416.0h3.13v4.3h-3.13zM588.7 1420.3h3.13v26.1h-3.13zM588.7 1489.8h3.13v4.3h-3.13zM588.7 1498.5h3.13v13.0h-3.13zM588.7 1511.5h3.13v8.7h-3.13zM588.7 1520.2h3.13v8.7h-3.13zM588.7 1806.8h3.13v4.3h-3.13zM591.8 1320.8h3.13v13.0h-3.13zM591.8 1351.2h3.13v13.0h-3.13zM591.8 1438.1h3.13v4.3h-3.13zM591.8 1442.4h3.13v8.7h-3.13zM591.8 1498.8h3.13v4.3h-3.13zM591.8 1577.0h3.13v8.7h-3.13zM591.8 1646.5h3.13v13.0h-3.13zM591.8 1776.7h3.13v17.4h-3.13zM594.9 1343.8h3.13v17.4h-3.13zM594.9 1369.9h3.13v26.1h-3.13zM594.9 1395.9h3.13v4.3h-3.13zM594.9 1400.3h3.13v4.3h-3.13zM594.9 1435.0h3.13v26.1h-3.13zM594.9 1461.1h3.13v17.4h-3.13zM594.9 1478.4h3.13v17.4h-3.13zM594.9 1608.7h3.13v8.7h-3.13zM594.9 1652.1h3.13v4.3h-3.13zM594.9 1769.4h3.13v26.1h-3.13zM594.9 1799.8h3.13v4.3h-3.13zM598.1 1461.1h3.13v4.3h-3.13zM598.1 1608.8h3.13v4.3h-3.13zM598.1 1621.8h3.13v4.3h-3.13zM598.1 1726.0h3.13v4.3h-3.13zM598.1 1756.4h3.13v8.7h-3.13zM601.2 1472.9h3.13v26.1h-3.13zM601.2 1529.4h3.13v26.1h-3.13zM601.2 1585.8h3.13v13.0h-3.13zM601.2 1624.9h3.13v8.7h-3.13zM601.2 1681.4h3.13v4.3h-3.13zM601.2 1690.0h3.13v4.3h-3.13zM601.2 1694.4h3.13v4.3h-3.13zM601.2 1698.7h3.13v8.7h-3.13zM601.2 1785.6h3.13v4.3h-3.13zM601.2 1794.3h3.13v4.3h-3.13zM601.2 1802.9h3.13v4.3h-3.13zM604.3 1378.7h3.13v4.3h-3.13zM604.3 1383.0h3.13v17.4h-3.13zM604.3 1426.5h3.13v13.0h-3.13zM604.3 1465.5h3.13v8.7h-3.13zM604.3 1500.3h3.13v8.7h-3.13zM604.3 1509.0h3.13v8.7h-3.13zM604.3 1522.0h3.13v13.0h-3.13zM604.3 1682.6h3.13v4.3h-3.13zM604.3 1700.0h3.13v4.3h-3.13zM604.3 1726.1h3.13v8.7h-3.13zM604.3 1743.4h3.13v8.7h-3.13zM604.3 1765.1h3.13v8.7h-3.13zM604.3 1808.6h3.13v26.1h-3.13zM604.3 1847.6h3.13v13.0h-3.13zM604.3 1860.7h3.13v4.3h-3.13zM607.5 1337.1h3.13v17.4h-3.13zM607.5 1371.9h3.13v4.3h-3.13zM607.5 1424.0h3.13v13.0h-3.13zM607.5 1467.4h3.13v4.3h-3.13zM607.5 1480.4h3.13v8.7h-3.13zM607.5 1510.8h3.13v17.4h-3.13zM607.5 1532.5h3.13v4.3h-3.13zM607.5 1680.1h3.13v13.0h-3.13zM607.5 1710.5h3.13v4.3h-3.13zM607.5 1714.9h3.13v4.3h-3.13zM607.5 1719.2h3.13v13.0h-3.13zM607.5 1745.3h3.13v13.0h-3.13zM607.5 1788.7h3.13v4.3h-3.13zM607.5 1853.8h3.13v8.7h-3.13zM610.6 1309.2h3.13v23.8h-3.13zM610.6 1359.1h3.13v8.7h-3.13zM610.6 1415.5h3.13v4.3h-3.13zM610.6 1428.5h3.13v4.3h-3.13zM610.6 1432.9h3.13v26.1h-3.13zM610.6 1458.9h3.13v17.4h-3.13zM610.6 1489.3h3.13v8.7h-3.13zM610.6 1541.4h3.13v17.4h-3.13zM610.6 1580.5h3.13v8.7h-3.13zM610.6 1589.2h3.13v4.3h-3.13zM610.6 1628.3h3.13v4.3h-3.13zM610.6 1663.0h3.13v17.4h-3.13zM610.6 1710.8h3.13v26.1h-3.13zM610.6 1754.2h3.13v17.4h-3.13zM610.6 1802.0h3.13v13.0h-3.13zM610.6 1815.0h3.13v4.3h-3.13zM610.6 1841.1h3.13v4.3h-3.13zM613.7 1310.3h3.13v26.1h-3.13zM613.7 1510.1h3.13v4.3h-3.13zM613.7 1701.1h3.13v17.4h-3.13zM613.7 1718.5h3.13v4.3h-3.13zM613.7 1748.9h3.13v4.3h-3.13zM613.7 1788.0h3.13v13.0h-3.13zM613.7 1853.1h3.13v8.7h-3.13zM616.8 1360.8h3.13v17.4h-3.13zM616.8 1378.1h3.13v17.4h-3.13zM616.8 1486.7h3.13v4.3h-3.13zM616.8 1538.8h3.13v26.1h-3.13zM616.8 1573.5h3.13v8.7h-3.13zM616.8 1617.0h3.13v4.3h-3.13zM616.8 1799.3h3.13v13.0h-3.13zM616.8 1855.8h3.13v9.2h-3.13zM620.0 1316.8h3.13v26.1h-3.13zM620.0 1442.7h3.13v4.3h-3.13zM620.0 1512.2h3.13v26.1h-3.13zM620.0 1546.9h3.13v26.1h-3.13zM620.0 1625.1h3.13v8.7h-3.13zM620.0 1681.5h3.13v4.3h-3.13zM620.0 1807.4h3.13v26.1h-3.13zM623.1 1415.9h3.13v8.7h-3.13zM623.1 1441.9h3.13v8.7h-3.13zM623.1 1463.6h3.13v4.3h-3.13zM623.1 1468.0h3.13v13.0h-3.13zM623.1 1481.0h3.13v8.7h-3.13zM623.1 1498.4h3.13v26.1h-3.13zM623.1 1619.9h3.13v4.3h-3.13zM623.1 1672.0h3.13v8.7h-3.13zM623.1 1824.0h3.13v8.7h-3.13zM626.2 1318.0h3.13v8.7h-3.13zM626.2 1344.0h3.13v8.7h-3.13zM626.2 1400.5h3.13v4.3h-3.13zM626.2 1422.2h3.13v17.4h-3.13zM626.2 1496.0h3.13v17.4h-3.13zM626.2 1513.4h3.13v8.7h-3.13zM626.2 1522.1h3.13v13.0h-3.13zM626.2 1535.1h3.13v4.3h-3.13zM626.2 1539.4h3.13v4.3h-3.13zM626.2 1543.8h3.13v17.4h-3.13zM626.2 1587.2h3.13v26.1h-3.13zM626.2 1695.8h3.13v4.3h-3.13zM626.2 1700.1h3.13v8.7h-3.13zM626.2 1752.2h3.13v8.7h-3.13zM626.2 1760.9h3.13v13.0h-3.13zM626.2 1821.7h3.13v13.0h-3.13zM626.2 1834.7h3.13v4.3h-3.13zM626.2 1839.0h3.13v13.0h-3.13zM629.4 1377.1h3.13v4.3h-3.13zM629.4 1394.5h3.13v8.7h-3.13zM629.4 1424.9h3.13v4.3h-3.13zM629.4 1446.6h3.13v26.1h-3.13zM629.4 1503.1h3.13v26.1h-3.13zM629.4 1681.1h3.13v13.0h-3.13zM629.4 1724.5h3.13v8.7h-3.13zM629.4 1737.5h3.13v17.4h-3.13zM629.4 1785.3h3.13v4.3h-3.13zM629.4 1828.7h3.13v26.1h-3.13zM629.4 1863.5h3.13v1.5h-3.13zM632.5 1309.2h3.13v9.2h-3.13zM632.5 1318.4h3.13v17.4h-3.13zM632.5 1353.1h3.13v13.0h-3.13zM632.5 1374.8h3.13v4.3h-3.13zM632.5 1418.2h3.13v13.0h-3.13zM632.5 1457.3h3.13v17.4h-3.13zM632.5 1552.8h3.13v26.1h-3.13zM632.5 1613.6h3.13v13.0h-3.13zM632.5 1626.7h3.13v8.7h-3.13zM632.5 1687.4h3.13v4.3h-3.13zM632.5 1800.3h3.13v4.3h-3.13zM632.5 1804.7h3.13v17.4h-3.13zM635.6 1344.6h3.13v4.3h-3.13zM635.6 1422.7h3.13v4.3h-3.13zM635.6 1553.0h3.13v4.3h-3.13zM635.6 1557.3h3.13v4.3h-3.13zM635.6 1683.2h3.13v8.7h-3.13zM635.6 1726.7h3.13v4.3h-3.13zM635.6 1765.7h3.13v17.4h-3.13zM638.8 1345.5h3.13v13.0h-3.13zM638.8 1432.3h3.13v4.3h-3.13zM638.8 1523.5h3.13v26.1h-3.13zM638.8 1549.5h3.13v17.4h-3.13zM638.8 1705.9h3.13v4.3h-3.13zM638.8 1753.6h3.13v26.1h-3.13zM638.8 1849.2h3.13v15.8h-3.13zM641.9 1407.0h3.13v8.7h-3.13zM641.9 1415.7h3.13v8.7h-3.13zM641.9 1437.4h3.13v8.7h-3.13zM641.9 1454.8h3.13v4.3h-3.13zM641.9 1515.6h3.13v8.7h-3.13zM641.9 1567.7h3.13v4.3h-3.13zM641.9 1615.4h3.13v26.1h-3.13zM641.9 1689.2h3.13v17.4h-3.13zM641.9 1745.7h3.13v4.3h-3.13zM641.9 1750.0h3.13v8.7h-3.13zM641.9 1758.7h3.13v26.1h-3.13zM641.9 1841.2h3.13v4.3h-3.13zM645.0 1325.8h3.13v4.3h-3.13zM645.0 1351.9h3.13v17.4h-3.13zM645.0 1373.6h3.13v4.3h-3.13zM645.0 1386.6h3.13v8.7h-3.13zM645.0 1412.7h3.13v4.3h-3.13zM645.0 1482.1h3.13v4.3h-3.13zM645.0 1629.8h3.13v4.3h-3.13zM645.0 1699.2h3.13v4.3h-3.13zM645.0 1703.6h3.13v13.0h-3.13zM645.0 1803.5h3.13v8.7h-3.13zM648.1 1332.9h3.13v26.1h-3.13zM648.1 1563.0h3.13v13.0h-3.13zM648.1 1576.1h3.13v8.7h-3.13zM648.1 1584.7h3.13v17.4h-3.13zM648.1 1610.8h3.13v4.3h-3.13zM648.1 1615.1h3.13v17.4h-3.13zM648.1 1658.6h3.13v8.7h-3.13zM648.1 1680.3h3.13v13.0h-3.13zM648.1 1706.3h3.13v8.7h-3.13zM648.1 1858.3h3.13v6.7h-3.13zM651.3 1309.2h3.13v3.4h-3.13zM651.3 1312.6h3.13v4.3h-3.13zM651.3 1351.6h3.13v26.1h-3.13zM651.3 1425.4h3.13v8.7h-3.13zM651.3 1438.5h3.13v13.0h-3.13zM651.3 1486.2h3.13v17.4h-3.13zM651.3 1646.9h3.13v4.3h-3.13zM651.3 1677.3h3.13v26.1h-3.13zM651.3 1794.5h3.13v17.4h-3.13zM651.3 1811.9h3.13v4.3h-3.13zM654.4 1364.0h3.13v4.3h-3.13zM654.4 1455.2h3.13v17.4h-3.13zM654.4 1503.0h3.13v26.1h-3.13zM654.4 1589.8h3.13v8.7h-3.13zM654.4 1715.8h3.13v8.7h-3.13zM654.4 1798.3h3.13v8.7h-3.13zM654.4 1824.3h3.13v13.0h-3.13zM657.5 1325.6h3.13v17.4h-3.13zM657.5 1408.2h3.13v17.4h-3.13zM657.5 1425.5h3.13v4.3h-3.13zM657.5 1512.4h3.13v17.4h-3.13zM657.5 1586.2h3.13v8.7h-3.13zM657.5 1616.6h3.13v8.7h-3.13zM657.5 1633.9h3.13v13.0h-3.13zM657.5 1651.3h3.13v17.4h-3.13zM657.5 1677.4h3.13v4.3h-3.13zM657.5 1686.1h3.13v17.4h-3.13zM657.5 1829.3h3.13v4.3h-3.13zM660.7 1398.0h3.13v4.3h-3.13zM660.7 1419.7h3.13v13.0h-3.13zM660.7 1480.5h3.13v17.4h-3.13zM660.7 1506.6h3.13v26.1h-3.13zM660.7 1550.0h3.13v8.7h-3.13zM660.7 1602.1h3.13v8.7h-3.13zM660.7 1654.2h3.13v13.0h-3.13zM660.7 1697.6h3.13v4.3h-3.13zM660.7 1797.5h3.13v4.3h-3.13zM660.7 1845.3h3.13v4.3h-3.13zM663.8 1324.2h3.13v17.4h-3.13zM663.8 1341.6h3.13v26.1h-3.13zM663.8 1376.3h3.13v4.3h-3.13zM663.8 1450.1h3.13v8.7h-3.13zM663.8 1458.8h3.13v17.4h-3.13zM663.8 1506.6h3.13v26.1h-3.13zM663.8 1541.3h3.13v4.3h-3.13zM663.8 1649.9h3.13v4.3h-3.13zM663.8 1758.4h3.13v8.7h-3.13zM663.8 1801.9h3.13v8.7h-3.13zM666.9 1318.8h3.13v4.3h-3.13zM666.9 1323.1h3.13v26.1h-3.13zM666.9 1349.2h3.13v4.3h-3.13zM666.9 1427.3h3.13v4.3h-3.13zM666.9 1431.7h3.13v13.0h-3.13zM666.9 1462.1h3.13v4.3h-3.13zM666.9 1575.0h3.13v8.7h-3.13zM666.9 1583.6h3.13v4.3h-3.13zM666.9 1674.8h3.13v4.3h-3.13zM666.9 1692.2h3.13v17.4h-3.13zM666.9 1740.0h3.13v13.0h-3.13zM666.9 1753.0h3.13v17.4h-3.13zM666.9 1770.4h3.13v4.3h-3.13zM666.9 1787.7h3.13v8.7h-3.13zM666.9 1809.4h3.13v8.7h-3.13zM666.9 1835.5h3.13v8.7h-3.13zM666.9 1844.2h3.13v20.8h-3.13zM670.0 1347.5h3.13v17.4h-3.13zM670.0 1391.0h3.13v8.7h-3.13zM670.0 1595.0h3.13v13.0h-3.13zM670.0 1608.1h3.13v4.3h-3.13zM670.0 1716.6h3.13v8.7h-3.13zM670.0 1725.3h3.13v8.7h-3.13zM670.0 1734.0h3.13v8.7h-3.13zM670.0 1803.5h3.13v26.1h-3.13zM670.0 1864.3h3.13v0.7h-3.13zM673.2 1330.4h3.13v4.3h-3.13zM673.2 1360.8h3.13v13.0h-3.13zM673.2 1395.6h3.13v8.7h-3.13zM673.2 1404.3h3.13v26.1h-3.13zM673.2 1430.3h3.13v4.3h-3.13zM673.2 1460.7h3.13v8.7h-3.13zM673.2 1504.1h3.13v13.0h-3.13zM673.2 1564.9h3.13v4.3h-3.13zM673.2 1630.1h3.13v8.7h-3.13zM673.2 1673.5h3.13v17.4h-3.13zM673.2 1799.4h3.13v8.7h-3.13zM673.2 1812.4h3.13v26.1h-3.13z" fill="#000" opacity="0.1"/><path d="M81.8 1473.1h3.13v8.7h-3.13zM81.8 1638.1h3.13v4.3h-3.13zM84.9 1453.5h3.13v8.7h-3.13zM84.9 1479.6h3.13v8.7h-3.13zM84.9 1631.6h3.13v8.7h-3.13zM84.9 1692.4h3.13v4.3h-3.13zM88.1 1309.2h3.13v0.1h-3.13zM88.1 1522.1h3.13v4.3h-3.13zM88.1 1635.0h3.13v8.7h-3.13zM88.1 1682.7h3.13v4.3h-3.13zM88.1 1769.6h3.13v4.3h-3.13zM88.1 1786.9h3.13v8.7h-3.13zM91.2 1318.7h3.13v4.3h-3.13zM91.2 1405.5h3.13v4.3h-3.13zM97.4 1328.7h3.13v4.3h-3.13zM100.6 1365.9h3.13v4.3h-3.13zM100.6 1370.3h3.13v4.3h-3.13zM100.6 1526.6h3.13v8.7h-3.13zM100.6 1587.4h3.13v8.7h-3.13zM100.6 1800.1h3.13v8.7h-3.13zM103.7 1644.4h3.13v4.3h-3.13zM106.8 1757.3h3.13v8.7h-3.13zM110.0 1544.6h3.13v8.7h-3.13zM113.1 1816.6h3.13v8.7h-3.13zM116.2 1438.2h3.13v4.3h-3.13zM116.2 1616.3h3.13v4.3h-3.13zM116.2 1755.2h3.13v8.7h-3.13zM116.2 1785.6h3.13v8.7h-3.13zM119.3 1320.1h3.13v4.3h-3.13zM119.3 1684.8h3.13v8.7h-3.13zM119.3 1802.1h3.13v8.7h-3.13zM122.5 1401.8h3.13v4.3h-3.13zM122.5 1775.3h3.13v8.7h-3.13zM128.7 1558.8h3.13v8.7h-3.13zM131.9 1645.6h3.13v8.7h-3.13zM138.1 1700.5h3.13v4.3h-3.13zM141.2 1410.2h3.13v4.3h-3.13zM141.2 1492.7h3.13v4.3h-3.13zM141.2 1718.5h3.13v8.7h-3.13zM141.2 1735.9h3.13v8.7h-3.13zM144.4 1692.1h3.13v4.3h-3.13zM147.5 1549.8h3.13v8.7h-3.13zM147.5 1779.9h3.13v8.7h-3.13zM150.6 1590.7h3.13v8.7h-3.13zM150.6 1638.4h3.13v4.3h-3.13zM150.6 1642.8h3.13v8.7h-3.13zM150.6 1803.4h3.13v4.3h-3.13zM153.8 1356.6h3.13v4.3h-3.13zM153.8 1391.3h3.13v4.3h-3.13zM156.9 1339.6h3.13v4.3h-3.13zM156.9 1435.1h3.13v8.7h-3.13zM163.2 1648.9h3.13v8.7h-3.13zM163.2 1848.7h3.13v4.3h-3.13zM166.3 1398.9h3.13v4.3h-3.13zM169.4 1485.4h3.13v4.3h-3.13zM169.4 1780.7h3.13v8.7h-3.13zM172.5 1587.4h3.13v8.7h-3.13zM175.7 1738.9h3.13v4.3h-3.13zM175.7 1747.6h3.13v4.3h-3.13zM178.8 1548.2h3.13v4.3h-3.13zM178.8 1643.7h3.13v4.3h-3.13zM178.8 1774.0h3.13v8.7h-3.13zM178.8 1800.0h3.13v4.3h-3.13zM181.9 1514.0h3.13v4.3h-3.13zM181.9 1579.2h3.13v4.3h-3.13zM185.1 1661.0h3.13v4.3h-3.13zM185.1 1760.8h3.13v8.7h-3.13zM185.1 1782.5h3.13v4.3h-3.13zM185.1 1817.3h3.13v4.3h-3.13zM188.2 1732.6h3.13v4.3h-3.13zM188.2 1810.8h3.13v8.7h-3.13zM188.2 1819.5h3.13v8.7h-3.13zM188.2 1858.6h3.13v6.4h-3.13zM191.3 1377.7h3.13v8.7h-3.13zM191.3 1516.6h3.13v8.7h-3.13zM191.3 1837.9h3.13v8.7h-3.13zM194.4 1563.0h3.13v4.3h-3.13zM194.4 1806.2h3.13v4.3h-3.13zM197.6 1421.8h3.13v4.3h-3.13zM197.6 1508.6h3.13v4.3h-3.13zM197.6 1860.3h3.13v4.3h-3.13zM200.7 1330.7h3.13v8.7h-3.13zM200.7 1725.8h3.13v4.3h-3.13zM200.7 1782.3h3.13v4.3h-3.13zM203.8 1309.2h3.13v6.4h-3.13zM207.0 1658.0h3.13v8.7h-3.13zM207.0 1675.3h3.13v4.3h-3.13zM210.1 1537.7h3.13v4.3h-3.13zM210.1 1576.8h3.13v8.7h-3.13zM213.2 1439.3h3.13v8.7h-3.13zM216.3 1397.7h3.13v8.7h-3.13zM216.3 1666.9h3.13v4.3h-3.13zM216.3 1671.3h3.13v8.7h-3.13zM219.5 1420.6h3.13v8.7h-3.13zM222.6 1314.2h3.13v8.7h-3.13zM222.6 1496.6h3.13v8.7h-3.13zM225.7 1456.4h3.13v4.3h-3.13zM225.7 1738.6h3.13v8.7h-3.13zM228.9 1652.6h3.13v4.3h-3.13zM228.9 1683.0h3.13v4.3h-3.13zM228.9 1804.6h3.13v4.3h-3.13zM228.9 1826.3h3.13v8.7h-3.13zM232.0 1385.2h3.13v4.3h-3.13zM232.0 1489.4h3.13v8.7h-3.13zM232.0 1571.9h3.13v4.3h-3.13zM232.0 1584.9h3.13v8.7h-3.13zM232.0 1619.6h3.13v8.7h-3.13zM232.0 1667.4h3.13v4.3h-3.13zM232.0 1671.7h3.13v8.7h-3.13zM232.0 1858.5h3.13v6.5h-3.13zM235.1 1759.9h3.13v8.7h-3.13zM235.1 1768.6h3.13v4.3h-3.13zM238.2 1641.6h3.13v8.7h-3.13zM241.4 1482.1h3.13v8.7h-3.13zM241.4 1716.6h3.13v4.3h-3.13zM241.4 1725.3h3.13v8.7h-3.13zM241.4 1786.1h3.13v4.3h-3.13zM244.5 1610.2h3.13v8.7h-3.13zM244.5 1801.3h3.13v4.3h-3.13zM247.6 1661.0h3.13v8.7h-3.13zM247.6 1695.7h3.13v8.7h-3.13zM250.8 1309.2h3.13v4.2h-3.13zM250.8 1461.1h3.13v4.3h-3.13zM253.9 1394.7h3.13v8.7h-3.13zM253.9 1403.3h3.13v8.7h-3.13zM253.9 1629.1h3.13v4.3h-3.13zM253.9 1750.7h3.13v8.7h-3.13zM257.0 1523.1h3.13v4.3h-3.13zM257.0 1727.2h3.13v8.7h-3.13zM257.0 1735.9h3.13v4.3h-3.13zM257.0 1770.6h3.13v8.7h-3.13zM260.1 1726.2h3.13v8.7h-3.13zM266.4 1426.8h3.13v4.3h-3.13zM266.4 1431.1h3.13v4.3h-3.13zM266.4 1452.8h3.13v8.7h-3.13zM266.4 1491.9h3.13v8.7h-3.13zM266.4 1687.3h3.13v8.7h-3.13zM269.5 1852.5h3.13v4.3h-3.13zM272.7 1414.6h3.13v8.7h-3.13zM275.8 1661.6h3.13v8.7h-3.13zM278.9 1683.2h3.13v8.7h-3.13zM282.1 1576.1h3.13v4.3h-3.13zM282.1 1602.1h3.13v4.3h-3.13zM282.1 1610.8h3.13v8.7h-3.13zM285.2 1309.2h3.13v5.0h-3.13zM285.2 1474.9h3.13v4.3h-3.13zM285.2 1514.0h3.13v4.3h-3.13zM285.2 1518.3h3.13v8.7h-3.13zM288.3 1470.0h3.13v8.7h-3.13zM291.4 1373.2h3.13v4.3h-3.13zM291.4 1464.4h3.13v4.3h-3.13zM291.4 1525.2h3.13v4.3h-3.13zM291.4 1564.2h3.13v8.7h-3.13zM291.4 1655.4h3.13v4.3h-3.13zM291.4 1729.2h3.13v4.3h-3.13zM294.6 1802.5h3.13v4.3h-3.13zM300.8 1730.9h3.13v8.7h-3.13zM304.0 1531.2h3.13v8.7h-3.13zM304.0 1609.4h3.13v4.3h-3.13zM304.0 1822.2h3.13v8.7h-3.13zM307.1 1516.0h3.13v4.3h-3.13zM307.1 1529.0h3.13v8.7h-3.13zM307.1 1841.6h3.13v4.3h-3.13zM310.2 1328.2h3.13v8.7h-3.13zM313.3 1709.8h3.13v4.3h-3.13zM316.5 1594.9h3.13v8.7h-3.13zM316.5 1651.3h3.13v4.3h-3.13zM319.6 1370.8h3.13v8.7h-3.13zM319.6 1418.6h3.13v4.3h-3.13zM319.6 1544.5h3.13v4.3h-3.13zM319.6 1600.9h3.13v4.3h-3.13zM322.7 1469.1h3.13v4.3h-3.13zM322.7 1820.8h3.13v8.7h-3.13zM329.0 1472.0h3.13v8.7h-3.13zM329.0 1632.7h3.13v8.7h-3.13zM329.0 1810.7h3.13v8.7h-3.13zM332.1 1327.0h3.13v4.3h-3.13zM332.1 1374.8h3.13v8.7h-3.13zM335.2 1448.9h3.13v8.7h-3.13zM335.2 1687.7h3.13v4.3h-3.13zM335.2 1739.9h3.13v4.3h-3.13zM338.4 1416.5h3.13v4.3h-3.13zM338.4 1546.7h3.13v4.3h-3.13zM338.4 1807.2h3.13v8.7h-3.13zM341.5 1522.6h3.13v4.3h-3.13zM347.8 1401.2h3.13v4.3h-3.13zM347.8 1548.9h3.13v4.3h-3.13zM347.8 1683.5h3.13v8.7h-3.13zM347.8 1839.8h3.13v4.3h-3.13zM354.0 1309.2h3.13v1.6h-3.13zM357.1 1728.2h3.13v8.7h-3.13zM360.3 1488.6h3.13v8.7h-3.13zM360.3 1601.5h3.13v8.7h-3.13zM363.4 1540.7h3.13v8.7h-3.13zM363.4 1736.1h3.13v8.7h-3.13zM366.5 1458.0h3.13v8.7h-3.13zM366.5 1796.7h3.13v4.3h-3.13zM366.5 1844.5h3.13v4.3h-3.13zM369.7 1645.9h3.13v8.7h-3.13zM369.7 1658.9h3.13v8.7h-3.13zM369.7 1693.7h3.13v8.7h-3.13zM372.8 1336.7h3.13v4.3h-3.13zM372.8 1740.6h3.13v4.3h-3.13zM379.1 1569.7h3.13v4.3h-3.13zM379.1 1786.8h3.13v4.3h-3.13zM385.3 1373.3h3.13v8.7h-3.13zM385.3 1850.9h3.13v4.3h-3.13zM388.4 1309.2h3.13v4.2h-3.13zM388.4 1478.4h3.13v4.3h-3.13zM388.4 1569.6h3.13v8.7h-3.13zM394.7 1426.0h3.13v4.3h-3.13zM394.7 1460.8h3.13v4.3h-3.13zM394.7 1465.1h3.13v4.3h-3.13zM394.7 1491.2h3.13v8.7h-3.13zM397.8 1612.6h3.13v4.3h-3.13zM397.8 1799.3h3.13v4.3h-3.13zM397.8 1834.1h3.13v4.3h-3.13zM401.0 1333.7h3.13v8.7h-3.13zM401.0 1429.3h3.13v4.3h-3.13zM404.1 1470.0h3.13v8.7h-3.13zM404.1 1743.5h3.13v4.3h-3.13zM407.2 1427.2h3.13v8.7h-3.13zM407.2 1835.4h3.13v8.7h-3.13zM410.3 1425.6h3.13v8.7h-3.13zM410.3 1859.8h3.13v5.2h-3.13zM413.5 1528.6h3.13v8.7h-3.13zM413.5 1676.2h3.13v4.3h-3.13zM419.7 1469.1h3.13v4.3h-3.13zM419.7 1686.3h3.13v8.7h-3.13zM419.7 1734.0h3.13v8.7h-3.13zM419.7 1742.7h3.13v4.3h-3.13zM419.7 1807.8h3.13v8.7h-3.13zM419.7 1816.5h3.13v8.7h-3.13zM422.9 1377.3h3.13v4.3h-3.13zM422.9 1433.8h3.13v4.3h-3.13zM422.9 1815.9h3.13v8.7h-3.13zM429.1 1354.0h3.13v8.7h-3.13zM432.2 1705.7h3.13v4.3h-3.13zM435.4 1377.8h3.13v4.3h-3.13zM435.4 1469.0h3.13v8.7h-3.13zM435.4 1812.0h3.13v8.7h-3.13zM435.4 1820.7h3.13v4.3h-3.13zM438.5 1482.8h3.13v8.7h-3.13zM438.5 1634.7h3.13v8.7h-3.13zM438.5 1725.9h3.13v8.7h-3.13zM438.5 1821.5h3.13v8.7h-3.13zM441.6 1500.2h3.13v4.3h-3.13zM441.6 1673.9h3.13v8.7h-3.13zM441.6 1682.6h3.13v8.7h-3.13zM444.8 1370.2h3.13v8.7h-3.13zM444.8 1448.3h3.13v4.3h-3.13zM444.8 1556.9h3.13v4.3h-3.13zM444.8 1630.7h3.13v8.7h-3.13zM444.8 1656.7h3.13v4.3h-3.13zM444.8 1695.8h3.13v8.7h-3.13zM444.8 1713.2h3.13v8.7h-3.13zM447.9 1703.7h3.13v8.7h-3.13zM451.0 1659.2h3.13v4.3h-3.13zM451.0 1811.2h3.13v4.3h-3.13zM454.1 1603.7h3.13v8.7h-3.13zM454.1 1660.1h3.13v8.7h-3.13zM457.3 1619.7h3.13v4.3h-3.13zM457.3 1797.7h3.13v8.7h-3.13zM457.3 1845.5h3.13v4.3h-3.13zM460.4 1361.0h3.13v8.7h-3.13zM460.4 1830.0h3.13v8.7h-3.13zM466.7 1341.0h3.13v8.7h-3.13zM466.7 1493.0h3.13v8.7h-3.13zM472.9 1323.6h3.13v4.3h-3.13zM472.9 1475.6h3.13v4.3h-3.13zM472.9 1501.6h3.13v4.3h-3.13zM472.9 1770.8h3.13v8.7h-3.13zM472.9 1831.6h3.13v8.7h-3.13zM476.0 1367.3h3.13v8.7h-3.13zM476.0 1666.9h3.13v4.3h-3.13zM479.2 1732.0h3.13v4.3h-3.13zM482.3 1309.2h3.13v0.2h-3.13zM482.3 1652.5h3.13v8.7h-3.13zM482.3 1752.3h3.13v4.3h-3.13zM485.4 1344.8h3.13v4.3h-3.13zM488.6 1608.0h3.13v4.3h-3.13zM491.7 1803.9h3.13v4.3h-3.13zM494.8 1598.6h3.13v8.7h-3.13zM497.9 1390.4h3.13v4.3h-3.13zM501.1 1351.0h3.13v4.3h-3.13zM501.1 1442.2h3.13v8.7h-3.13zM501.1 1811.3h3.13v8.7h-3.13zM504.2 1322.5h3.13v4.3h-3.13zM504.2 1448.4h3.13v8.7h-3.13zM504.2 1513.6h3.13v8.7h-3.13zM504.2 1682.9h3.13v8.7h-3.13zM510.5 1316.6h3.13v4.3h-3.13zM510.5 1459.9h3.13v4.3h-3.13zM510.5 1538.1h3.13v8.7h-3.13zM510.5 1624.9h3.13v4.3h-3.13zM510.5 1698.7h3.13v4.3h-3.13zM510.5 1768.2h3.13v4.3h-3.13zM513.6 1422.2h3.13v8.7h-3.13zM513.6 1687.1h3.13v8.7h-3.13zM516.7 1421.7h3.13v4.3h-3.13zM516.7 1621.5h3.13v4.3h-3.13zM519.9 1488.9h3.13v4.3h-3.13zM519.9 1653.9h3.13v8.7h-3.13zM523.0 1490.4h3.13v8.7h-3.13zM526.1 1315.5h3.13v4.3h-3.13zM526.1 1602.0h3.13v4.3h-3.13zM526.1 1741.0h3.13v8.7h-3.13zM529.2 1309.2h3.13v7.0h-3.13zM532.4 1403.2h3.13v8.7h-3.13zM535.5 1405.4h3.13v4.3h-3.13zM535.5 1470.6h3.13v4.3h-3.13zM535.5 1505.3h3.13v8.7h-3.13zM535.5 1635.6h3.13v4.3h-3.13zM541.8 1673.1h3.13v4.3h-3.13zM541.8 1786.0h3.13v8.7h-3.13zM541.8 1794.7h3.13v8.7h-3.13zM544.9 1324.2h3.13v8.7h-3.13zM544.9 1510.9h3.13v4.3h-3.13zM544.9 1667.2h3.13v8.7h-3.13zM548.0 1465.8h3.13v8.7h-3.13zM548.0 1778.5h3.13v4.3h-3.13zM548.0 1791.5h3.13v8.7h-3.13zM551.1 1359.6h3.13v4.3h-3.13zM551.1 1533.3h3.13v8.7h-3.13zM551.1 1759.1h3.13v8.7h-3.13zM551.1 1854.6h3.13v4.3h-3.13zM554.3 1656.6h3.13v4.3h-3.13zM557.4 1644.7h3.13v8.7h-3.13zM560.5 1368.4h3.13v4.3h-3.13zM560.5 1663.7h3.13v8.7h-3.13zM566.8 1493.6h3.13v4.3h-3.13zM566.8 1528.3h3.13v4.3h-3.13zM569.9 1840.3h3.13v8.7h-3.13zM573.0 1434.2h3.13v8.7h-3.13zM573.0 1573.1h3.13v8.7h-3.13zM573.0 1864.0h3.13v1.0h-3.13zM576.2 1364.1h3.13v8.7h-3.13zM579.3 1347.7h3.13v8.7h-3.13zM579.3 1404.2h3.13v8.7h-3.13zM582.4 1424.6h3.13v4.3h-3.13zM582.4 1633.1h3.13v4.3h-3.13zM582.4 1663.5h3.13v8.7h-3.13zM588.7 1585.3h3.13v4.3h-3.13zM588.7 1776.4h3.13v8.7h-3.13zM591.8 1637.8h3.13v4.3h-3.13zM591.8 1768.1h3.13v8.7h-3.13zM594.9 1643.4h3.13v4.3h-3.13zM598.1 1556.7h3.13v8.7h-3.13zM598.1 1574.0h3.13v8.7h-3.13zM598.1 1825.9h3.13v4.3h-3.13zM598.1 1830.2h3.13v4.3h-3.13zM601.2 1776.9h3.13v8.7h-3.13zM601.2 1807.3h3.13v8.7h-3.13zM601.2 1829.0h3.13v8.7h-3.13zM604.3 1717.4h3.13v8.7h-3.13zM613.7 1340.7h3.13v8.7h-3.13zM613.7 1527.4h3.13v8.7h-3.13zM613.7 1722.8h3.13v8.7h-3.13zM613.7 1809.7h3.13v8.7h-3.13zM613.7 1822.7h3.13v8.7h-3.13zM616.8 1530.1h3.13v8.7h-3.13zM620.0 1373.2h3.13v4.3h-3.13zM620.0 1599.0h3.13v8.7h-3.13zM620.0 1837.8h3.13v8.7h-3.13zM623.1 1637.3h3.13v4.3h-3.13zM629.4 1316.4h3.13v8.7h-3.13zM629.4 1576.9h3.13v8.7h-3.13zM629.4 1694.1h3.13v4.3h-3.13zM632.5 1856.8h3.13v8.2h-3.13zM635.6 1361.9h3.13v4.3h-3.13zM638.8 1423.6h3.13v8.7h-3.13zM638.8 1484.4h3.13v4.3h-3.13zM638.8 1493.1h3.13v4.3h-3.13zM638.8 1497.4h3.13v4.3h-3.13zM648.1 1728.0h3.13v8.7h-3.13zM648.1 1758.4h3.13v4.3h-3.13zM654.4 1481.3h3.13v8.7h-3.13zM654.4 1607.2h3.13v8.7h-3.13zM654.4 1780.9h3.13v4.3h-3.13zM654.4 1785.2h3.13v8.7h-3.13zM654.4 1820.0h3.13v4.3h-3.13zM657.5 1343.0h3.13v8.7h-3.13zM657.5 1351.7h3.13v8.7h-3.13zM657.5 1508.0h3.13v4.3h-3.13zM660.7 1853.9h3.13v4.3h-3.13zM663.8 1476.2h3.13v8.7h-3.13zM663.8 1810.5h3.13v8.7h-3.13zM666.9 1666.1h3.13v4.3h-3.13zM666.9 1796.4h3.13v4.3h-3.13zM670.0 1833.9h3.13v8.7h-3.13zM673.2 1864.5h3.13v0.5h-3.13z" fill="#000" opacity="0.3"/><path d="M81.8 1421.0h3.13v13.0h-3.13zM81.8 1447.1h3.13v8.7h-3.13zM81.8 1481.8h3.13v26.1h-3.13zM81.8 1655.5h3.13v13.0h-3.13zM81.8 1677.2h3.13v8.7h-3.13zM81.8 1698.9h3.13v4.3h-3.13zM81.8 1703.2h3.13v4.3h-3.13zM81.8 1798.8h3.13v4.3h-3.13zM84.9 1414.5h3.13v26.1h-3.13zM84.9 1462.2h3.13v17.4h-3.13zM84.9 1497.0h3.13v4.3h-3.13zM84.9 1518.7h3.13v4.3h-3.13zM84.9 1527.4h3.13v4.3h-3.13zM84.9 1588.2h3.13v4.3h-3.13zM84.9 1657.6h3.13v4.3h-3.13zM84.9 1718.4h3.13v17.4h-3.13zM84.9 1779.2h3.13v26.1h-3.13zM84.9 1827.0h3.13v17.4h-3.13zM88.1 1357.1h3.13v8.7h-3.13zM88.1 1374.4h3.13v8.7h-3.13zM88.1 1383.1h3.13v8.7h-3.13zM88.1 1391.8h3.13v4.3h-3.13zM88.1 1396.1h3.13v4.3h-3.13zM88.1 1430.9h3.13v8.7h-3.13zM88.1 1526.4h3.13v17.4h-3.13zM88.1 1543.8h3.13v8.7h-3.13zM88.1 1674.0h3.13v8.7h-3.13zM88.1 1687.1h3.13v13.0h-3.13zM88.1 1782.6h3.13v4.3h-3.13zM88.1 1821.7h3.13v26.1h-3.13zM91.2 1323.0h3.13v26.1h-3.13zM91.2 1349.0h3.13v17.4h-3.13zM91.2 1444.6h3.13v8.7h-3.13zM91.2 1453.3h3.13v8.7h-3.13zM91.2 1531.4h3.13v26.1h-3.13zM91.2 1661.7h3.13v13.0h-3.13zM91.2 1683.4h3.13v8.7h-3.13zM91.2 1752.9h3.13v8.7h-3.13zM91.2 1761.6h3.13v4.3h-3.13zM91.2 1861.4h3.13v3.6h-3.13zM94.3 1333.0h3.13v4.3h-3.13zM94.3 1337.4h3.13v8.7h-3.13zM94.3 1359.1h3.13v8.7h-3.13zM94.3 1450.3h3.13v4.3h-3.13zM94.3 1454.6h3.13v8.7h-3.13zM94.3 1463.3h3.13v8.7h-3.13zM94.3 1472.0h3.13v8.7h-3.13zM94.3 1554.5h3.13v26.1h-3.13zM94.3 1610.9h3.13v4.3h-3.13zM94.3 1650.0h3.13v4.3h-3.13zM94.3 1663.0h3.13v8.7h-3.13zM94.3 1671.7h3.13v13.0h-3.13zM97.4 1372.1h3.13v13.0h-3.13zM97.4 1498.0h3.13v4.3h-3.13zM97.4 1506.7h3.13v13.0h-3.13zM97.4 1610.9h3.13v4.3h-3.13zM97.4 1654.3h3.13v8.7h-3.13zM97.4 1689.1h3.13v4.3h-3.13zM97.4 1762.9h3.13v8.7h-3.13zM97.4 1784.6h3.13v4.3h-3.13zM97.4 1802.0h3.13v26.1h-3.13zM97.4 1845.4h3.13v8.7h-3.13zM100.6 1309.2h3.13v0.3h-3.13zM100.6 1405.0h3.13v8.7h-3.13zM100.6 1413.7h3.13v8.7h-3.13zM100.6 1522.2h3.13v4.3h-3.13zM100.6 1561.3h3.13v8.7h-3.13zM100.6 1622.1h3.13v26.1h-3.13zM100.6 1656.8h3.13v4.3h-3.13zM100.6 1691.6h3.13v4.3h-3.13zM100.6 1713.3h3.13v8.7h-3.13zM100.6 1774.1h3.13v8.7h-3.13zM100.6 1782.8h3.13v4.3h-3.13zM100.6 1856.6h3.13v8.4h-3.13zM103.7 1327.5h3.13v4.3h-3.13zM103.7 1344.8h3.13v8.7h-3.13zM103.7 1475.1h3.13v13.0h-3.13zM103.7 1488.1h3.13v8.7h-3.13zM103.7 1496.8h3.13v26.1h-3.13zM103.7 1605.4h3.13v13.0h-3.13zM103.7 1648.8h3.13v8.7h-3.13zM103.7 1700.9h3.13v8.7h-3.13zM103.7 1709.6h3.13v26.1h-3.13zM103.7 1735.6h3.13v8.7h-3.13zM103.7 1813.8h3.13v4.3h-3.13zM106.8 1327.4h3.13v17.4h-3.13zM106.8 1349.2h3.13v4.3h-3.13zM106.8 1370.9h3.13v17.4h-3.13zM106.8 1566.3h3.13v4.3h-3.13zM106.8 1570.6h3.13v4.3h-3.13zM106.8 1579.3h3.13v17.4h-3.13zM106.8 1700.9h3.13v26.1h-3.13zM106.8 1774.7h3.13v8.7h-3.13zM106.8 1809.4h3.13v26.1h-3.13zM110.0 1314.4h3.13v8.7h-3.13zM110.0 1362.2h3.13v4.3h-3.13zM110.0 1366.5h3.13v8.7h-3.13zM110.0 1383.9h3.13v4.3h-3.13zM110.0 1414.3h3.13v4.3h-3.13zM110.0 1444.7h3.13v4.3h-3.13zM110.0 1492.5h3.13v13.0h-3.13zM110.0 1531.5h3.13v13.0h-3.13zM110.0 1779.0h3.13v8.7h-3.13zM110.0 1857.2h3.13v7.8h-3.13zM113.1 1309.2h3.13v21.1h-3.13zM113.1 1330.3h3.13v13.0h-3.13zM113.1 1343.4h3.13v8.7h-3.13zM113.1 1356.4h3.13v8.7h-3.13zM113.1 1430.2h3.13v4.3h-3.13zM113.1 1603.9h3.13v4.3h-3.13zM113.1 1616.9h3.13v4.3h-3.13zM113.1 1621.3h3.13v17.4h-3.13zM113.1 1725.5h3.13v4.3h-3.13zM113.1 1768.9h3.13v4.3h-3.13zM113.1 1851.4h3.13v13.6h-3.13zM116.2 1309.2h3.13v3.1h-3.13zM116.2 1338.4h3.13v17.4h-3.13zM116.2 1355.7h3.13v8.7h-3.13zM116.2 1581.5h3.13v17.4h-3.13zM116.2 1677.1h3.13v4.3h-3.13zM116.2 1698.8h3.13v8.7h-3.13zM116.2 1746.5h3.13v4.3h-3.13zM116.2 1750.9h3.13v4.3h-3.13zM116.2 1768.2h3.13v17.4h-3.13zM119.3 1493.8h3.13v17.4h-3.13zM119.3 1571.9h3.13v13.0h-3.13zM119.3 1584.9h3.13v4.3h-3.13zM119.3 1641.4h3.13v8.7h-3.13zM119.3 1680.5h3.13v4.3h-3.13zM119.3 1719.6h3.13v8.7h-3.13zM119.3 1741.3h3.13v17.4h-3.13zM122.5 1449.6h3.13v13.0h-3.13zM122.5 1493.0h3.13v17.4h-3.13zM122.5 1588.6h3.13v17.4h-3.13zM122.5 1610.3h3.13v26.1h-3.13zM122.5 1679.7h3.13v4.3h-3.13zM122.5 1684.1h3.13v17.4h-3.13zM122.5 1753.6h3.13v8.7h-3.13zM122.5 1762.3h3.13v4.3h-3.13zM122.5 1770.9h3.13v4.3h-3.13zM122.5 1805.7h3.13v4.3h-3.13zM122.5 1831.7h3.13v13.0h-3.13zM125.6 1328.1h3.13v8.7h-3.13zM125.6 1349.8h3.13v4.3h-3.13zM125.6 1371.5h3.13v4.3h-3.13zM125.6 1458.4h3.13v13.0h-3.13zM125.6 1471.4h3.13v4.3h-3.13zM125.6 1627.7h3.13v8.7h-3.13zM125.6 1705.9h3.13v8.7h-3.13zM125.6 1736.3h3.13v4.3h-3.13zM125.6 1801.4h3.13v4.3h-3.13zM125.6 1805.8h3.13v8.7h-3.13zM128.7 1309.2h3.13v2.1h-3.13zM128.7 1333.0h3.13v8.7h-3.13zM128.7 1393.8h3.13v8.7h-3.13zM128.7 1415.5h3.13v8.7h-3.13zM128.7 1571.8h3.13v8.7h-3.13zM128.7 1650.0h3.13v4.3h-3.13zM128.7 1723.8h3.13v4.3h-3.13zM128.7 1728.1h3.13v26.1h-3.13zM128.7 1802.0h3.13v8.7h-3.13zM128.7 1819.3h3.13v26.1h-3.13zM128.7 1858.4h3.13v6.6h-3.13zM131.9 1354.6h3.13v26.1h-3.13zM131.9 1398.1h3.13v8.7h-3.13zM131.9 1515.3h3.13v13.0h-3.13zM131.9 1563.1h3.13v8.7h-3.13zM131.9 1684.6h3.13v8.7h-3.13zM131.9 1693.3h3.13v8.7h-3.13zM131.9 1710.7h3.13v8.7h-3.13zM131.9 1728.1h3.13v4.3h-3.13zM131.9 1762.8h3.13v8.7h-3.13zM131.9 1832.3h3.13v8.7h-3.13zM135.0 1314.0h3.13v8.7h-3.13zM135.0 1453.0h3.13v4.3h-3.13zM135.0 1496.4h3.13v4.3h-3.13zM135.0 1613.6h3.13v26.1h-3.13zM135.0 1787.3h3.13v4.3h-3.13zM135.0 1822.1h3.13v4.3h-3.13zM138.1 1379.2h3.13v17.4h-3.13zM138.1 1409.6h3.13v17.4h-3.13zM138.1 1539.8h3.13v4.3h-3.13zM138.1 1552.9h3.13v8.7h-3.13zM138.1 1670.1h3.13v4.3h-3.13zM138.1 1683.1h3.13v4.3h-3.13zM138.1 1748.3h3.13v4.3h-3.13zM138.1 1796.0h3.13v4.3h-3.13zM138.1 1800.4h3.13v4.3h-3.13zM141.2 1340.8h3.13v13.0h-3.13zM141.2 1753.3h3.13v8.7h-3.13zM141.2 1766.3h3.13v26.1h-3.13zM144.4 1331.7h3.13v8.7h-3.13zM144.4 1414.2h3.13v8.7h-3.13zM144.4 1427.3h3.13v4.3h-3.13zM144.4 1466.3h3.13v26.1h-3.13zM144.4 1548.8h3.13v4.3h-3.13zM144.4 1787.7h3.13v8.7h-3.13zM147.5 1432.5h3.13v13.0h-3.13zM147.5 1606.2h3.13v8.7h-3.13zM147.5 1740.8h3.13v4.3h-3.13zM147.5 1775.6h3.13v4.3h-3.13zM147.5 1832.0h3.13v4.3h-3.13zM150.6 1343.2h3.13v8.7h-3.13zM150.6 1438.7h3.13v4.3h-3.13zM150.6 1469.1h3.13v13.0h-3.13zM150.6 1512.5h3.13v26.1h-3.13zM150.6 1538.6h3.13v26.1h-3.13zM150.6 1616.7h3.13v4.3h-3.13zM150.6 1703.6h3.13v4.3h-3.13zM150.6 1786.1h3.13v17.4h-3.13zM150.6 1825.2h3.13v4.3h-3.13zM150.6 1829.5h3.13v8.7h-3.13zM153.8 1326.2h3.13v8.7h-3.13zM153.8 1508.5h3.13v4.3h-3.13zM153.8 1582.4h3.13v4.3h-3.13zM153.8 1643.2h3.13v4.3h-3.13zM153.8 1647.5h3.13v13.0h-3.13zM153.8 1660.5h3.13v26.1h-3.13zM153.8 1756.0h3.13v4.3h-3.13zM153.8 1799.5h3.13v17.4h-3.13zM153.8 1829.9h3.13v26.1h-3.13zM156.9 1309.2h3.13v0.0h-3.13zM156.9 1370.0h3.13v8.7h-3.13zM156.9 1478.5h3.13v8.7h-3.13zM156.9 1508.9h3.13v13.0h-3.13zM156.9 1643.5h3.13v17.4h-3.13zM156.9 1673.9h3.13v4.3h-3.13zM156.9 1734.7h3.13v8.7h-3.13zM156.9 1804.2h3.13v8.7h-3.13zM160.0 1311.8h3.13v17.4h-3.13zM160.0 1420.4h3.13v4.3h-3.13zM160.0 1429.0h3.13v8.7h-3.13zM160.0 1572.3h3.13v8.7h-3.13zM160.0 1581.0h3.13v8.7h-3.13zM160.0 1624.4h3.13v26.1h-3.13zM160.0 1659.2h3.13v8.7h-3.13zM160.0 1763.4h3.13v17.4h-3.13zM160.0 1811.2h3.13v13.0h-3.13zM160.0 1854.6h3.13v8.7h-3.13zM163.2 1453.5h3.13v26.1h-3.13zM163.2 1488.3h3.13v13.0h-3.13zM163.2 1596.8h3.13v8.7h-3.13zM163.2 1605.5h3.13v4.3h-3.13zM163.2 1609.9h3.13v8.7h-3.13zM163.2 1822.6h3.13v26.1h-3.13zM163.2 1857.4h3.13v7.6h-3.13zM166.3 1309.2h3.13v24.6h-3.13zM166.3 1333.8h3.13v8.7h-3.13zM166.3 1359.8h3.13v4.3h-3.13zM166.3 1390.2h3.13v8.7h-3.13zM166.3 1424.9h3.13v8.7h-3.13zM166.3 1468.4h3.13v8.7h-3.13zM166.3 1507.4h3.13v13.0h-3.13zM166.3 1529.1h3.13v4.3h-3.13zM166.3 1616.0h3.13v4.3h-3.13zM166.3 1850.5h3.13v4.3h-3.13zM166.3 1859.2h3.13v4.3h-3.13zM166.3 1863.5h3.13v1.5h-3.13zM169.4 1355.1h3.13v4.3h-3.13zM169.4 1411.6h3.13v8.7h-3.13zM169.4 1433.3h3.13v4.3h-3.13zM169.4 1450.7h3.13v8.7h-3.13zM169.4 1498.4h3.13v8.7h-3.13zM169.4 1607.0h3.13v4.3h-3.13zM169.4 1637.4h3.13v17.4h-3.13zM169.4 1667.8h3.13v8.7h-3.13zM169.4 1711.2h3.13v4.3h-3.13zM169.4 1767.7h3.13v4.3h-3.13zM169.4 1772.0h3.13v8.7h-3.13zM169.4 1798.0h3.13v4.3h-3.13zM169.4 1819.8h3.13v8.7h-3.13zM169.4 1828.4h3.13v4.3h-3.13zM169.4 1850.2h3.13v8.7h-3.13zM172.5 1322.5h3.13v8.7h-3.13zM172.5 1418.1h3.13v13.0h-3.13zM172.5 1491.9h3.13v8.7h-3.13zM172.5 1531.0h3.13v4.3h-3.13zM172.5 1539.7h3.13v4.3h-3.13zM172.5 1544.0h3.13v4.3h-3.13zM172.5 1552.7h3.13v4.3h-3.13zM172.5 1557.0h3.13v8.7h-3.13zM172.5 1635.2h3.13v4.3h-3.13zM172.5 1656.9h3.13v8.7h-3.13zM172.5 1817.6h3.13v8.7h-3.13zM172.5 1826.2h3.13v17.4h-3.13zM172.5 1856.6h3.13v8.4h-3.13zM175.7 1348.1h3.13v8.7h-3.13zM175.7 1413.3h3.13v4.3h-3.13zM175.7 1530.5h3.13v8.7h-3.13zM175.7 1560.9h3.13v4.3h-3.13zM175.7 1565.2h3.13v26.1h-3.13zM175.7 1595.6h3.13v17.4h-3.13zM175.7 1621.7h3.13v17.4h-3.13zM175.7 1656.4h3.13v4.3h-3.13zM175.7 1834.4h3.13v8.7h-3.13zM178.8 1331.1h3.13v13.0h-3.13zM178.8 1530.8h3.13v17.4h-3.13zM178.8 1635.0h3.13v8.7h-3.13zM178.8 1656.8h3.13v8.7h-3.13zM178.8 1734.9h3.13v4.3h-3.13zM178.8 1739.3h3.13v8.7h-3.13zM178.8 1769.7h3.13v4.3h-3.13zM178.8 1843.5h3.13v4.3h-3.13zM181.9 1453.2h3.13v17.4h-3.13zM181.9 1474.9h3.13v26.1h-3.13zM181.9 1553.1h3.13v26.1h-3.13zM181.9 1635.6h3.13v8.7h-3.13zM181.9 1644.3h3.13v17.4h-3.13zM181.9 1696.4h3.13v8.7h-3.13zM185.1 1422.1h3.13v8.7h-3.13zM185.1 1461.2h3.13v13.0h-3.13zM185.1 1608.8h3.13v4.3h-3.13zM185.1 1739.1h3.13v17.4h-3.13zM185.1 1847.7h3.13v8.7h-3.13zM188.2 1324.5h3.13v8.7h-3.13zM188.2 1333.2h3.13v17.4h-3.13zM188.2 1376.6h3.13v8.7h-3.13zM188.2 1393.9h3.13v4.3h-3.13zM188.2 1402.6h3.13v8.7h-3.13zM188.2 1411.3h3.13v26.1h-3.13zM188.2 1502.5h3.13v8.7h-3.13zM188.2 1519.9h3.13v8.7h-3.13zM188.2 1589.3h3.13v8.7h-3.13zM188.2 1598.0h3.13v4.3h-3.13zM188.2 1619.7h3.13v4.3h-3.13zM188.2 1641.5h3.13v17.4h-3.13zM188.2 1767.4h3.13v8.7h-3.13zM188.2 1836.8h3.13v4.3h-3.13zM188.2 1841.2h3.13v4.3h-3.13zM188.2 1845.5h3.13v13.0h-3.13zM191.3 1334.2h3.13v26.1h-3.13zM191.3 1395.0h3.13v17.4h-3.13zM191.3 1412.4h3.13v4.3h-3.13zM191.3 1547.0h3.13v17.4h-3.13zM191.3 1573.1h3.13v8.7h-3.13zM191.3 1581.7h3.13v8.7h-3.13zM191.3 1590.4h3.13v26.1h-3.13zM191.3 1625.2h3.13v13.0h-3.13zM191.3 1642.5h3.13v17.4h-3.13zM191.3 1668.6h3.13v4.3h-3.13zM191.3 1699.0h3.13v8.7h-3.13zM191.3 1729.4h3.13v17.4h-3.13zM191.3 1746.7h3.13v13.0h-3.13zM191.3 1759.8h3.13v4.3h-3.13zM191.3 1764.1h3.13v8.7h-3.13zM191.3 1772.8h3.13v4.3h-3.13zM191.3 1833.6h3.13v4.3h-3.13zM194.4 1484.9h3.13v4.3h-3.13zM194.4 1489.2h3.13v4.3h-3.13zM194.4 1558.7h3.13v4.3h-3.13zM194.4 1623.8h3.13v4.3h-3.13zM194.4 1775.8h3.13v17.4h-3.13zM194.4 1793.2h3.13v8.7h-3.13zM194.4 1819.2h3.13v8.7h-3.13zM194.4 1827.9h3.13v8.7h-3.13zM194.4 1836.6h3.13v8.7h-3.13zM194.4 1862.6h3.13v2.4h-3.13zM197.6 1309.2h3.13v8.3h-3.13zM197.6 1356.6h3.13v8.7h-3.13zM197.6 1365.3h3.13v4.3h-3.13zM197.6 1382.7h3.13v26.1h-3.13zM197.6 1717.0h3.13v8.7h-3.13zM197.6 1725.7h3.13v4.3h-3.13zM197.6 1821.2h3.13v8.7h-3.13zM200.7 1374.1h3.13v13.0h-3.13zM200.7 1452.3h3.13v13.0h-3.13zM200.7 1491.4h3.13v13.0h-3.13zM200.7 1608.6h3.13v4.3h-3.13zM200.7 1639.0h3.13v4.3h-3.13zM200.7 1660.7h3.13v8.7h-3.13zM200.7 1669.4h3.13v4.3h-3.13zM200.7 1699.8h3.13v4.3h-3.13zM200.7 1704.1h3.13v13.0h-3.13zM200.7 1760.6h3.13v4.3h-3.13zM203.8 1458.9h3.13v8.7h-3.13zM203.8 1467.6h3.13v8.7h-3.13zM203.8 1489.3h3.13v8.7h-3.13zM203.8 1511.0h3.13v17.4h-3.13zM203.8 1545.7h3.13v13.0h-3.13zM203.8 1745.5h3.13v8.7h-3.13zM207.0 1354.0h3.13v26.1h-3.13zM207.0 1406.1h3.13v4.3h-3.13zM207.0 1514.7h3.13v8.7h-3.13zM207.0 1592.8h3.13v4.3h-3.13zM207.0 1610.2h3.13v4.3h-3.13zM207.0 1692.7h3.13v17.4h-3.13zM207.0 1740.5h3.13v8.7h-3.13zM207.0 1823.0h3.13v8.7h-3.13zM207.0 1831.7h3.13v17.4h-3.13zM210.1 1359.7h3.13v13.0h-3.13zM210.1 1450.9h3.13v17.4h-3.13zM210.1 1498.6h3.13v4.3h-3.13zM210.1 1520.3h3.13v4.3h-3.13zM210.1 1546.4h3.13v4.3h-3.13zM210.1 1637.6h3.13v8.7h-3.13zM210.1 1654.9h3.13v4.3h-3.13zM213.2 1335.0h3.13v4.3h-3.13zM213.2 1426.2h3.13v13.0h-3.13zM213.2 1586.9h3.13v4.3h-3.13zM213.2 1591.2h3.13v17.4h-3.13zM213.2 1621.6h3.13v4.3h-3.13zM213.2 1691.1h3.13v4.3h-3.13zM213.2 1834.4h3.13v17.4h-3.13zM216.3 1309.2h3.13v1.7h-3.13zM216.3 1310.9h3.13v4.3h-3.13zM216.3 1345.6h3.13v13.0h-3.13zM216.3 1367.3h3.13v4.3h-3.13zM216.3 1410.7h3.13v8.7h-3.13zM216.3 1480.2h3.13v17.4h-3.13zM216.3 1506.3h3.13v17.4h-3.13zM216.3 1567.1h3.13v26.1h-3.13zM216.3 1601.8h3.13v4.3h-3.13zM216.3 1658.2h3.13v4.3h-3.13zM216.3 1801.5h3.13v8.7h-3.13zM219.5 1381.6h3.13v13.0h-3.13zM219.5 1403.3h3.13v17.4h-3.13zM219.5 1429.3h3.13v17.4h-3.13zM219.5 1494.5h3.13v8.7h-3.13zM219.5 1503.1h3.13v26.1h-3.13zM219.5 1603.0h3.13v8.7h-3.13zM219.5 1611.7h3.13v13.0h-3.13zM219.5 1624.7h3.13v26.1h-3.13zM219.5 1650.8h3.13v8.7h-3.13zM219.5 1824.5h3.13v4.3h-3.13zM222.6 1622.5h3.13v17.4h-3.13zM222.6 1700.7h3.13v8.7h-3.13zM222.6 1731.1h3.13v13.0h-3.13zM222.6 1826.6h3.13v8.7h-3.13zM225.7 1378.2h3.13v8.7h-3.13zM225.7 1412.9h3.13v8.7h-3.13zM225.7 1421.6h3.13v8.7h-3.13zM225.7 1430.3h3.13v8.7h-3.13zM225.7 1439.0h3.13v4.3h-3.13zM225.7 1465.0h3.13v26.1h-3.13zM225.7 1491.1h3.13v4.3h-3.13zM225.7 1521.5h3.13v8.7h-3.13zM225.7 1612.7h3.13v8.7h-3.13zM225.7 1673.5h3.13v13.0h-3.13zM225.7 1686.5h3.13v4.3h-3.13zM225.7 1695.2h3.13v26.1h-3.13zM228.9 1309.2h3.13v0.4h-3.13zM228.9 1387.8h3.13v4.3h-3.13zM228.9 1405.1h3.13v4.3h-3.13zM228.9 1422.5h3.13v4.3h-3.13zM228.9 1448.6h3.13v4.3h-3.13zM228.9 1474.6h3.13v26.1h-3.13zM228.9 1565.8h3.13v4.3h-3.13zM228.9 1578.8h3.13v4.3h-3.13zM228.9 1730.8h3.13v13.0h-3.13zM228.9 1743.8h3.13v17.4h-3.13zM228.9 1795.9h3.13v8.7h-3.13zM232.0 1367.8h3.13v8.7h-3.13zM232.0 1389.5h3.13v13.0h-3.13zM232.0 1415.6h3.13v4.3h-3.13zM232.0 1445.9h3.13v4.3h-3.13zM232.0 1541.5h3.13v4.3h-3.13zM232.0 1554.5h3.13v17.4h-3.13zM232.0 1597.9h3.13v4.3h-3.13zM232.0 1637.0h3.13v13.0h-3.13zM232.0 1706.5h3.13v26.1h-3.13zM232.0 1806.3h3.13v13.0h-3.13zM232.0 1849.8h3.13v8.7h-3.13zM235.1 1330.0h3.13v4.3h-3.13zM235.1 1377.8h3.13v4.3h-3.13zM235.1 1473.3h3.13v8.7h-3.13zM235.1 1529.7h3.13v4.3h-3.13zM235.1 1577.5h3.13v4.3h-3.13zM235.1 1599.2h3.13v4.3h-3.13zM235.1 1716.4h3.13v4.3h-3.13zM235.1 1725.1h3.13v4.3h-3.13zM235.1 1738.2h3.13v8.7h-3.13zM235.1 1790.3h3.13v4.3h-3.13zM235.1 1794.6h3.13v26.1h-3.13zM235.1 1820.7h3.13v13.0h-3.13zM235.1 1859.7h3.13v4.3h-3.13zM238.2 1368.1h3.13v4.3h-3.13zM238.2 1511.4h3.13v8.7h-3.13zM238.2 1615.6h3.13v8.7h-3.13zM238.2 1650.3h3.13v8.7h-3.13zM238.2 1672.0h3.13v17.4h-3.13zM238.2 1732.8h3.13v26.1h-3.13zM238.2 1758.9h3.13v13.0h-3.13zM238.2 1850.1h3.13v14.9h-3.13zM241.4 1309.2h3.13v16.6h-3.13zM241.4 1325.8h3.13v17.4h-3.13zM241.4 1356.2h3.13v8.7h-3.13zM241.4 1395.3h3.13v26.1h-3.13zM241.4 1447.4h3.13v26.1h-3.13zM241.4 1495.2h3.13v4.3h-3.13zM241.4 1521.2h3.13v4.3h-3.13zM241.4 1534.2h3.13v26.1h-3.13zM241.4 1616.7h3.13v13.0h-3.13zM241.4 1655.8h3.13v8.7h-3.13zM244.5 1319.3h3.13v13.0h-3.13zM244.5 1362.7h3.13v17.4h-3.13zM244.5 1419.2h3.13v17.4h-3.13zM244.5 1449.6h3.13v26.1h-3.13zM244.5 1484.3h3.13v17.4h-3.13zM244.5 1553.8h3.13v17.4h-3.13zM244.5 1597.2h3.13v4.3h-3.13zM244.5 1662.3h3.13v13.0h-3.13zM244.5 1714.5h3.13v4.3h-3.13zM244.5 1718.8h3.13v13.0h-3.13zM244.5 1779.6h3.13v13.0h-3.13zM244.5 1810.0h3.13v13.0h-3.13zM244.5 1823.0h3.13v4.3h-3.13zM244.5 1827.4h3.13v8.7h-3.13zM247.6 1370.0h3.13v4.3h-3.13zM247.6 1430.8h3.13v26.1h-3.13zM247.6 1517.7h3.13v4.3h-3.13zM247.6 1556.8h3.13v8.7h-3.13zM247.6 1669.7h3.13v26.1h-3.13zM247.6 1704.4h3.13v26.1h-3.13zM247.6 1782.6h3.13v8.7h-3.13zM247.6 1826.0h3.13v8.7h-3.13zM250.8 1339.5h3.13v13.0h-3.13zM250.8 1352.5h3.13v26.1h-3.13zM250.8 1474.1h3.13v13.0h-3.13zM250.8 1600.0h3.13v26.1h-3.13zM250.8 1682.5h3.13v17.4h-3.13zM250.8 1834.5h3.13v13.0h-3.13zM253.9 1412.0h3.13v17.4h-3.13zM253.9 1503.2h3.13v4.3h-3.13zM253.9 1520.6h3.13v8.7h-3.13zM253.9 1529.3h3.13v26.1h-3.13zM253.9 1564.0h3.13v4.3h-3.13zM253.9 1572.7h3.13v17.4h-3.13zM253.9 1590.1h3.13v8.7h-3.13zM253.9 1616.1h3.13v4.3h-3.13zM253.9 1633.5h3.13v4.3h-3.13zM253.9 1637.8h3.13v4.3h-3.13zM253.9 1676.9h3.13v26.1h-3.13zM253.9 1746.4h3.13v4.3h-3.13zM253.9 1772.4h3.13v8.7h-3.13zM253.9 1854.9h3.13v10.1h-3.13zM257.0 1375.5h3.13v8.7h-3.13zM257.0 1418.9h3.13v8.7h-3.13zM257.0 1427.6h3.13v8.7h-3.13zM257.0 1471.0h3.13v26.1h-3.13zM257.0 1544.8h3.13v8.7h-3.13zM257.0 1605.6h3.13v4.3h-3.13zM257.0 1623.0h3.13v4.3h-3.13zM257.0 1636.0h3.13v13.0h-3.13zM257.0 1701.1h3.13v8.7h-3.13zM257.0 1818.4h3.13v8.7h-3.13zM260.1 1448.3h3.13v8.7h-3.13zM260.1 1483.0h3.13v17.4h-3.13zM260.1 1526.4h3.13v4.3h-3.13zM260.1 1539.5h3.13v13.0h-3.13zM260.1 1565.5h3.13v17.4h-3.13zM260.1 1630.7h3.13v4.3h-3.13zM260.1 1643.7h3.13v8.7h-3.13zM260.1 1717.5h3.13v4.3h-3.13zM260.1 1756.6h3.13v4.3h-3.13zM260.1 1808.7h3.13v8.7h-3.13zM260.1 1852.1h3.13v8.7h-3.13zM263.3 1345.3h3.13v4.3h-3.13zM263.3 1380.1h3.13v26.1h-3.13zM263.3 1466.9h3.13v8.7h-3.13zM263.3 1480.0h3.13v8.7h-3.13zM263.3 1584.2h3.13v4.3h-3.13zM263.3 1597.2h3.13v8.7h-3.13zM263.3 1631.9h3.13v4.3h-3.13zM263.3 1666.7h3.13v26.1h-3.13zM263.3 1692.7h3.13v4.3h-3.13zM263.3 1814.3h3.13v8.7h-3.13zM263.3 1849.0h3.13v4.3h-3.13zM266.4 1309.2h3.13v0.3h-3.13zM266.4 1344.3h3.13v4.3h-3.13zM266.4 1474.6h3.13v4.3h-3.13zM266.4 1483.2h3.13v8.7h-3.13zM266.4 1504.9h3.13v26.1h-3.13zM266.4 1683.0h3.13v4.3h-3.13zM266.4 1696.0h3.13v4.3h-3.13zM266.4 1709.0h3.13v8.7h-3.13zM266.4 1752.5h3.13v4.3h-3.13zM266.4 1765.5h3.13v8.7h-3.13zM266.4 1795.9h3.13v17.4h-3.13zM266.4 1835.0h3.13v4.3h-3.13zM269.5 1409.6h3.13v8.7h-3.13zM269.5 1544.2h3.13v8.7h-3.13zM269.5 1561.6h3.13v13.0h-3.13zM269.5 1579.0h3.13v26.1h-3.13zM269.5 1648.5h3.13v17.4h-3.13zM269.5 1700.6h3.13v8.7h-3.13zM269.5 1748.3h3.13v4.3h-3.13zM269.5 1752.7h3.13v26.1h-3.13zM269.5 1822.1h3.13v4.3h-3.13zM272.7 1309.2h3.13v1.2h-3.13zM272.7 1314.7h3.13v13.0h-3.13zM272.7 1462.4h3.13v8.7h-3.13zM272.7 1518.8h3.13v8.7h-3.13zM272.7 1636.0h3.13v17.4h-3.13zM272.7 1666.4h3.13v8.7h-3.13zM272.7 1701.2h3.13v13.0h-3.13zM272.7 1722.9h3.13v8.7h-3.13zM272.7 1766.3h3.13v4.3h-3.13zM272.7 1796.7h3.13v4.3h-3.13zM272.7 1827.1h3.13v4.3h-3.13zM272.7 1831.4h3.13v26.1h-3.13zM275.8 1327.3h3.13v17.4h-3.13zM275.8 1388.0h3.13v4.3h-3.13zM275.8 1418.4h3.13v13.0h-3.13zM275.8 1431.5h3.13v26.1h-3.13zM275.8 1514.0h3.13v4.3h-3.13zM278.9 1344.5h3.13v4.3h-3.13zM278.9 1361.9h3.13v4.3h-3.13zM278.9 1383.6h3.13v4.3h-3.13zM278.9 1388.0h3.13v13.0h-3.13zM278.9 1401.0h3.13v8.7h-3.13zM278.9 1431.4h3.13v8.7h-3.13zM278.9 1440.1h3.13v17.4h-3.13zM278.9 1457.4h3.13v4.3h-3.13zM278.9 1461.8h3.13v17.4h-3.13zM278.9 1509.5h3.13v8.7h-3.13zM278.9 1605.1h3.13v26.1h-3.13zM278.9 1644.2h3.13v8.7h-3.13zM278.9 1726.7h3.13v8.7h-3.13zM278.9 1757.1h3.13v4.3h-3.13zM278.9 1774.4h3.13v8.7h-3.13zM282.1 1428.4h3.13v8.7h-3.13zM282.1 1458.8h3.13v8.7h-3.13zM282.1 1567.4h3.13v8.7h-3.13zM282.1 1580.4h3.13v8.7h-3.13zM282.1 1597.8h3.13v4.3h-3.13zM282.1 1606.4h3.13v4.3h-3.13zM282.1 1658.6h3.13v4.3h-3.13zM282.1 1793.2h3.13v26.1h-3.13zM282.1 1819.2h3.13v4.3h-3.13zM282.1 1849.6h3.13v15.4h-3.13zM285.2 1318.6h3.13v8.7h-3.13zM285.2 1327.3h3.13v17.4h-3.13zM285.2 1349.0h3.13v17.4h-3.13zM285.2 1366.4h3.13v26.1h-3.13zM285.2 1548.7h3.13v13.0h-3.13zM285.2 1566.1h3.13v26.1h-3.13zM285.2 1705.0h3.13v13.0h-3.13zM285.2 1718.1h3.13v4.3h-3.13zM285.2 1739.8h3.13v26.1h-3.13zM285.2 1857.0h3.13v8.0h-3.13zM288.3 1309.2h3.13v0.2h-3.13zM288.3 1326.7h3.13v8.7h-3.13zM288.3 1365.8h3.13v4.3h-3.13zM288.3 1387.5h3.13v4.3h-3.13zM288.3 1409.2h3.13v13.0h-3.13zM288.3 1422.3h3.13v8.7h-3.13zM288.3 1431.0h3.13v8.7h-3.13zM288.3 1487.4h3.13v8.7h-3.13zM288.3 1496.1h3.13v17.4h-3.13zM288.3 1543.9h3.13v8.7h-3.13zM288.3 1569.9h3.13v8.7h-3.13zM288.3 1656.8h3.13v8.7h-3.13zM288.3 1669.8h3.13v17.4h-3.13zM288.3 1756.6h3.13v8.7h-3.13zM288.3 1813.1h3.13v8.7h-3.13zM288.3 1839.1h3.13v25.9h-3.13zM291.4 1338.4h3.13v8.7h-3.13zM291.4 1381.9h3.13v8.7h-3.13zM291.4 1390.5h3.13v8.7h-3.13zM291.4 1616.3h3.13v4.3h-3.13zM291.4 1638.0h3.13v8.7h-3.13zM291.4 1742.3h3.13v8.7h-3.13zM291.4 1781.3h3.13v17.4h-3.13zM291.4 1829.1h3.13v4.3h-3.13zM294.6 1376.9h3.13v8.7h-3.13zM294.6 1494.2h3.13v4.3h-3.13zM294.6 1524.6h3.13v8.7h-3.13zM294.6 1585.4h3.13v26.1h-3.13zM294.6 1663.5h3.13v4.3h-3.13zM294.6 1698.3h3.13v8.7h-3.13zM294.6 1767.7h3.13v8.7h-3.13zM294.6 1776.4h3.13v26.1h-3.13zM294.6 1806.8h3.13v8.7h-3.13zM297.7 1411.6h3.13v26.1h-3.13zM297.7 1602.7h3.13v4.3h-3.13zM297.7 1628.8h3.13v8.7h-3.13zM297.7 1637.4h3.13v17.4h-3.13zM297.7 1676.5h3.13v4.3h-3.13zM297.7 1706.9h3.13v8.7h-3.13zM297.7 1715.6h3.13v8.7h-3.13zM300.8 1357.5h3.13v8.7h-3.13zM300.8 1435.7h3.13v8.7h-3.13zM300.8 1448.7h3.13v8.7h-3.13zM300.8 1457.4h3.13v17.4h-3.13zM300.8 1531.2h3.13v4.3h-3.13zM300.8 1626.7h3.13v8.7h-3.13zM300.8 1635.4h3.13v8.7h-3.13zM300.8 1835.1h3.13v8.7h-3.13zM304.0 1309.2h3.13v0.6h-3.13zM304.0 1309.8h3.13v8.7h-3.13zM304.0 1344.5h3.13v8.7h-3.13zM304.0 1414.0h3.13v4.3h-3.13zM304.0 1505.2h3.13v17.4h-3.13zM304.0 1592.0h3.13v8.7h-3.13zM304.0 1639.8h3.13v17.4h-3.13zM304.0 1674.5h3.13v17.4h-3.13zM304.0 1691.9h3.13v17.4h-3.13zM304.0 1709.3h3.13v13.0h-3.13zM304.0 1757.0h3.13v4.3h-3.13zM307.1 1372.7h3.13v4.3h-3.13zM307.1 1429.1h3.13v17.4h-3.13zM307.1 1446.5h3.13v8.7h-3.13zM307.1 1481.2h3.13v8.7h-3.13zM307.1 1520.3h3.13v4.3h-3.13zM307.1 1594.1h3.13v4.3h-3.13zM307.1 1607.2h3.13v26.1h-3.13zM307.1 1637.6h3.13v4.3h-3.13zM307.1 1694.0h3.13v4.3h-3.13zM307.1 1720.1h3.13v8.7h-3.13zM307.1 1785.2h3.13v8.7h-3.13zM307.1 1798.2h3.13v8.7h-3.13zM307.1 1837.3h3.13v4.3h-3.13zM310.2 1336.8h3.13v8.7h-3.13zM310.2 1419.4h3.13v13.0h-3.13zM310.2 1475.8h3.13v26.1h-3.13zM310.2 1527.9h3.13v17.4h-3.13zM310.2 1558.3h3.13v4.3h-3.13zM310.2 1606.1h3.13v8.7h-3.13zM310.2 1614.7h3.13v4.3h-3.13zM310.2 1705.9h3.13v4.3h-3.13zM310.2 1753.7h3.13v4.3h-3.13zM310.2 1779.8h3.13v8.7h-3.13zM313.3 1449.3h3.13v13.0h-3.13zM313.3 1462.3h3.13v4.3h-3.13zM313.3 1488.4h3.13v4.3h-3.13zM313.3 1501.4h3.13v17.4h-3.13zM313.3 1518.7h3.13v8.7h-3.13zM313.3 1527.4h3.13v8.7h-3.13zM313.3 1536.1h3.13v17.4h-3.13zM313.3 1553.5h3.13v17.4h-3.13zM313.3 1570.9h3.13v8.7h-3.13zM313.3 1592.6h3.13v26.1h-3.13zM313.3 1649.0h3.13v4.3h-3.13zM313.3 1679.4h3.13v4.3h-3.13zM313.3 1696.8h3.13v8.7h-3.13zM313.3 1809.7h3.13v17.4h-3.13zM313.3 1840.1h3.13v4.3h-3.13zM316.5 1309.2h3.13v7.8h-3.13zM316.5 1395.1h3.13v13.0h-3.13zM316.5 1434.2h3.13v4.3h-3.13zM316.5 1508.0h3.13v4.3h-3.13zM316.5 1568.8h3.13v8.7h-3.13zM316.5 1577.5h3.13v4.3h-3.13zM316.5 1590.5h3.13v4.3h-3.13zM316.5 1716.4h3.13v4.3h-3.13zM316.5 1755.5h3.13v8.7h-3.13zM316.5 1790.3h3.13v4.3h-3.13zM316.5 1846.7h3.13v4.3h-3.13zM319.6 1466.3h3.13v26.1h-3.13zM319.6 1635.7h3.13v26.1h-3.13zM319.6 1687.8h3.13v4.3h-3.13zM319.6 1718.2h3.13v13.0h-3.13zM319.6 1774.6h3.13v8.7h-3.13zM319.6 1792.0h3.13v13.0h-3.13zM319.6 1809.4h3.13v4.3h-3.13zM322.7 1386.6h3.13v8.7h-3.13zM322.7 1395.3h3.13v8.7h-3.13zM322.7 1421.4h3.13v13.0h-3.13zM322.7 1508.2h3.13v13.0h-3.13zM322.7 1529.9h3.13v8.7h-3.13zM322.7 1660.2h3.13v4.3h-3.13zM322.7 1668.9h3.13v4.3h-3.13zM322.7 1712.3h3.13v4.3h-3.13zM322.7 1760.1h3.13v17.4h-3.13zM322.7 1781.8h3.13v17.4h-3.13zM322.7 1807.8h3.13v13.0h-3.13zM322.7 1859.9h3.13v5.1h-3.13zM325.9 1427.2h3.13v4.3h-3.13zM325.9 1492.3h3.13v26.1h-3.13zM325.9 1535.7h3.13v8.7h-3.13zM325.9 1618.2h3.13v8.7h-3.13zM325.9 1674.7h3.13v26.1h-3.13zM325.9 1700.7h3.13v8.7h-3.13zM325.9 1718.1h3.13v4.3h-3.13zM325.9 1800.6h3.13v4.3h-3.13zM325.9 1805.0h3.13v4.3h-3.13zM325.9 1818.0h3.13v8.7h-3.13zM325.9 1852.7h3.13v12.3h-3.13zM329.0 1309.2h3.13v2.2h-3.13zM329.0 1446.0h3.13v4.3h-3.13zM329.0 1502.4h3.13v26.1h-3.13zM329.0 1537.2h3.13v8.7h-3.13zM329.0 1558.9h3.13v4.3h-3.13zM329.0 1598.0h3.13v4.3h-3.13zM329.0 1641.4h3.13v8.7h-3.13zM329.0 1715.2h3.13v26.1h-3.13zM329.0 1784.7h3.13v13.0h-3.13zM329.0 1806.4h3.13v4.3h-3.13zM332.1 1322.7h3.13v4.3h-3.13zM332.1 1340.0h3.13v4.3h-3.13zM332.1 1383.5h3.13v8.7h-3.13zM332.1 1535.4h3.13v4.3h-3.13zM332.1 1544.1h3.13v26.1h-3.13zM332.1 1583.2h3.13v13.0h-3.13zM332.1 1670.0h3.13v26.1h-3.13zM332.1 1700.4h3.13v8.7h-3.13zM332.1 1709.1h3.13v4.3h-3.13zM332.1 1748.2h3.13v13.0h-3.13zM332.1 1765.6h3.13v26.1h-3.13zM332.1 1800.3h3.13v4.3h-3.13zM332.1 1839.4h3.13v13.0h-3.13zM332.1 1852.4h3.13v8.7h-3.13zM335.2 1309.2h3.13v5.1h-3.13zM335.2 1314.3h3.13v13.0h-3.13zM335.2 1336.0h3.13v4.3h-3.13zM335.2 1370.8h3.13v4.3h-3.13zM335.2 1440.2h3.13v8.7h-3.13zM335.2 1462.0h3.13v17.4h-3.13zM335.2 1479.3h3.13v4.3h-3.13zM335.2 1483.7h3.13v4.3h-3.13zM335.2 1522.7h3.13v17.4h-3.13zM335.2 1548.8h3.13v4.3h-3.13zM335.2 1570.5h3.13v4.3h-3.13zM335.2 1579.2h3.13v17.4h-3.13zM335.2 1596.6h3.13v13.0h-3.13zM335.2 1618.3h3.13v13.0h-3.13zM335.2 1631.3h3.13v26.1h-3.13zM335.2 1774.6h3.13v8.7h-3.13zM335.2 1783.3h3.13v8.7h-3.13zM335.2 1792.0h3.13v17.4h-3.13zM335.2 1848.4h3.13v13.0h-3.13zM338.4 1325.3h3.13v8.7h-3.13zM338.4 1334.0h3.13v4.3h-3.13zM338.4 1347.0h3.13v17.4h-3.13zM338.4 1364.3h3.13v8.7h-3.13zM338.4 1373.0h3.13v17.4h-3.13zM338.4 1451.2h3.13v26.1h-3.13zM338.4 1477.2h3.13v4.3h-3.13zM338.4 1603.2h3.13v4.3h-3.13zM338.4 1668.3h3.13v4.3h-3.13zM338.4 1837.6h3.13v8.7h-3.13zM341.5 1379.3h3.13v17.4h-3.13zM341.5 1427.1h3.13v8.7h-3.13zM341.5 1513.9h3.13v8.7h-3.13zM341.5 1531.3h3.13v8.7h-3.13zM341.5 1557.3h3.13v4.3h-3.13zM341.5 1622.5h3.13v17.4h-3.13zM341.5 1757.1h3.13v8.7h-3.13zM341.5 1778.8h3.13v8.7h-3.13zM341.5 1839.6h3.13v8.7h-3.13zM341.5 1848.3h3.13v8.7h-3.13zM344.6 1332.3h3.13v8.7h-3.13zM344.6 1358.3h3.13v8.7h-3.13zM344.6 1367.0h3.13v4.3h-3.13zM344.6 1458.2h3.13v17.4h-3.13zM344.6 1484.3h3.13v8.7h-3.13zM344.6 1532.0h3.13v13.0h-3.13zM344.6 1636.2h3.13v4.3h-3.13zM344.6 1644.9h3.13v13.0h-3.13zM344.6 1697.0h3.13v17.4h-3.13zM344.6 1801.3h3.13v4.3h-3.13zM344.6 1853.4h3.13v8.7h-3.13zM344.6 1862.0h3.13v3.0h-3.13zM347.8 1323.1h3.13v8.7h-3.13zM347.8 1331.7h3.13v26.1h-3.13zM347.8 1396.9h3.13v4.3h-3.13zM347.8 1449.0h3.13v8.7h-3.13zM347.8 1522.8h3.13v8.7h-3.13zM347.8 1587.9h3.13v4.3h-3.13zM347.8 1661.8h3.13v13.0h-3.13zM347.8 1692.1h3.13v13.0h-3.13zM347.8 1779.0h3.13v4.3h-3.13zM347.8 1800.7h3.13v4.3h-3.13zM347.8 1822.4h3.13v4.3h-3.13zM347.8 1848.5h3.13v8.7h-3.13zM347.8 1861.5h3.13v3.5h-3.13zM350.9 1311.5h3.13v8.7h-3.13zM350.9 1320.2h3.13v13.0h-3.13zM350.9 1337.6h3.13v8.7h-3.13zM350.9 1389.7h3.13v4.3h-3.13zM350.9 1554.7h3.13v8.7h-3.13zM350.9 1706.7h3.13v8.7h-3.13zM350.9 1832.6h3.13v8.7h-3.13zM350.9 1841.3h3.13v23.7h-3.13zM354.0 1449.7h3.13v4.3h-3.13zM354.0 1493.2h3.13v8.7h-3.13zM354.0 1514.9h3.13v4.3h-3.13zM354.0 1523.6h3.13v4.3h-3.13zM354.0 1666.8h3.13v8.7h-3.13zM354.0 1679.9h3.13v8.7h-3.13zM354.0 1688.6h3.13v13.0h-3.13zM354.0 1705.9h3.13v8.7h-3.13zM354.0 1727.6h3.13v4.3h-3.13zM354.0 1766.7h3.13v8.7h-3.13zM354.0 1792.8h3.13v17.4h-3.13zM354.0 1849.2h3.13v4.3h-3.13zM354.0 1853.6h3.13v4.3h-3.13zM357.1 1372.1h3.13v8.7h-3.13zM357.1 1576.2h3.13v26.1h-3.13zM357.1 1602.2h3.13v8.7h-3.13zM357.1 1684.7h3.13v13.0h-3.13zM357.1 1858.4h3.13v6.6h-3.13zM360.3 1310.5h3.13v26.1h-3.13zM360.3 1358.3h3.13v4.3h-3.13zM360.3 1436.5h3.13v8.7h-3.13zM360.3 1445.1h3.13v4.3h-3.13zM360.3 1453.8h3.13v26.1h-3.13zM360.3 1514.6h3.13v17.4h-3.13zM360.3 1562.4h3.13v8.7h-3.13zM360.3 1614.5h3.13v8.7h-3.13zM360.3 1627.5h3.13v17.4h-3.13zM360.3 1644.9h3.13v4.3h-3.13zM360.3 1688.3h3.13v4.3h-3.13zM360.3 1749.1h3.13v4.3h-3.13zM360.3 1788.2h3.13v13.0h-3.13zM360.3 1862.0h3.13v3.0h-3.13zM363.4 1358.3h3.13v13.0h-3.13zM363.4 1427.8h3.13v8.7h-3.13zM363.4 1440.8h3.13v4.3h-3.13zM363.4 1458.2h3.13v4.3h-3.13zM363.4 1488.6h3.13v8.7h-3.13zM363.4 1523.3h3.13v17.4h-3.13zM363.4 1831.6h3.13v13.0h-3.13zM363.4 1844.6h3.13v4.3h-3.13zM363.4 1849.0h3.13v8.7h-3.13zM366.5 1327.8h3.13v8.7h-3.13zM366.5 1419.0h3.13v4.3h-3.13zM366.5 1445.0h3.13v13.0h-3.13zM366.5 1623.0h3.13v8.7h-3.13zM366.5 1631.7h3.13v26.1h-3.13zM366.5 1662.1h3.13v4.3h-3.13zM366.5 1683.8h3.13v4.3h-3.13zM366.5 1753.3h3.13v4.3h-3.13zM366.5 1840.2h3.13v4.3h-3.13zM369.7 1320.3h3.13v8.7h-3.13zM369.7 1328.9h3.13v4.3h-3.13zM369.7 1415.8h3.13v8.7h-3.13zM369.7 1433.1h3.13v8.7h-3.13zM369.7 1637.2h3.13v4.3h-3.13zM369.7 1654.6h3.13v4.3h-3.13zM369.7 1763.2h3.13v4.3h-3.13zM369.7 1784.9h3.13v13.0h-3.13zM369.7 1823.9h3.13v13.0h-3.13zM372.8 1341.1h3.13v8.7h-3.13zM372.8 1423.6h3.13v4.3h-3.13zM372.8 1488.7h3.13v4.3h-3.13zM372.8 1562.5h3.13v4.3h-3.13zM372.8 1601.6h3.13v26.1h-3.13zM372.8 1701.5h3.13v13.0h-3.13zM372.8 1749.3h3.13v8.7h-3.13zM372.8 1766.6h3.13v17.4h-3.13zM372.8 1814.4h3.13v8.7h-3.13zM372.8 1831.8h3.13v8.7h-3.13zM372.8 1857.8h3.13v7.2h-3.13zM375.9 1309.2h3.13v3.8h-3.13zM375.9 1395.5h3.13v8.7h-3.13zM375.9 1404.2h3.13v8.7h-3.13zM375.9 1473.7h3.13v26.1h-3.13zM375.9 1499.7h3.13v4.3h-3.13zM375.9 1556.2h3.13v4.3h-3.13zM375.9 1729.9h3.13v26.1h-3.13zM375.9 1821.1h3.13v4.3h-3.13zM375.9 1851.5h3.13v8.7h-3.13zM379.1 1339.6h3.13v8.7h-3.13zM379.1 1357.0h3.13v8.7h-3.13zM379.1 1513.3h3.13v8.7h-3.13zM379.1 1543.7h3.13v13.0h-3.13zM379.1 1574.1h3.13v17.4h-3.13zM379.1 1621.8h3.13v17.4h-3.13zM379.1 1673.9h3.13v8.7h-3.13zM379.1 1691.3h3.13v8.7h-3.13zM379.1 1825.9h3.13v13.0h-3.13zM379.1 1838.9h3.13v4.3h-3.13zM382.2 1326.2h3.13v4.3h-3.13zM382.2 1400.1h3.13v8.7h-3.13zM382.2 1439.1h3.13v8.7h-3.13zM382.2 1452.2h3.13v4.3h-3.13zM382.2 1582.4h3.13v26.1h-3.13zM382.2 1608.5h3.13v8.7h-3.13zM382.2 1625.9h3.13v4.3h-3.13zM382.2 1643.2h3.13v4.3h-3.13zM382.2 1686.7h3.13v26.1h-3.13zM382.2 1725.7h3.13v13.0h-3.13zM382.2 1743.1h3.13v17.4h-3.13zM382.2 1808.2h3.13v17.4h-3.13zM382.2 1825.6h3.13v4.3h-3.13zM382.2 1860.3h3.13v4.7h-3.13zM385.3 1399.3h3.13v8.7h-3.13zM385.3 1477.5h3.13v8.7h-3.13zM385.3 1560.0h3.13v4.3h-3.13zM385.3 1564.3h3.13v8.7h-3.13zM385.3 1594.7h3.13v8.7h-3.13zM385.3 1672.9h3.13v13.0h-3.13zM385.3 1694.6h3.13v4.3h-3.13zM385.3 1811.8h3.13v8.7h-3.13zM388.4 1317.7h3.13v17.4h-3.13zM388.4 1352.5h3.13v26.1h-3.13zM388.4 1378.5h3.13v13.0h-3.13zM388.4 1430.6h3.13v26.1h-3.13zM388.4 1469.7h3.13v4.3h-3.13zM388.4 1495.8h3.13v8.7h-3.13zM388.4 1556.5h3.13v13.0h-3.13zM388.4 1656.4h3.13v4.3h-3.13zM388.4 1773.7h3.13v4.3h-3.13zM388.4 1799.7h3.13v4.3h-3.13zM388.4 1856.2h3.13v8.7h-3.13zM391.6 1328.3h3.13v4.3h-3.13zM391.6 1423.9h3.13v8.7h-3.13zM391.6 1489.0h3.13v13.0h-3.13zM391.6 1502.0h3.13v8.7h-3.13zM391.6 1519.4h3.13v26.1h-3.13zM391.6 1597.5h3.13v4.3h-3.13zM391.6 1601.9h3.13v4.3h-3.13zM391.6 1693.1h3.13v17.4h-3.13zM391.6 1710.4h3.13v8.7h-3.13zM391.6 1745.2h3.13v8.7h-3.13zM394.7 1326.2h3.13v13.0h-3.13zM394.7 1612.7h3.13v8.7h-3.13zM394.7 1630.1h3.13v13.0h-3.13zM394.7 1656.2h3.13v13.0h-3.13zM394.7 1690.9h3.13v26.1h-3.13zM397.8 1352.1h3.13v4.3h-3.13zM397.8 1369.4h3.13v4.3h-3.13zM397.8 1651.7h3.13v4.3h-3.13zM397.8 1669.1h3.13v26.1h-3.13zM397.8 1695.1h3.13v4.3h-3.13zM397.8 1816.7h3.13v13.0h-3.13zM397.8 1838.4h3.13v4.3h-3.13zM397.8 1847.1h3.13v4.3h-3.13zM397.8 1860.1h3.13v4.3h-3.13zM401.0 1342.4h3.13v4.3h-3.13zM401.0 1346.8h3.13v17.4h-3.13zM401.0 1403.2h3.13v13.0h-3.13zM401.0 1420.6h3.13v4.3h-3.13zM401.0 1524.8h3.13v4.3h-3.13zM401.0 1550.8h3.13v8.7h-3.13zM401.0 1668.1h3.13v4.3h-3.13zM401.0 1754.9h3.13v17.4h-3.13zM401.0 1846.1h3.13v4.3h-3.13zM404.1 1439.6h3.13v4.3h-3.13zM404.1 1478.6h3.13v13.0h-3.13zM404.1 1491.7h3.13v8.7h-3.13zM404.1 1556.8h3.13v13.0h-3.13zM404.1 1635.0h3.13v4.3h-3.13zM404.1 1639.3h3.13v26.1h-3.13zM404.1 1674.0h3.13v17.4h-3.13zM404.1 1691.4h3.13v8.7h-3.13zM404.1 1704.4h3.13v8.7h-3.13zM404.1 1765.2h3.13v8.7h-3.13zM404.1 1782.6h3.13v26.1h-3.13zM407.2 1379.5h3.13v17.4h-3.13zM407.2 1514.1h3.13v26.1h-3.13zM407.2 1735.5h3.13v4.3h-3.13zM407.2 1844.1h3.13v8.7h-3.13zM407.2 1852.8h3.13v12.2h-3.13zM410.3 1338.8h3.13v17.4h-3.13zM410.3 1356.1h3.13v4.3h-3.13zM410.3 1395.2h3.13v4.3h-3.13zM410.3 1399.6h3.13v4.3h-3.13zM410.3 1499.4h3.13v8.7h-3.13zM410.3 1529.8h3.13v4.3h-3.13zM410.3 1568.9h3.13v8.7h-3.13zM410.3 1586.3h3.13v8.7h-3.13zM410.3 1707.9h3.13v8.7h-3.13zM410.3 1725.2h3.13v4.3h-3.13zM410.3 1729.6h3.13v8.7h-3.13zM410.3 1803.4h3.13v8.7h-3.13zM410.3 1842.5h3.13v4.3h-3.13zM413.5 1341.9h3.13v4.3h-3.13zM413.5 1346.2h3.13v8.7h-3.13zM413.5 1463.5h3.13v8.7h-3.13zM413.5 1472.1h3.13v4.3h-3.13zM413.5 1537.3h3.13v13.0h-3.13zM413.5 1554.6h3.13v8.7h-3.13zM413.5 1598.1h3.13v17.4h-3.13zM413.5 1658.9h3.13v4.3h-3.13zM413.5 1663.2h3.13v8.7h-3.13zM413.5 1689.3h3.13v8.7h-3.13zM413.5 1711.0h3.13v8.7h-3.13zM413.5 1758.7h3.13v17.4h-3.13zM413.5 1776.1h3.13v8.7h-3.13zM413.5 1828.2h3.13v26.1h-3.13zM413.5 1854.3h3.13v10.7h-3.13zM416.6 1315.0h3.13v26.1h-3.13zM416.6 1579.8h3.13v4.3h-3.13zM416.6 1601.5h3.13v8.7h-3.13zM416.6 1701.4h3.13v8.7h-3.13zM416.6 1710.1h3.13v4.3h-3.13zM416.6 1718.8h3.13v4.3h-3.13zM416.6 1823.0h3.13v26.1h-3.13zM419.7 1391.0h3.13v13.0h-3.13zM419.7 1464.8h3.13v4.3h-3.13zM419.7 1529.9h3.13v4.3h-3.13zM419.7 1582.0h3.13v8.7h-3.13zM419.7 1590.7h3.13v8.7h-3.13zM419.7 1621.1h3.13v8.7h-3.13zM419.7 1629.8h3.13v17.4h-3.13zM419.7 1846.9h3.13v4.3h-3.13zM419.7 1859.9h3.13v5.1h-3.13zM422.9 1309.2h3.13v3.0h-3.13zM422.9 1412.1h3.13v8.7h-3.13zM422.9 1472.9h3.13v8.7h-3.13zM422.9 1503.3h3.13v8.7h-3.13zM422.9 1577.1h3.13v13.0h-3.13zM422.9 1690.0h3.13v4.3h-3.13zM422.9 1694.3h3.13v4.3h-3.13zM422.9 1724.7h3.13v4.3h-3.13zM422.9 1733.4h3.13v8.7h-3.13zM422.9 1742.1h3.13v4.3h-3.13zM422.9 1746.4h3.13v8.7h-3.13zM422.9 1755.1h3.13v8.7h-3.13zM422.9 1798.5h3.13v4.3h-3.13zM422.9 1802.9h3.13v4.3h-3.13zM422.9 1824.6h3.13v8.7h-3.13zM422.9 1841.9h3.13v4.3h-3.13zM422.9 1855.0h3.13v4.3h-3.13zM426.0 1411.9h3.13v4.3h-3.13zM426.0 1537.9h3.13v4.3h-3.13zM426.0 1620.4h3.13v8.7h-3.13zM426.0 1629.0h3.13v4.3h-3.13zM426.0 1659.4h3.13v8.7h-3.13zM426.0 1668.1h3.13v8.7h-3.13zM426.0 1689.8h3.13v8.7h-3.13zM426.0 1798.4h3.13v4.3h-3.13zM429.1 1367.0h3.13v8.7h-3.13zM429.1 1375.7h3.13v26.1h-3.13zM429.1 1545.1h3.13v8.7h-3.13zM429.1 1592.8h3.13v4.3h-3.13zM429.1 1597.2h3.13v13.0h-3.13zM429.1 1610.2h3.13v13.0h-3.13zM429.1 1649.3h3.13v8.7h-3.13zM429.1 1666.7h3.13v17.4h-3.13zM429.1 1701.4h3.13v8.7h-3.13zM429.1 1710.1h3.13v4.3h-3.13zM429.1 1814.3h3.13v8.7h-3.13zM432.2 1309.2h3.13v10.0h-3.13zM432.2 1345.3h3.13v4.3h-3.13zM432.2 1427.8h3.13v8.7h-3.13zM432.2 1436.5h3.13v4.3h-3.13zM432.2 1462.5h3.13v4.3h-3.13zM432.2 1466.9h3.13v8.7h-3.13zM432.2 1562.4h3.13v13.0h-3.13zM432.2 1605.8h3.13v13.0h-3.13zM432.2 1684.0h3.13v4.3h-3.13zM432.2 1718.7h3.13v13.0h-3.13zM432.2 1801.2h3.13v8.7h-3.13zM432.2 1814.3h3.13v13.0h-3.13zM435.4 1312.7h3.13v17.4h-3.13zM435.4 1403.8h3.13v4.3h-3.13zM435.4 1425.6h3.13v4.3h-3.13zM435.4 1429.9h3.13v17.4h-3.13zM435.4 1508.1h3.13v26.1h-3.13zM435.4 1538.5h3.13v4.3h-3.13zM435.4 1555.8h3.13v17.4h-3.13zM435.4 1690.4h3.13v4.3h-3.13zM435.4 1699.1h3.13v13.0h-3.13zM435.4 1733.9h3.13v26.1h-3.13zM435.4 1781.6h3.13v4.3h-3.13zM435.4 1864.1h3.13v0.9h-3.13zM438.5 1309.2h3.13v17.2h-3.13zM438.5 1400.3h3.13v8.7h-3.13zM438.5 1413.3h3.13v8.7h-3.13zM438.5 1430.7h3.13v4.3h-3.13zM438.5 1461.1h3.13v13.0h-3.13zM438.5 1474.1h3.13v8.7h-3.13zM438.5 1621.7h3.13v8.7h-3.13zM438.5 1643.4h3.13v8.7h-3.13zM438.5 1682.5h3.13v8.7h-3.13zM438.5 1717.2h3.13v8.7h-3.13zM438.5 1752.0h3.13v8.7h-3.13zM438.5 1769.3h3.13v4.3h-3.13zM438.5 1773.7h3.13v4.3h-3.13zM438.5 1782.4h3.13v8.7h-3.13zM441.6 1309.2h3.13v4.3h-3.13zM441.6 1313.5h3.13v26.1h-3.13zM441.6 1356.9h3.13v13.0h-3.13zM441.6 1374.3h3.13v26.1h-3.13zM441.6 1487.2h3.13v8.7h-3.13zM441.6 1495.9h3.13v4.3h-3.13zM441.6 1504.6h3.13v8.7h-3.13zM441.6 1600.1h3.13v17.4h-3.13zM441.6 1647.9h3.13v26.1h-3.13zM441.6 1717.3h3.13v17.4h-3.13zM441.6 1804.2h3.13v8.7h-3.13zM441.6 1812.9h3.13v8.7h-3.13zM444.8 1439.6h3.13v8.7h-3.13zM444.8 1461.3h3.13v8.7h-3.13zM444.8 1535.2h3.13v4.3h-3.13zM444.8 1591.6h3.13v8.7h-3.13zM444.8 1609.0h3.13v8.7h-3.13zM444.8 1678.5h3.13v8.7h-3.13zM444.8 1708.9h3.13v4.3h-3.13zM444.8 1730.6h3.13v4.3h-3.13zM444.8 1739.2h3.13v26.1h-3.13zM444.8 1765.3h3.13v8.7h-3.13zM444.8 1852.1h3.13v8.7h-3.13zM447.9 1321.6h3.13v4.3h-3.13zM447.9 1391.1h3.13v8.7h-3.13zM447.9 1417.1h3.13v8.7h-3.13zM447.9 1438.8h3.13v17.4h-3.13zM447.9 1482.3h3.13v17.4h-3.13zM447.9 1551.7h3.13v8.7h-3.13zM447.9 1642.9h3.13v4.3h-3.13zM451.0 1377.0h3.13v26.1h-3.13zM451.0 1403.0h3.13v4.3h-3.13zM451.0 1450.8h3.13v8.7h-3.13zM451.0 1485.5h3.13v4.3h-3.13zM451.0 1498.6h3.13v4.3h-3.13zM451.0 1620.1h3.13v4.3h-3.13zM451.0 1685.3h3.13v17.4h-3.13zM451.0 1702.6h3.13v4.3h-3.13zM451.0 1707.0h3.13v4.3h-3.13zM451.0 1741.7h3.13v4.3h-3.13zM454.1 1512.5h3.13v4.3h-3.13zM454.1 1529.9h3.13v4.3h-3.13zM454.1 1612.4h3.13v26.1h-3.13zM454.1 1707.9h3.13v4.3h-3.13zM454.1 1712.2h3.13v8.7h-3.13zM454.1 1720.9h3.13v13.0h-3.13zM454.1 1781.7h3.13v8.7h-3.13zM454.1 1833.8h3.13v8.7h-3.13zM457.3 1354.8h3.13v4.3h-3.13zM457.3 1359.2h3.13v8.7h-3.13zM457.3 1367.9h3.13v13.0h-3.13zM457.3 1411.3h3.13v13.0h-3.13zM457.3 1441.7h3.13v8.7h-3.13zM457.3 1506.8h3.13v26.1h-3.13zM457.3 1558.9h3.13v8.7h-3.13zM457.3 1571.9h3.13v4.3h-3.13zM457.3 1654.4h3.13v13.0h-3.13zM457.3 1693.5h3.13v8.7h-3.13zM457.3 1702.2h3.13v8.7h-3.13zM457.3 1719.6h3.13v13.0h-3.13zM457.3 1745.6h3.13v4.3h-3.13zM457.3 1819.5h3.13v26.1h-3.13zM460.4 1309.2h3.13v4.1h-3.13zM460.4 1343.7h3.13v4.3h-3.13zM460.4 1352.3h3.13v8.7h-3.13zM460.4 1417.5h3.13v8.7h-3.13zM460.4 1578.1h3.13v8.7h-3.13zM460.4 1595.5h3.13v4.3h-3.13zM460.4 1621.6h3.13v4.3h-3.13zM460.4 1638.9h3.13v4.3h-3.13zM460.4 1738.8h3.13v8.7h-3.13zM460.4 1756.2h3.13v13.0h-3.13zM460.4 1786.6h3.13v4.3h-3.13zM460.4 1812.6h3.13v8.7h-3.13zM463.5 1325.2h3.13v17.4h-3.13zM463.5 1381.7h3.13v8.7h-3.13zM463.5 1572.8h3.13v8.7h-3.13zM463.5 1633.5h3.13v17.4h-3.13zM463.5 1650.9h3.13v13.0h-3.13zM463.5 1690.0h3.13v13.0h-3.13zM463.5 1802.9h3.13v4.3h-3.13zM463.5 1828.9h3.13v4.3h-3.13zM466.7 1336.7h3.13v4.3h-3.13zM466.7 1367.1h3.13v17.4h-3.13zM466.7 1445.2h3.13v8.7h-3.13zM466.7 1519.0h3.13v17.4h-3.13zM466.7 1545.1h3.13v8.7h-3.13zM466.7 1553.8h3.13v8.7h-3.13zM466.7 1566.8h3.13v13.0h-3.13zM466.7 1601.5h3.13v4.3h-3.13zM466.7 1605.9h3.13v4.3h-3.13zM466.7 1658.0h3.13v26.1h-3.13zM466.7 1718.8h3.13v4.3h-3.13zM466.7 1740.5h3.13v4.3h-3.13zM466.7 1749.2h3.13v13.0h-3.13zM466.7 1762.2h3.13v4.3h-3.13zM466.7 1766.5h3.13v17.4h-3.13zM466.7 1831.7h3.13v4.3h-3.13zM466.7 1840.4h3.13v13.0h-3.13zM466.7 1862.1h3.13v2.9h-3.13zM469.8 1309.2h3.13v1.8h-3.13zM469.8 1358.7h3.13v8.7h-3.13zM469.8 1380.4h3.13v8.7h-3.13zM469.8 1432.5h3.13v13.0h-3.13zM469.8 1458.6h3.13v17.4h-3.13zM469.8 1484.7h3.13v4.3h-3.13zM469.8 1493.3h3.13v8.7h-3.13zM469.8 1567.2h3.13v13.0h-3.13zM469.8 1610.6h3.13v4.3h-3.13zM469.8 1701.8h3.13v13.0h-3.13zM469.8 1745.2h3.13v4.3h-3.13zM469.8 1814.7h3.13v8.7h-3.13zM472.9 1327.9h3.13v8.7h-3.13zM472.9 1336.6h3.13v17.4h-3.13zM472.9 1388.7h3.13v13.0h-3.13zM472.9 1419.1h3.13v4.3h-3.13zM472.9 1553.7h3.13v4.3h-3.13zM472.9 1618.9h3.13v8.7h-3.13zM472.9 1684.0h3.13v13.0h-3.13zM472.9 1762.2h3.13v8.7h-3.13zM476.0 1332.6h3.13v4.3h-3.13zM476.0 1354.3h3.13v4.3h-3.13zM476.0 1380.4h3.13v13.0h-3.13zM476.0 1397.7h3.13v4.3h-3.13zM476.0 1462.9h3.13v4.3h-3.13zM476.0 1497.6h3.13v4.3h-3.13zM476.0 1554.0h3.13v8.7h-3.13zM476.0 1662.6h3.13v4.3h-3.13zM476.0 1671.3h3.13v26.1h-3.13zM476.0 1727.7h3.13v8.7h-3.13zM479.2 1309.2h3.13v1.6h-3.13zM479.2 1310.8h3.13v8.7h-3.13zM479.2 1332.6h3.13v26.1h-3.13zM479.2 1367.3h3.13v13.0h-3.13zM479.2 1406.4h3.13v13.0h-3.13zM479.2 1536.6h3.13v4.3h-3.13zM479.2 1545.3h3.13v8.7h-3.13zM479.2 1554.0h3.13v8.7h-3.13zM479.2 1623.5h3.13v4.3h-3.13zM479.2 1632.2h3.13v17.4h-3.13zM479.2 1666.9h3.13v26.1h-3.13zM479.2 1762.4h3.13v8.7h-3.13zM479.2 1844.9h3.13v20.1h-3.13zM482.3 1309.4h3.13v13.0h-3.13zM482.3 1418.0h3.13v13.0h-3.13zM482.3 1457.1h3.13v8.7h-3.13zM482.3 1504.8h3.13v4.3h-3.13zM482.3 1526.5h3.13v17.4h-3.13zM482.3 1578.7h3.13v8.7h-3.13zM482.3 1726.3h3.13v26.1h-3.13zM482.3 1778.4h3.13v13.0h-3.13zM482.3 1791.4h3.13v13.0h-3.13zM485.4 1314.4h3.13v4.3h-3.13zM485.4 1336.1h3.13v8.7h-3.13zM485.4 1349.1h3.13v8.7h-3.13zM485.4 1405.6h3.13v4.3h-3.13zM485.4 1427.3h3.13v4.3h-3.13zM485.4 1453.3h3.13v17.4h-3.13zM485.4 1505.4h3.13v4.3h-3.13zM485.4 1535.8h3.13v26.1h-3.13zM485.4 1574.9h3.13v4.3h-3.13zM485.4 1579.3h3.13v4.3h-3.13zM485.4 1609.7h3.13v8.7h-3.13zM485.4 1622.7h3.13v13.0h-3.13zM485.4 1644.4h3.13v26.1h-3.13zM485.4 1709.5h3.13v8.7h-3.13zM485.4 1718.2h3.13v8.7h-3.13zM485.4 1826.8h3.13v8.7h-3.13zM488.6 1451.7h3.13v4.3h-3.13zM488.6 1490.8h3.13v4.3h-3.13zM488.6 1534.2h3.13v4.3h-3.13zM488.6 1603.7h3.13v4.3h-3.13zM488.6 1647.1h3.13v8.7h-3.13zM488.6 1703.5h3.13v26.1h-3.13zM488.6 1799.1h3.13v26.1h-3.13zM488.6 1825.1h3.13v8.7h-3.13zM488.6 1833.8h3.13v26.1h-3.13zM491.7 1335.0h3.13v4.3h-3.13zM491.7 1404.4h3.13v17.4h-3.13zM491.7 1539.0h3.13v4.3h-3.13zM491.7 1560.7h3.13v13.0h-3.13zM491.7 1599.8h3.13v26.1h-3.13zM491.7 1795.2h3.13v8.7h-3.13zM491.7 1816.9h3.13v4.3h-3.13zM491.7 1821.3h3.13v4.3h-3.13zM491.7 1847.3h3.13v4.3h-3.13zM494.8 1333.7h3.13v4.3h-3.13zM494.8 1359.8h3.13v4.3h-3.13zM494.8 1407.5h3.13v8.7h-3.13zM494.8 1416.2h3.13v13.0h-3.13zM494.8 1437.9h3.13v4.3h-3.13zM494.8 1472.7h3.13v26.1h-3.13zM494.8 1533.4h3.13v4.3h-3.13zM494.8 1689.8h3.13v17.4h-3.13zM494.8 1741.9h3.13v26.1h-3.13zM494.8 1837.4h3.13v26.1h-3.13zM497.9 1446.9h3.13v8.7h-3.13zM497.9 1507.7h3.13v26.1h-3.13zM497.9 1542.4h3.13v13.0h-3.13zM497.9 1720.5h3.13v17.4h-3.13zM497.9 1820.3h3.13v8.7h-3.13zM497.9 1837.7h3.13v8.7h-3.13zM497.9 1855.1h3.13v9.9h-3.13zM501.1 1359.7h3.13v8.7h-3.13zM501.1 1377.0h3.13v17.4h-3.13zM501.1 1394.4h3.13v8.7h-3.13zM501.1 1420.5h3.13v4.3h-3.13zM501.1 1424.8h3.13v17.4h-3.13zM501.1 1472.6h3.13v4.3h-3.13zM501.1 1650.6h3.13v4.3h-3.13zM501.1 1668.0h3.13v26.1h-3.13zM501.1 1720.1h3.13v26.1h-3.13zM501.1 1776.5h3.13v8.7h-3.13zM504.2 1309.2h3.13v0.3h-3.13zM504.2 1400.7h3.13v13.0h-3.13zM504.2 1509.2h3.13v4.3h-3.13zM504.2 1526.6h3.13v4.3h-3.13zM504.2 1530.9h3.13v13.0h-3.13zM504.2 1543.9h3.13v13.0h-3.13zM504.2 1609.1h3.13v4.3h-3.13zM504.2 1630.8h3.13v4.3h-3.13zM504.2 1635.1h3.13v13.0h-3.13zM504.2 1652.5h3.13v17.4h-3.13zM504.2 1669.9h3.13v8.7h-3.13zM504.2 1700.3h3.13v4.3h-3.13zM504.2 1709.0h3.13v8.7h-3.13zM504.2 1717.6h3.13v8.7h-3.13zM504.2 1752.4h3.13v13.0h-3.13zM504.2 1765.4h3.13v8.7h-3.13zM504.2 1804.5h3.13v4.3h-3.13zM504.2 1847.9h3.13v4.3h-3.13zM507.3 1511.1h3.13v17.4h-3.13zM507.3 1606.6h3.13v8.7h-3.13zM507.3 1667.4h3.13v8.7h-3.13zM507.3 1715.1h3.13v8.7h-3.13zM507.3 1723.8h3.13v8.7h-3.13zM507.3 1858.4h3.13v6.6h-3.13zM510.5 1351.4h3.13v26.1h-3.13zM510.5 1381.8h3.13v4.3h-3.13zM510.5 1464.3h3.13v4.3h-3.13zM510.5 1486.0h3.13v17.4h-3.13zM510.5 1616.2h3.13v4.3h-3.13zM510.5 1716.1h3.13v4.3h-3.13zM510.5 1763.9h3.13v4.3h-3.13zM513.6 1417.8h3.13v4.3h-3.13zM513.6 1435.2h3.13v26.1h-3.13zM513.6 1491.7h3.13v8.7h-3.13zM513.6 1556.8h3.13v4.3h-3.13zM513.6 1578.5h3.13v4.3h-3.13zM513.6 1652.3h3.13v4.3h-3.13zM513.6 1682.7h3.13v4.3h-3.13zM516.7 1326.2h3.13v26.1h-3.13zM516.7 1382.6h3.13v8.7h-3.13zM516.7 1469.5h3.13v8.7h-3.13zM516.7 1517.2h3.13v8.7h-3.13zM516.7 1525.9h3.13v4.3h-3.13zM516.7 1552.0h3.13v4.3h-3.13zM516.7 1595.4h3.13v26.1h-3.13zM516.7 1673.6h3.13v8.7h-3.13zM516.7 1690.9h3.13v8.7h-3.13zM516.7 1734.3h3.13v13.0h-3.13zM519.9 1332.5h3.13v4.3h-3.13zM519.9 1389.0h3.13v4.3h-3.13zM519.9 1549.6h3.13v8.7h-3.13zM519.9 1636.5h3.13v17.4h-3.13zM519.9 1684.3h3.13v4.3h-3.13zM519.9 1732.0h3.13v13.0h-3.13zM519.9 1749.4h3.13v8.7h-3.13zM519.9 1797.2h3.13v13.0h-3.13zM519.9 1857.9h3.13v4.3h-3.13zM523.0 1312.4h3.13v26.1h-3.13zM523.0 1368.8h3.13v4.3h-3.13zM523.0 1373.2h3.13v4.3h-3.13zM523.0 1616.3h3.13v8.7h-3.13zM523.0 1668.4h3.13v4.3h-3.13zM523.0 1785.7h3.13v4.3h-3.13zM523.0 1820.4h3.13v4.3h-3.13zM523.0 1824.7h3.13v4.3h-3.13zM523.0 1829.1h3.13v4.3h-3.13zM523.0 1842.1h3.13v4.3h-3.13zM526.1 1319.8h3.13v8.7h-3.13zM526.1 1354.5h3.13v13.0h-3.13zM526.1 1367.6h3.13v17.4h-3.13zM526.1 1384.9h3.13v8.7h-3.13zM526.1 1411.0h3.13v4.3h-3.13zM526.1 1502.2h3.13v4.3h-3.13zM526.1 1506.5h3.13v4.3h-3.13zM526.1 1515.2h3.13v4.3h-3.13zM526.1 1606.4h3.13v4.3h-3.13zM526.1 1610.7h3.13v8.7h-3.13zM526.1 1671.5h3.13v8.7h-3.13zM526.1 1680.2h3.13v8.7h-3.13zM526.1 1719.3h3.13v4.3h-3.13zM526.1 1723.6h3.13v8.7h-3.13zM526.1 1767.1h3.13v13.0h-3.13zM526.1 1780.1h3.13v13.0h-3.13zM526.1 1819.2h3.13v13.0h-3.13zM529.2 1355.3h3.13v26.1h-3.13zM529.2 1403.0h3.13v17.4h-3.13zM529.2 1420.4h3.13v4.3h-3.13zM529.2 1489.9h3.13v8.7h-3.13zM529.2 1498.6h3.13v4.3h-3.13zM529.2 1515.9h3.13v8.7h-3.13zM529.2 1641.9h3.13v4.3h-3.13zM529.2 1694.0h3.13v8.7h-3.13zM529.2 1715.7h3.13v8.7h-3.13zM529.2 1767.8h3.13v26.1h-3.13zM529.2 1863.3h3.13v1.7h-3.13zM532.4 1455.3h3.13v4.3h-3.13zM532.4 1642.0h3.13v17.4h-3.13zM532.4 1659.4h3.13v17.4h-3.13zM532.4 1702.8h3.13v8.7h-3.13zM532.4 1776.6h3.13v13.0h-3.13zM532.4 1811.3h3.13v8.7h-3.13zM532.4 1820.0h3.13v4.3h-3.13zM532.4 1824.4h3.13v4.3h-3.13zM532.4 1859.1h3.13v4.3h-3.13zM535.5 1370.7h3.13v8.7h-3.13zM535.5 1379.4h3.13v8.7h-3.13zM535.5 1483.6h3.13v8.7h-3.13zM535.5 1492.3h3.13v13.0h-3.13zM535.5 1540.1h3.13v8.7h-3.13zM535.5 1622.6h3.13v4.3h-3.13zM535.5 1626.9h3.13v4.3h-3.13zM535.5 1679.0h3.13v4.3h-3.13zM535.5 1713.7h3.13v8.7h-3.13zM535.5 1722.4h3.13v4.3h-3.13zM535.5 1739.8h3.13v4.3h-3.13zM535.5 1791.9h3.13v13.0h-3.13zM538.6 1325.1h3.13v4.3h-3.13zM538.6 1385.9h3.13v4.3h-3.13zM538.6 1503.1h3.13v8.7h-3.13zM538.6 1520.5h3.13v8.7h-3.13zM538.6 1533.5h3.13v26.1h-3.13zM538.6 1590.0h3.13v4.3h-3.13zM538.6 1642.1h3.13v13.0h-3.13zM538.6 1655.1h3.13v26.1h-3.13zM538.6 1715.9h3.13v4.3h-3.13zM538.6 1750.6h3.13v4.3h-3.13zM538.6 1772.3h3.13v26.1h-3.13zM541.8 1334.4h3.13v17.4h-3.13zM541.8 1486.4h3.13v13.0h-3.13zM541.8 1508.1h3.13v8.7h-3.13zM541.8 1516.8h3.13v17.4h-3.13zM541.8 1590.6h3.13v17.4h-3.13zM541.8 1777.3h3.13v8.7h-3.13zM544.9 1402.3h3.13v4.3h-3.13zM544.9 1476.2h3.13v8.7h-3.13zM544.9 1523.9h3.13v8.7h-3.13zM544.9 1589.0h3.13v26.1h-3.13zM544.9 1701.9h3.13v4.3h-3.13zM544.9 1723.7h3.13v13.0h-3.13zM544.9 1767.1h3.13v4.3h-3.13zM544.9 1836.6h3.13v26.1h-3.13zM548.0 1309.5h3.13v8.7h-3.13zM548.0 1318.2h3.13v4.3h-3.13zM548.0 1339.9h3.13v8.7h-3.13zM548.0 1387.7h3.13v8.7h-3.13zM548.0 1413.7h3.13v8.7h-3.13zM548.0 1452.8h3.13v4.3h-3.13zM548.0 1474.5h3.13v26.1h-3.13zM548.0 1517.9h3.13v4.3h-3.13zM548.0 1578.7h3.13v17.4h-3.13zM548.0 1626.5h3.13v4.3h-3.13zM548.0 1648.2h3.13v8.7h-3.13zM548.0 1696.0h3.13v8.7h-3.13zM548.0 1769.8h3.13v4.3h-3.13zM548.0 1782.8h3.13v8.7h-3.13zM548.0 1804.5h3.13v17.4h-3.13zM551.1 1311.9h3.13v17.4h-3.13zM551.1 1351.0h3.13v8.7h-3.13zM551.1 1555.0h3.13v4.3h-3.13zM551.1 1637.5h3.13v13.0h-3.13zM551.1 1681.0h3.13v8.7h-3.13zM551.1 1776.5h3.13v17.4h-3.13zM551.1 1837.3h3.13v17.4h-3.13zM554.3 1365.7h3.13v17.4h-3.13zM554.3 1461.2h3.13v4.3h-3.13zM554.3 1669.6h3.13v4.3h-3.13zM554.3 1695.7h3.13v4.3h-3.13zM554.3 1752.1h3.13v13.0h-3.13zM554.3 1769.5h3.13v8.7h-3.13zM554.3 1812.9h3.13v26.1h-3.13zM557.4 1436.3h3.13v8.7h-3.13zM557.4 1453.6h3.13v17.4h-3.13zM557.4 1488.4h3.13v17.4h-3.13zM557.4 1505.7h3.13v4.3h-3.13zM557.4 1601.3h3.13v8.7h-3.13zM557.4 1618.6h3.13v26.1h-3.13zM557.4 1740.2h3.13v17.4h-3.13zM560.5 1325.0h3.13v8.7h-3.13zM560.5 1394.4h3.13v13.0h-3.13zM560.5 1476.9h3.13v26.1h-3.13zM560.5 1503.0h3.13v4.3h-3.13zM560.5 1507.3h3.13v4.3h-3.13zM560.5 1711.4h3.13v8.7h-3.13zM560.5 1763.5h3.13v4.3h-3.13zM560.5 1854.7h3.13v4.3h-3.13zM563.7 1381.2h3.13v4.3h-3.13zM563.7 1446.4h3.13v17.4h-3.13zM563.7 1489.8h3.13v8.7h-3.13zM563.7 1524.5h3.13v4.3h-3.13zM563.7 1541.9h3.13v4.3h-3.13zM563.7 1607.0h3.13v4.3h-3.13zM563.7 1611.4h3.13v8.7h-3.13zM563.7 1689.5h3.13v8.7h-3.13zM563.7 1702.6h3.13v17.4h-3.13zM563.7 1719.9h3.13v8.7h-3.13zM563.7 1746.0h3.13v17.4h-3.13zM563.7 1815.5h3.13v8.7h-3.13zM563.7 1832.8h3.13v4.3h-3.13zM566.8 1309.2h3.13v10.7h-3.13zM566.8 1402.4h3.13v8.7h-3.13zM566.8 1497.9h3.13v8.7h-3.13zM566.8 1532.6h3.13v4.3h-3.13zM566.8 1537.0h3.13v26.1h-3.13zM566.8 1576.1h3.13v4.3h-3.13zM566.8 1597.8h3.13v8.7h-3.13zM566.8 1671.6h3.13v8.7h-3.13zM566.8 1719.4h3.13v8.7h-3.13zM566.8 1749.8h3.13v4.3h-3.13zM566.8 1771.5h3.13v8.7h-3.13zM566.8 1810.5h3.13v4.3h-3.13zM569.9 1309.2h3.13v5.7h-3.13zM569.9 1388.7h3.13v8.7h-3.13zM569.9 1432.1h3.13v17.4h-3.13zM569.9 1449.5h3.13v4.3h-3.13zM569.9 1471.2h3.13v26.1h-3.13zM569.9 1497.3h3.13v8.7h-3.13zM569.9 1506.0h3.13v13.0h-3.13zM569.9 1614.5h3.13v8.7h-3.13zM569.9 1788.2h3.13v13.0h-3.13zM569.9 1853.3h3.13v8.7h-3.13zM573.0 1309.2h3.13v16.4h-3.13zM573.0 1390.7h3.13v8.7h-3.13zM573.0 1455.9h3.13v17.4h-3.13zM573.0 1473.2h3.13v17.4h-3.13zM573.0 1516.7h3.13v4.3h-3.13zM573.0 1521.0h3.13v4.3h-3.13zM573.0 1699.0h3.13v8.7h-3.13zM573.0 1707.7h3.13v4.3h-3.13zM573.0 1738.1h3.13v4.3h-3.13zM573.0 1768.5h3.13v13.0h-3.13zM573.0 1838.0h3.13v4.3h-3.13zM573.0 1842.3h3.13v8.7h-3.13zM576.2 1320.7h3.13v26.1h-3.13zM576.2 1346.8h3.13v8.7h-3.13zM576.2 1390.2h3.13v4.3h-3.13zM576.2 1411.9h3.13v26.1h-3.13zM576.2 1468.4h3.13v8.7h-3.13zM576.2 1503.1h3.13v17.4h-3.13zM576.2 1546.5h3.13v8.7h-3.13zM576.2 1559.5h3.13v17.4h-3.13zM576.2 1607.3h3.13v26.1h-3.13zM576.2 1724.5h3.13v4.3h-3.13zM576.2 1728.9h3.13v4.3h-3.13zM576.2 1759.3h3.13v8.7h-3.13zM576.2 1768.0h3.13v8.7h-3.13zM576.2 1776.6h3.13v8.7h-3.13zM576.2 1785.3h3.13v8.7h-3.13zM576.2 1846.1h3.13v17.4h-3.13zM576.2 1863.5h3.13v1.5h-3.13zM579.3 1395.5h3.13v8.7h-3.13zM579.3 1521.4h3.13v8.7h-3.13zM579.3 1608.3h3.13v8.7h-3.13zM579.3 1617.0h3.13v17.4h-3.13zM579.3 1677.8h3.13v8.7h-3.13zM579.3 1751.6h3.13v13.0h-3.13zM579.3 1829.7h3.13v26.1h-3.13zM582.4 1368.2h3.13v13.0h-3.13zM582.4 1437.7h3.13v4.3h-3.13zM582.4 1442.0h3.13v26.1h-3.13zM582.4 1476.7h3.13v26.1h-3.13zM582.4 1546.2h3.13v8.7h-3.13zM582.4 1581.0h3.13v4.3h-3.13zM582.4 1637.4h3.13v13.0h-3.13zM582.4 1650.4h3.13v13.0h-3.13zM582.4 1685.2h3.13v8.7h-3.13zM582.4 1819.8h3.13v8.7h-3.13zM585.6 1314.3h3.13v8.7h-3.13zM585.6 1336.0h3.13v4.3h-3.13zM585.6 1349.0h3.13v4.3h-3.13zM585.6 1409.8h3.13v4.3h-3.13zM585.6 1466.3h3.13v26.1h-3.13zM585.6 1492.3h3.13v13.0h-3.13zM585.6 1535.8h3.13v13.0h-3.13zM585.6 1574.8h3.13v4.3h-3.13zM585.6 1600.9h3.13v4.3h-3.13zM585.6 1635.6h3.13v4.3h-3.13zM585.6 1718.1h3.13v4.3h-3.13zM585.6 1731.2h3.13v26.1h-3.13zM585.6 1787.6h3.13v8.7h-3.13zM585.6 1809.3h3.13v8.7h-3.13zM588.7 1324.8h3.13v4.3h-3.13zM588.7 1329.1h3.13v4.3h-3.13zM588.7 1355.2h3.13v17.4h-3.13zM588.7 1455.1h3.13v4.3h-3.13zM588.7 1533.2h3.13v4.3h-3.13zM588.7 1576.6h3.13v8.7h-3.13zM588.7 1589.7h3.13v8.7h-3.13zM588.7 1615.7h3.13v8.7h-3.13zM588.7 1680.9h3.13v8.7h-3.13zM588.7 1737.3h3.13v17.4h-3.13zM588.7 1785.1h3.13v4.3h-3.13zM588.7 1832.8h3.13v4.3h-3.13zM591.8 1312.1h3.13v4.3h-3.13zM591.8 1451.1h3.13v4.3h-3.13zM591.8 1455.4h3.13v4.3h-3.13zM591.8 1481.5h3.13v8.7h-3.13zM591.8 1490.2h3.13v8.7h-3.13zM591.8 1572.7h3.13v4.3h-3.13zM591.8 1585.7h3.13v4.3h-3.13zM591.8 1590.0h3.13v17.4h-3.13zM591.8 1685.6h3.13v4.3h-3.13zM591.8 1724.6h3.13v4.3h-3.13zM591.8 1729.0h3.13v13.0h-3.13zM591.8 1854.9h3.13v8.7h-3.13zM594.9 1326.5h3.13v17.4h-3.13zM594.9 1552.2h3.13v8.7h-3.13zM594.9 1656.5h3.13v4.3h-3.13zM594.9 1660.8h3.13v8.7h-3.13zM594.9 1686.9h3.13v4.3h-3.13zM594.9 1734.6h3.13v8.7h-3.13zM594.9 1752.0h3.13v17.4h-3.13zM594.9 1804.1h3.13v8.7h-3.13zM594.9 1825.8h3.13v17.4h-3.13zM598.1 1309.2h3.13v4.3h-3.13zM598.1 1335.2h3.13v17.4h-3.13zM598.1 1352.6h3.13v17.4h-3.13zM598.1 1370.0h3.13v4.3h-3.13zM598.1 1383.0h3.13v13.0h-3.13zM598.1 1443.8h3.13v4.3h-3.13zM598.1 1465.5h3.13v13.0h-3.13zM598.1 1513.2h3.13v4.3h-3.13zM598.1 1517.6h3.13v17.4h-3.13zM598.1 1548.0h3.13v8.7h-3.13zM598.1 1643.5h3.13v8.7h-3.13zM598.1 1652.2h3.13v8.7h-3.13zM598.1 1669.6h3.13v17.4h-3.13zM598.1 1730.4h3.13v26.1h-3.13zM598.1 1804.2h3.13v8.7h-3.13zM598.1 1856.3h3.13v4.3h-3.13zM598.1 1860.6h3.13v4.4h-3.13zM601.2 1360.0h3.13v26.1h-3.13zM601.2 1394.8h3.13v17.4h-3.13zM601.2 1412.1h3.13v8.7h-3.13zM601.2 1420.8h3.13v8.7h-3.13zM601.2 1520.7h3.13v8.7h-3.13zM601.2 1559.8h3.13v26.1h-3.13zM601.2 1724.8h3.13v8.7h-3.13zM601.2 1733.5h3.13v4.3h-3.13zM601.2 1798.6h3.13v4.3h-3.13zM601.2 1846.4h3.13v8.7h-3.13zM601.2 1855.1h3.13v8.7h-3.13zM604.3 1400.4h3.13v4.3h-3.13zM604.3 1482.9h3.13v17.4h-3.13zM604.3 1517.6h3.13v4.3h-3.13zM604.3 1578.4h3.13v4.3h-3.13zM604.3 1582.8h3.13v17.4h-3.13zM604.3 1600.1h3.13v13.0h-3.13zM604.3 1613.2h3.13v26.1h-3.13zM604.3 1687.0h3.13v13.0h-3.13zM604.3 1708.7h3.13v8.7h-3.13zM604.3 1773.8h3.13v26.1h-3.13zM604.3 1799.9h3.13v8.7h-3.13zM607.5 1311.1h3.13v8.7h-3.13zM607.5 1324.1h3.13v4.3h-3.13zM607.5 1328.4h3.13v8.7h-3.13zM607.5 1354.5h3.13v17.4h-3.13zM607.5 1441.3h3.13v26.1h-3.13zM607.5 1471.7h3.13v8.7h-3.13zM607.5 1528.2h3.13v4.3h-3.13zM607.5 1567.3h3.13v4.3h-3.13zM607.5 1580.3h3.13v8.7h-3.13zM607.5 1645.4h3.13v8.7h-3.13zM607.5 1662.8h3.13v8.7h-3.13zM607.5 1767.0h3.13v17.4h-3.13zM607.5 1793.0h3.13v17.4h-3.13zM607.5 1845.2h3.13v8.7h-3.13zM610.6 1380.8h3.13v8.7h-3.13zM610.6 1480.7h3.13v8.7h-3.13zM610.6 1532.8h3.13v4.3h-3.13zM610.6 1593.6h3.13v13.0h-3.13zM610.6 1632.6h3.13v26.1h-3.13zM610.6 1680.4h3.13v13.0h-3.13zM610.6 1693.4h3.13v17.4h-3.13zM610.6 1736.8h3.13v8.7h-3.13zM610.6 1819.3h3.13v4.3h-3.13zM613.7 1583.9h3.13v13.0h-3.13zM613.7 1618.6h3.13v8.7h-3.13zM613.7 1779.3h3.13v8.7h-3.13zM613.7 1835.7h3.13v17.4h-3.13zM616.8 1317.4h3.13v8.7h-3.13zM616.8 1352.1h3.13v8.7h-3.13zM616.8 1434.6h3.13v4.3h-3.13zM616.8 1465.0h3.13v17.4h-3.13zM616.8 1564.9h3.13v8.7h-3.13zM616.8 1630.0h3.13v4.3h-3.13zM616.8 1725.5h3.13v26.1h-3.13zM616.8 1751.6h3.13v13.0h-3.13zM620.0 1309.2h3.13v7.6h-3.13zM620.0 1421.0h3.13v8.7h-3.13zM620.0 1438.3h3.13v4.3h-3.13zM620.0 1447.0h3.13v8.7h-3.13zM620.0 1573.0h3.13v17.4h-3.13zM620.0 1677.2h3.13v4.3h-3.13zM620.0 1685.9h3.13v17.4h-3.13zM620.0 1781.4h3.13v26.1h-3.13zM620.0 1846.5h3.13v4.3h-3.13zM623.1 1309.2h3.13v2.4h-3.13zM623.1 1311.6h3.13v4.3h-3.13zM623.1 1350.7h3.13v26.1h-3.13zM623.1 1376.8h3.13v13.0h-3.13zM623.1 1433.2h3.13v8.7h-3.13zM623.1 1450.6h3.13v4.3h-3.13zM623.1 1459.3h3.13v4.3h-3.13zM623.1 1576.5h3.13v17.4h-3.13zM623.1 1641.6h3.13v4.3h-3.13zM623.1 1724.1h3.13v4.3h-3.13zM623.1 1750.2h3.13v4.3h-3.13zM623.1 1780.6h3.13v8.7h-3.13zM623.1 1850.1h3.13v13.0h-3.13zM626.2 1613.3h3.13v17.4h-3.13zM626.2 1630.6h3.13v8.7h-3.13zM626.2 1652.3h3.13v8.7h-3.13zM626.2 1713.1h3.13v13.0h-3.13zM626.2 1778.3h3.13v8.7h-3.13zM629.4 1309.2h3.13v7.2h-3.13zM629.4 1338.1h3.13v26.1h-3.13zM629.4 1542.1h3.13v4.3h-3.13zM629.4 1611.6h3.13v8.7h-3.13zM629.4 1620.3h3.13v26.1h-3.13zM629.4 1646.4h3.13v8.7h-3.13zM629.4 1767.9h3.13v17.4h-3.13zM629.4 1789.7h3.13v4.3h-3.13zM629.4 1824.4h3.13v4.3h-3.13zM632.5 1400.9h3.13v13.0h-3.13zM632.5 1413.9h3.13v4.3h-3.13zM632.5 1492.0h3.13v4.3h-3.13zM632.5 1513.8h3.13v4.3h-3.13zM632.5 1518.1h3.13v26.1h-3.13zM632.5 1544.1h3.13v8.7h-3.13zM632.5 1678.8h3.13v8.7h-3.13zM632.5 1691.8h3.13v4.3h-3.13zM632.5 1704.8h3.13v4.3h-3.13zM632.5 1791.7h3.13v8.7h-3.13zM632.5 1822.0h3.13v8.7h-3.13zM632.5 1830.7h3.13v17.4h-3.13zM635.6 1309.2h3.13v9.3h-3.13zM635.6 1409.7h3.13v4.3h-3.13zM635.6 1414.0h3.13v8.7h-3.13zM635.6 1435.7h3.13v4.3h-3.13zM635.6 1448.8h3.13v4.3h-3.13zM635.6 1487.8h3.13v8.7h-3.13zM635.6 1526.9h3.13v26.1h-3.13zM635.6 1561.7h3.13v26.1h-3.13zM635.6 1639.8h3.13v4.3h-3.13zM635.6 1644.2h3.13v4.3h-3.13zM635.6 1652.8h3.13v8.7h-3.13zM635.6 1691.9h3.13v8.7h-3.13zM635.6 1783.1h3.13v13.0h-3.13zM635.6 1852.6h3.13v4.3h-3.13zM638.8 1309.2h3.13v1.5h-3.13zM638.8 1310.7h3.13v8.7h-3.13zM638.8 1319.4h3.13v26.1h-3.13zM638.8 1436.6h3.13v17.4h-3.13zM638.8 1458.4h3.13v13.0h-3.13zM638.8 1510.5h3.13v4.3h-3.13zM638.8 1566.9h3.13v13.0h-3.13zM638.8 1588.6h3.13v13.0h-3.13zM638.8 1601.7h3.13v17.4h-3.13zM638.8 1619.0h3.13v4.3h-3.13zM638.8 1623.4h3.13v4.3h-3.13zM638.8 1684.2h3.13v8.7h-3.13zM638.8 1710.2h3.13v4.3h-3.13zM638.8 1740.6h3.13v8.7h-3.13zM638.8 1749.3h3.13v4.3h-3.13zM641.9 1320.2h3.13v8.7h-3.13zM641.9 1372.3h3.13v4.3h-3.13zM641.9 1446.1h3.13v8.7h-3.13zM641.9 1467.8h3.13v26.1h-3.13zM641.9 1589.4h3.13v26.1h-3.13zM641.9 1680.6h3.13v8.7h-3.13zM641.9 1719.6h3.13v17.4h-3.13zM641.9 1737.0h3.13v8.7h-3.13zM641.9 1845.6h3.13v19.4h-3.13zM645.0 1321.5h3.13v4.3h-3.13zM645.0 1451.7h3.13v13.0h-3.13zM645.0 1660.2h3.13v26.1h-3.13zM645.0 1716.6h3.13v26.1h-3.13zM645.0 1768.7h3.13v17.4h-3.13zM645.0 1799.1h3.13v4.3h-3.13zM645.0 1820.8h3.13v8.7h-3.13zM648.1 1359.0h3.13v8.7h-3.13zM648.1 1367.6h3.13v4.3h-3.13zM648.1 1376.3h3.13v4.3h-3.13zM648.1 1398.0h3.13v4.3h-3.13zM648.1 1419.7h3.13v4.3h-3.13zM648.1 1424.1h3.13v8.7h-3.13zM648.1 1502.2h3.13v8.7h-3.13zM648.1 1550.0h3.13v13.0h-3.13zM648.1 1667.2h3.13v8.7h-3.13zM648.1 1749.8h3.13v4.3h-3.13zM648.1 1762.8h3.13v17.4h-3.13zM648.1 1840.9h3.13v13.0h-3.13zM651.3 1316.9h3.13v4.3h-3.13zM651.3 1412.4h3.13v13.0h-3.13zM651.3 1477.6h3.13v4.3h-3.13zM651.3 1555.7h3.13v8.7h-3.13zM651.3 1581.8h3.13v26.1h-3.13zM651.3 1642.6h3.13v4.3h-3.13zM651.3 1716.4h3.13v8.7h-3.13zM651.3 1759.8h3.13v4.3h-3.13zM651.3 1764.1h3.13v26.1h-3.13zM651.3 1790.2h3.13v4.3h-3.13zM651.3 1820.6h3.13v4.3h-3.13zM651.3 1842.3h3.13v8.7h-3.13zM651.3 1859.7h3.13v5.3h-3.13zM654.4 1342.3h3.13v4.3h-3.13zM654.4 1368.4h3.13v8.7h-3.13zM654.4 1433.5h3.13v17.4h-3.13zM654.4 1490.0h3.13v13.0h-3.13zM654.4 1555.1h3.13v4.3h-3.13zM654.4 1707.1h3.13v8.7h-3.13zM654.4 1728.8h3.13v8.7h-3.13zM657.5 1373.4h3.13v13.0h-3.13zM657.5 1395.1h3.13v13.0h-3.13zM657.5 1451.6h3.13v4.3h-3.13zM657.5 1529.7h3.13v8.7h-3.13zM657.5 1538.4h3.13v26.1h-3.13zM657.5 1599.2h3.13v8.7h-3.13zM657.5 1625.3h3.13v8.7h-3.13zM657.5 1681.7h3.13v4.3h-3.13zM657.5 1720.8h3.13v4.3h-3.13zM657.5 1777.2h3.13v4.3h-3.13zM657.5 1794.6h3.13v8.7h-3.13zM657.5 1803.3h3.13v8.7h-3.13zM657.5 1812.0h3.13v8.7h-3.13zM660.7 1328.5h3.13v26.1h-3.13zM660.7 1402.4h3.13v8.7h-3.13zM660.7 1641.2h3.13v4.3h-3.13zM660.7 1728.0h3.13v8.7h-3.13zM660.7 1827.9h3.13v17.4h-3.13zM663.8 1309.2h3.13v6.3h-3.13zM663.8 1402.4h3.13v8.7h-3.13zM663.8 1411.1h3.13v26.1h-3.13zM663.8 1445.8h3.13v4.3h-3.13zM663.8 1502.2h3.13v4.3h-3.13zM663.8 1532.6h3.13v8.7h-3.13zM663.8 1580.4h3.13v4.3h-3.13zM663.8 1628.2h3.13v8.7h-3.13zM663.8 1675.9h3.13v13.0h-3.13zM663.8 1689.0h3.13v26.1h-3.13zM663.8 1780.1h3.13v4.3h-3.13zM663.8 1797.5h3.13v4.3h-3.13zM663.8 1858.3h3.13v4.3h-3.13zM666.9 1401.3h3.13v4.3h-3.13zM666.9 1405.6h3.13v8.7h-3.13zM666.9 1444.7h3.13v8.7h-3.13zM666.9 1596.7h3.13v26.1h-3.13zM666.9 1627.1h3.13v26.1h-3.13zM666.9 1687.9h3.13v4.3h-3.13zM666.9 1800.8h3.13v8.7h-3.13zM666.9 1818.1h3.13v4.3h-3.13zM670.0 1364.9h3.13v26.1h-3.13zM670.0 1456.1h3.13v8.7h-3.13zM670.0 1482.1h3.13v8.7h-3.13zM670.0 1516.9h3.13v13.0h-3.13zM670.0 1529.9h3.13v4.3h-3.13zM670.0 1564.6h3.13v17.4h-3.13zM670.0 1612.4h3.13v26.1h-3.13zM670.0 1638.5h3.13v8.7h-3.13zM670.0 1690.6h3.13v13.0h-3.13zM670.0 1747.0h3.13v8.7h-3.13zM670.0 1764.4h3.13v4.3h-3.13zM670.0 1768.7h3.13v4.3h-3.13zM670.0 1781.8h3.13v13.0h-3.13zM670.0 1794.8h3.13v4.3h-3.13zM670.0 1829.5h3.13v4.3h-3.13zM673.2 1373.9h3.13v17.4h-3.13zM673.2 1525.8h3.13v4.3h-3.13zM673.2 1591.0h3.13v13.0h-3.13zM673.2 1643.1h3.13v4.3h-3.13zM673.2 1647.4h3.13v8.7h-3.13zM673.2 1738.6h3.13v8.7h-3.13zM673.2 1747.3h3.13v8.7h-3.13zM673.2 1756.0h3.13v13.0h-3.13zM673.2 1769.0h3.13v8.7h-3.13zM673.2 1838.5h3.13v26.1h-3.13z" fill="#ffa030" opacity="0.12"/><path d="M81.8 1777.1h3.13v8.7h-3.13zM84.9 1510.0h3.13v4.3h-3.13zM84.9 1536.0h3.13v8.7h-3.13zM88.1 1456.9h3.13v8.7h-3.13zM88.1 1804.3h3.13v8.7h-3.13zM91.2 1692.1h3.13v13.0h-3.13zM94.3 1480.7h3.13v26.1h-3.13zM94.3 1854.1h3.13v8.7h-3.13zM97.4 1593.6h3.13v8.7h-3.13zM97.4 1710.8h3.13v4.3h-3.13zM100.6 1509.2h3.13v4.3h-3.13zM100.6 1648.2h3.13v8.7h-3.13zM103.7 1309.2h3.13v9.6h-3.13zM103.7 1531.5h3.13v17.4h-3.13zM103.7 1592.3h3.13v13.0h-3.13zM103.7 1779.1h3.13v4.3h-3.13zM106.8 1309.2h3.13v0.9h-3.13zM110.0 1479.4h3.13v8.7h-3.13zM110.0 1666.1h3.13v8.7h-3.13zM110.0 1674.8h3.13v26.1h-3.13zM110.0 1731.3h3.13v13.0h-3.13zM113.1 1399.8h3.13v4.3h-3.13zM113.1 1412.8h3.13v17.4h-3.13zM113.1 1434.5h3.13v26.1h-3.13zM113.1 1478.0h3.13v8.7h-3.13zM113.1 1703.8h3.13v4.3h-3.13zM113.1 1712.4h3.13v8.7h-3.13zM113.1 1751.5h3.13v13.0h-3.13zM116.2 1655.3h3.13v4.3h-3.13zM116.2 1737.9h3.13v8.7h-3.13zM116.2 1829.0h3.13v4.3h-3.13zM119.3 1398.2h3.13v4.3h-3.13zM119.3 1706.5h3.13v4.3h-3.13zM119.3 1793.4h3.13v8.7h-3.13zM122.5 1432.2h3.13v17.4h-3.13zM122.5 1653.7h3.13v8.7h-3.13zM122.5 1810.0h3.13v17.4h-3.13zM125.6 1354.2h3.13v4.3h-3.13zM125.6 1358.5h3.13v4.3h-3.13zM125.6 1510.5h3.13v17.4h-3.13zM125.6 1614.7h3.13v4.3h-3.13zM128.7 1845.4h3.13v13.0h-3.13zM131.9 1545.7h3.13v17.4h-3.13zM131.9 1676.0h3.13v8.7h-3.13zM131.9 1702.0h3.13v8.7h-3.13zM135.0 1392.2h3.13v8.7h-3.13zM135.0 1457.3h3.13v8.7h-3.13zM135.0 1552.9h3.13v4.3h-3.13zM135.0 1600.6h3.13v4.3h-3.13zM138.1 1426.9h3.13v4.3h-3.13zM138.1 1474.7h3.13v26.1h-3.13zM141.2 1423.3h3.13v8.7h-3.13zM141.2 1583.9h3.13v4.3h-3.13zM141.2 1649.1h3.13v17.4h-3.13zM141.2 1744.6h3.13v8.7h-3.13zM141.2 1814.1h3.13v8.7h-3.13zM144.4 1553.2h3.13v26.1h-3.13zM144.4 1596.6h3.13v8.7h-3.13zM144.4 1683.5h3.13v8.7h-3.13zM144.4 1696.5h3.13v13.0h-3.13zM147.5 1545.4h3.13v4.3h-3.13zM147.5 1836.3h3.13v4.3h-3.13zM150.6 1356.2h3.13v13.0h-3.13zM150.6 1408.3h3.13v4.3h-3.13zM150.6 1482.1h3.13v8.7h-3.13zM153.8 1447.8h3.13v4.3h-3.13zM153.8 1625.8h3.13v17.4h-3.13zM153.8 1760.4h3.13v8.7h-3.13zM153.8 1782.1h3.13v17.4h-3.13zM153.8 1816.8h3.13v8.7h-3.13zM156.9 1343.9h3.13v8.7h-3.13zM156.9 1387.4h3.13v8.7h-3.13zM156.9 1791.2h3.13v13.0h-3.13zM160.0 1346.5h3.13v13.0h-3.13zM160.0 1607.1h3.13v8.7h-3.13zM160.0 1667.9h3.13v8.7h-3.13zM163.2 1375.4h3.13v17.4h-3.13zM163.2 1418.8h3.13v8.7h-3.13zM163.2 1722.8h3.13v26.1h-3.13zM166.3 1503.1h3.13v4.3h-3.13zM169.4 1372.5h3.13v8.7h-3.13zM169.4 1381.2h3.13v13.0h-3.13zM172.5 1392.0h3.13v4.3h-3.13zM172.5 1639.5h3.13v13.0h-3.13zM172.5 1696.0h3.13v26.1h-3.13zM175.7 1482.7h3.13v8.7h-3.13zM175.7 1491.4h3.13v17.4h-3.13zM175.7 1712.9h3.13v8.7h-3.13zM175.7 1799.7h3.13v4.3h-3.13zM178.8 1561.2h3.13v26.1h-3.13zM178.8 1752.3h3.13v17.4h-3.13zM178.8 1817.4h3.13v26.1h-3.13zM181.9 1683.4h3.13v13.0h-3.13zM185.1 1357.0h3.13v17.4h-3.13zM185.1 1439.5h3.13v4.3h-3.13zM185.1 1443.8h3.13v8.7h-3.13zM185.1 1456.9h3.13v4.3h-3.13zM185.1 1500.3h3.13v4.3h-3.13zM185.1 1621.9h3.13v8.7h-3.13zM185.1 1630.6h3.13v4.3h-3.13zM185.1 1665.3h3.13v26.1h-3.13zM188.2 1459.1h3.13v17.4h-3.13zM188.2 1476.4h3.13v26.1h-3.13zM188.2 1572.0h3.13v8.7h-3.13zM188.2 1602.4h3.13v17.4h-3.13zM188.2 1637.1h3.13v4.3h-3.13zM194.4 1359.0h3.13v17.4h-3.13zM194.4 1710.7h3.13v8.7h-3.13zM194.4 1745.4h3.13v4.3h-3.13zM194.4 1801.9h3.13v4.3h-3.13zM200.7 1322.0h3.13v8.7h-3.13zM200.7 1417.5h3.13v26.1h-3.13zM200.7 1764.9h3.13v8.7h-3.13zM200.7 1786.6h3.13v17.4h-3.13zM200.7 1825.7h3.13v26.1h-3.13zM203.8 1372.0h3.13v4.3h-3.13zM203.8 1415.5h3.13v13.0h-3.13zM203.8 1702.0h3.13v4.3h-3.13zM207.0 1588.5h3.13v4.3h-3.13zM207.0 1640.6h3.13v4.3h-3.13zM207.0 1749.2h3.13v17.4h-3.13zM207.0 1792.6h3.13v4.3h-3.13zM210.1 1737.4h3.13v8.7h-3.13zM210.1 1811.3h3.13v17.4h-3.13zM213.2 1608.6h3.13v4.3h-3.13zM213.2 1665.0h3.13v26.1h-3.13zM216.3 1315.2h3.13v4.3h-3.13zM216.3 1336.9h3.13v8.7h-3.13zM216.3 1371.7h3.13v8.7h-3.13zM216.3 1406.4h3.13v4.3h-3.13zM216.3 1497.6h3.13v8.7h-3.13zM216.3 1614.8h3.13v8.7h-3.13zM216.3 1632.2h3.13v26.1h-3.13zM225.7 1825.4h3.13v13.0h-3.13zM228.9 1383.4h3.13v4.3h-3.13zM228.9 1426.8h3.13v4.3h-3.13zM228.9 1461.6h3.13v4.3h-3.13zM228.9 1518.0h3.13v8.7h-3.13zM228.9 1809.0h3.13v17.4h-3.13zM232.0 1309.2h3.13v10.8h-3.13zM232.0 1406.9h3.13v8.7h-3.13zM232.0 1576.2h3.13v8.7h-3.13zM232.0 1658.7h3.13v8.7h-3.13zM235.1 1399.5h3.13v8.7h-3.13zM235.1 1438.5h3.13v4.3h-3.13zM235.1 1490.7h3.13v4.3h-3.13zM235.1 1633.9h3.13v13.0h-3.13zM235.1 1746.8h3.13v8.7h-3.13zM241.4 1560.3h3.13v26.1h-3.13zM244.5 1618.9h3.13v8.7h-3.13zM244.5 1679.7h3.13v8.7h-3.13zM244.5 1688.4h3.13v26.1h-3.13zM244.5 1731.8h3.13v17.4h-3.13zM247.6 1422.2h3.13v4.3h-3.13zM247.6 1504.7h3.13v4.3h-3.13zM247.6 1621.9h3.13v4.3h-3.13zM247.6 1769.5h3.13v13.0h-3.13zM247.6 1812.9h3.13v4.3h-3.13zM247.6 1817.3h3.13v8.7h-3.13zM253.9 1359.9h3.13v8.7h-3.13zM253.9 1642.2h3.13v26.1h-3.13zM253.9 1811.5h3.13v4.3h-3.13zM257.0 1740.2h3.13v26.1h-3.13zM257.0 1783.6h3.13v4.3h-3.13zM260.1 1535.1h3.13v4.3h-3.13zM260.1 1795.7h3.13v8.7h-3.13zM260.1 1804.3h3.13v4.3h-3.13zM260.1 1843.4h3.13v8.7h-3.13zM263.3 1536.4h3.13v26.1h-3.13zM263.3 1658.0h3.13v8.7h-3.13zM263.3 1744.8h3.13v17.4h-3.13zM266.4 1409.4h3.13v17.4h-3.13zM266.4 1535.3h3.13v8.7h-3.13zM266.4 1700.3h3.13v8.7h-3.13zM269.5 1552.9h3.13v8.7h-3.13zM269.5 1778.7h3.13v4.3h-3.13zM269.5 1809.1h3.13v4.3h-3.13zM269.5 1826.5h3.13v26.1h-3.13zM272.7 1310.4h3.13v4.3h-3.13zM272.7 1423.3h3.13v26.1h-3.13zM272.7 1497.1h3.13v8.7h-3.13zM272.7 1770.7h3.13v4.3h-3.13zM275.8 1500.9h3.13v13.0h-3.13zM278.9 1422.7h3.13v8.7h-3.13zM278.9 1483.5h3.13v26.1h-3.13zM278.9 1718.0h3.13v8.7h-3.13zM282.1 1476.2h3.13v26.1h-3.13zM282.1 1502.2h3.13v26.1h-3.13zM282.1 1745.4h3.13v17.4h-3.13zM285.2 1479.3h3.13v4.3h-3.13zM285.2 1844.0h3.13v4.3h-3.13zM288.3 1309.4h3.13v17.4h-3.13zM288.3 1552.5h3.13v17.4h-3.13zM288.3 1622.0h3.13v8.7h-3.13zM288.3 1665.4h3.13v4.3h-3.13zM291.4 1325.4h3.13v8.7h-3.13zM291.4 1572.9h3.13v17.4h-3.13zM291.4 1724.9h3.13v4.3h-3.13zM294.6 1680.9h3.13v8.7h-3.13zM297.7 1372.6h3.13v17.4h-3.13zM297.7 1403.0h3.13v4.3h-3.13zM297.7 1772.0h3.13v13.0h-3.13zM300.8 1722.3h3.13v8.7h-3.13zM300.8 1817.8h3.13v8.7h-3.13zM300.8 1826.5h3.13v4.3h-3.13zM304.0 1392.3h3.13v8.7h-3.13zM304.0 1401.0h3.13v4.3h-3.13zM304.0 1861.3h3.13v3.7h-3.13zM307.1 1463.9h3.13v17.4h-3.13zM307.1 1555.1h3.13v8.7h-3.13zM307.1 1806.9h3.13v4.3h-3.13zM310.2 1367.2h3.13v17.4h-3.13zM310.2 1797.1h3.13v8.7h-3.13zM310.2 1844.9h3.13v4.3h-3.13zM313.3 1405.9h3.13v8.7h-3.13zM316.5 1408.1h3.13v26.1h-3.13zM316.5 1829.3h3.13v8.7h-3.13zM319.6 1431.6h3.13v13.0h-3.13zM319.6 1631.3h3.13v4.3h-3.13zM319.6 1661.7h3.13v26.1h-3.13zM319.6 1805.0h3.13v4.3h-3.13zM322.7 1434.4h3.13v26.1h-3.13zM322.7 1582.0h3.13v26.1h-3.13zM322.7 1799.1h3.13v4.3h-3.13zM322.7 1829.5h3.13v8.7h-3.13zM322.7 1838.2h3.13v8.7h-3.13zM325.9 1366.4h3.13v8.7h-3.13zM325.9 1418.5h3.13v8.7h-3.13zM325.9 1435.9h3.13v4.3h-3.13zM325.9 1440.2h3.13v4.3h-3.13zM325.9 1474.9h3.13v4.3h-3.13zM325.9 1631.3h3.13v26.1h-3.13zM325.9 1839.7h3.13v13.0h-3.13zM329.0 1671.8h3.13v26.1h-3.13zM329.0 1706.5h3.13v8.7h-3.13zM329.0 1758.6h3.13v13.0h-3.13zM329.0 1832.4h3.13v4.3h-3.13zM332.1 1309.2h3.13v0.4h-3.13zM332.1 1314.0h3.13v8.7h-3.13zM332.1 1431.2h3.13v13.0h-3.13zM332.1 1665.7h3.13v4.3h-3.13zM332.1 1739.5h3.13v8.7h-3.13zM332.1 1791.6h3.13v8.7h-3.13zM332.1 1822.0h3.13v17.4h-3.13zM338.4 1720.4h3.13v4.3h-3.13zM338.4 1759.5h3.13v4.3h-3.13zM341.5 1331.5h3.13v8.7h-3.13zM341.5 1466.2h3.13v8.7h-3.13zM341.5 1644.2h3.13v4.3h-3.13zM341.5 1748.4h3.13v4.3h-3.13zM344.6 1354.0h3.13v4.3h-3.13zM344.6 1388.7h3.13v8.7h-3.13zM344.6 1545.1h3.13v4.3h-3.13zM344.6 1575.5h3.13v8.7h-3.13zM344.6 1584.1h3.13v26.1h-3.13zM344.6 1714.4h3.13v4.3h-3.13zM347.8 1509.8h3.13v8.7h-3.13zM347.8 1540.2h3.13v8.7h-3.13zM347.8 1783.3h3.13v4.3h-3.13zM347.8 1831.1h3.13v4.3h-3.13zM350.9 1493.9h3.13v17.4h-3.13zM350.9 1663.2h3.13v26.1h-3.13zM350.9 1728.4h3.13v17.4h-3.13zM354.0 1310.8h3.13v26.1h-3.13zM354.0 1436.7h3.13v8.7h-3.13zM354.0 1610.4h3.13v8.7h-3.13zM354.0 1779.7h3.13v13.0h-3.13zM357.1 1736.8h3.13v8.7h-3.13zM360.3 1362.6h3.13v8.7h-3.13zM360.3 1371.3h3.13v26.1h-3.13zM360.3 1692.6h3.13v8.7h-3.13zM360.3 1801.2h3.13v4.3h-3.13zM363.4 1371.3h3.13v26.1h-3.13zM363.4 1445.2h3.13v4.3h-3.13zM363.4 1670.9h3.13v4.3h-3.13zM363.4 1753.4h3.13v26.1h-3.13zM366.5 1314.8h3.13v13.0h-3.13zM366.5 1405.9h3.13v8.7h-3.13zM366.5 1531.9h3.13v4.3h-3.13zM366.5 1536.2h3.13v4.3h-3.13zM366.5 1557.9h3.13v26.1h-3.13zM366.5 1696.9h3.13v4.3h-3.13zM366.5 1757.7h3.13v13.0h-3.13zM369.7 1309.2h3.13v11.1h-3.13zM369.7 1363.7h3.13v13.0h-3.13zM369.7 1446.2h3.13v4.3h-3.13zM369.7 1450.5h3.13v4.3h-3.13zM369.7 1754.5h3.13v8.7h-3.13zM369.7 1815.3h3.13v8.7h-3.13zM372.8 1510.4h3.13v26.1h-3.13zM372.8 1566.9h3.13v4.3h-3.13zM372.8 1588.6h3.13v8.7h-3.13zM372.8 1810.0h3.13v4.3h-3.13zM372.8 1853.5h3.13v4.3h-3.13zM375.9 1356.5h3.13v4.3h-3.13zM375.9 1452.0h3.13v4.3h-3.13zM375.9 1504.1h3.13v13.0h-3.13zM375.9 1543.2h3.13v4.3h-3.13zM375.9 1651.7h3.13v17.4h-3.13zM375.9 1673.4h3.13v17.4h-3.13zM375.9 1808.0h3.13v8.7h-3.13zM379.1 1383.0h3.13v17.4h-3.13zM382.2 1426.1h3.13v13.0h-3.13zM385.3 1316.8h3.13v4.3h-3.13zM385.3 1425.4h3.13v17.4h-3.13zM385.3 1525.2h3.13v17.4h-3.13zM385.3 1573.0h3.13v4.3h-3.13zM385.3 1781.4h3.13v4.3h-3.13zM388.4 1343.8h3.13v8.7h-3.13zM388.4 1417.6h3.13v4.3h-3.13zM388.4 1482.7h3.13v8.7h-3.13zM388.4 1521.8h3.13v4.3h-3.13zM391.6 1684.4h3.13v8.7h-3.13zM391.6 1719.1h3.13v26.1h-3.13zM394.7 1430.4h3.13v13.0h-3.13zM394.7 1504.2h3.13v13.0h-3.13zM394.7 1517.2h3.13v4.3h-3.13zM394.7 1556.3h3.13v26.1h-3.13zM394.7 1808.1h3.13v17.4h-3.13zM397.8 1321.7h3.13v4.3h-3.13zM397.8 1417.2h3.13v8.7h-3.13zM397.8 1438.9h3.13v13.0h-3.13zM397.8 1768.9h3.13v8.7h-3.13zM401.0 1477.0h3.13v4.3h-3.13zM401.0 1850.5h3.13v8.7h-3.13zM404.1 1309.2h3.13v13.1h-3.13zM407.2 1309.2h3.13v5.1h-3.13zM407.2 1570.5h3.13v8.7h-3.13zM407.2 1683.4h3.13v13.0h-3.13zM407.2 1700.8h3.13v17.4h-3.13zM410.3 1629.7h3.13v4.3h-3.13zM410.3 1660.1h3.13v8.7h-3.13zM413.5 1519.9h3.13v8.7h-3.13zM413.5 1750.0h3.13v8.7h-3.13zM416.6 1549.4h3.13v4.3h-3.13zM419.7 1325.9h3.13v8.7h-3.13zM419.7 1334.5h3.13v4.3h-3.13zM419.7 1543.0h3.13v4.3h-3.13zM419.7 1781.8h3.13v4.3h-3.13zM422.9 1420.8h3.13v4.3h-3.13zM422.9 1538.0h3.13v26.1h-3.13zM422.9 1776.8h3.13v17.4h-3.13zM422.9 1807.2h3.13v8.7h-3.13zM426.0 1325.1h3.13v26.1h-3.13zM426.0 1563.9h3.13v8.7h-3.13zM426.0 1763.7h3.13v8.7h-3.13zM429.1 1475.6h3.13v8.7h-3.13zM429.1 1523.4h3.13v4.3h-3.13zM429.1 1540.7h3.13v4.3h-3.13zM429.1 1658.0h3.13v8.7h-3.13zM432.2 1327.9h3.13v8.7h-3.13zM432.2 1358.3h3.13v17.4h-3.13zM435.4 1534.1h3.13v4.3h-3.13zM435.4 1573.2h3.13v26.1h-3.13zM438.5 1500.1h3.13v13.0h-3.13zM438.5 1817.1h3.13v4.3h-3.13zM441.6 1400.4h3.13v13.0h-3.13zM441.6 1769.4h3.13v8.7h-3.13zM444.8 1361.5h3.13v8.7h-3.13zM444.8 1704.5h3.13v4.3h-3.13zM444.8 1726.2h3.13v4.3h-3.13zM444.8 1787.0h3.13v4.3h-3.13zM447.9 1560.4h3.13v26.1h-3.13zM447.9 1647.3h3.13v17.4h-3.13zM451.0 1342.2h3.13v4.3h-3.13zM451.0 1368.3h3.13v8.7h-3.13zM451.0 1407.4h3.13v26.1h-3.13zM451.0 1576.7h3.13v8.7h-3.13zM451.0 1780.8h3.13v17.4h-3.13zM454.1 1425.6h3.13v4.3h-3.13zM454.1 1451.7h3.13v8.7h-3.13zM454.1 1751.3h3.13v8.7h-3.13zM457.3 1567.6h3.13v4.3h-3.13zM457.3 1650.1h3.13v4.3h-3.13zM460.4 1508.7h3.13v13.0h-3.13zM460.4 1547.7h3.13v4.3h-3.13zM460.4 1560.8h3.13v17.4h-3.13zM460.4 1769.2h3.13v4.3h-3.13zM463.5 1394.7h3.13v8.7h-3.13zM463.5 1598.8h3.13v8.7h-3.13zM463.5 1663.9h3.13v8.7h-3.13zM466.7 1731.8h3.13v8.7h-3.13zM466.7 1818.6h3.13v8.7h-3.13zM469.8 1350.0h3.13v8.7h-3.13zM469.8 1532.4h3.13v13.0h-3.13zM469.8 1614.9h3.13v4.3h-3.13zM472.9 1309.2h3.13v1.4h-3.13zM472.9 1614.5h3.13v4.3h-3.13zM472.9 1823.0h3.13v4.3h-3.13zM476.0 1402.1h3.13v8.7h-3.13zM476.0 1536.7h3.13v17.4h-3.13zM476.0 1701.7h3.13v4.3h-3.13zM476.0 1771.1h3.13v17.4h-3.13zM482.3 1365.9h3.13v4.3h-3.13zM482.3 1604.7h3.13v4.3h-3.13zM485.4 1366.5h3.13v8.7h-3.13zM485.4 1496.8h3.13v4.3h-3.13zM485.4 1618.3h3.13v4.3h-3.13zM488.6 1408.3h3.13v8.7h-3.13zM491.7 1439.2h3.13v17.4h-3.13zM491.7 1456.5h3.13v4.3h-3.13zM491.7 1656.3h3.13v26.1h-3.13zM491.7 1747.5h3.13v8.7h-3.13zM494.8 1468.3h3.13v4.3h-3.13zM494.8 1715.8h3.13v26.1h-3.13zM494.8 1767.9h3.13v17.4h-3.13zM494.8 1820.0h3.13v8.7h-3.13zM497.9 1533.7h3.13v8.7h-3.13zM497.9 1746.5h3.13v26.1h-3.13zM501.1 1463.9h3.13v8.7h-3.13zM501.1 1529.0h3.13v8.7h-3.13zM501.1 1707.0h3.13v8.7h-3.13zM504.2 1309.5h3.13v8.7h-3.13zM504.2 1470.1h3.13v4.3h-3.13zM504.2 1852.2h3.13v4.3h-3.13zM504.2 1856.6h3.13v8.4h-3.13zM507.3 1372.1h3.13v26.1h-3.13zM507.3 1398.2h3.13v8.7h-3.13zM510.5 1312.3h3.13v4.3h-3.13zM510.5 1425.2h3.13v17.4h-3.13zM510.5 1620.6h3.13v4.3h-3.13zM510.5 1672.7h3.13v4.3h-3.13zM513.6 1383.1h3.13v8.7h-3.13zM513.6 1656.7h3.13v8.7h-3.13zM516.7 1360.9h3.13v4.3h-3.13zM516.7 1508.6h3.13v8.7h-3.13zM516.7 1669.2h3.13v4.3h-3.13zM519.9 1706.0h3.13v8.7h-3.13zM519.9 1758.1h3.13v4.3h-3.13zM523.0 1355.8h3.13v4.3h-3.13zM523.0 1520.8h3.13v4.3h-3.13zM526.1 1619.4h3.13v4.3h-3.13zM529.2 1429.1h3.13v13.0h-3.13zM529.2 1481.2h3.13v4.3h-3.13zM532.4 1411.9h3.13v26.1h-3.13zM532.4 1772.3h3.13v4.3h-3.13zM532.4 1794.0h3.13v4.3h-3.13zM535.5 1392.4h3.13v4.3h-3.13zM538.6 1407.6h3.13v4.3h-3.13zM538.6 1629.0h3.13v4.3h-3.13zM538.6 1681.2h3.13v4.3h-3.13zM541.8 1356.1h3.13v17.4h-3.13zM541.8 1764.3h3.13v13.0h-3.13zM544.9 1393.7h3.13v8.7h-3.13zM544.9 1437.1h3.13v17.4h-3.13zM544.9 1454.4h3.13v4.3h-3.13zM544.9 1693.3h3.13v4.3h-3.13zM544.9 1806.2h3.13v13.0h-3.13zM548.0 1431.1h3.13v4.3h-3.13zM548.0 1774.1h3.13v4.3h-3.13zM551.1 1750.4h3.13v8.7h-3.13zM551.1 1806.9h3.13v8.7h-3.13zM554.3 1513.3h3.13v8.7h-3.13zM557.4 1340.7h3.13v8.7h-3.13zM557.4 1405.9h3.13v4.3h-3.13zM557.4 1766.3h3.13v13.0h-3.13zM557.4 1831.4h3.13v13.0h-3.13zM560.5 1372.7h3.13v4.3h-3.13zM560.5 1537.7h3.13v8.7h-3.13zM560.5 1728.8h3.13v4.3h-3.13zM563.7 1372.6h3.13v8.7h-3.13zM563.7 1550.6h3.13v26.1h-3.13zM563.7 1780.7h3.13v4.3h-3.13zM566.8 1506.6h3.13v13.0h-3.13zM566.8 1680.3h3.13v4.3h-3.13zM566.8 1684.6h3.13v4.3h-3.13zM569.9 1801.2h3.13v8.7h-3.13zM573.0 1399.4h3.13v4.3h-3.13zM573.0 1525.3h3.13v4.3h-3.13zM573.0 1564.4h3.13v4.3h-3.13zM573.0 1859.7h3.13v4.3h-3.13zM576.2 1650.7h3.13v17.4h-3.13zM576.2 1733.2h3.13v17.4h-3.13zM576.2 1811.4h3.13v26.1h-3.13zM579.3 1360.8h3.13v4.3h-3.13zM582.4 1572.3h3.13v8.7h-3.13zM582.4 1672.1h3.13v13.0h-3.13zM585.6 1392.5h3.13v4.3h-3.13zM585.6 1579.2h3.13v4.3h-3.13zM585.6 1796.3h3.13v4.3h-3.13zM585.6 1844.1h3.13v8.7h-3.13zM588.7 1309.2h3.13v6.9h-3.13zM588.7 1528.9h3.13v4.3h-3.13zM588.7 1546.3h3.13v13.0h-3.13zM588.7 1650.5h3.13v4.3h-3.13zM591.8 1425.0h3.13v13.0h-3.13zM591.8 1477.1h3.13v4.3h-3.13zM591.8 1529.2h3.13v4.3h-3.13zM591.8 1672.5h3.13v8.7h-3.13zM591.8 1689.9h3.13v8.7h-3.13zM594.9 1322.1h3.13v4.3h-3.13zM594.9 1495.8h3.13v26.1h-3.13zM594.9 1691.2h3.13v8.7h-3.13zM598.1 1313.5h3.13v13.0h-3.13zM598.1 1326.5h3.13v8.7h-3.13zM598.1 1396.0h3.13v8.7h-3.13zM598.1 1600.1h3.13v4.3h-3.13zM598.1 1613.1h3.13v8.7h-3.13zM598.1 1634.8h3.13v8.7h-3.13zM601.2 1664.0h3.13v4.3h-3.13zM604.3 1543.7h3.13v8.7h-3.13zM607.5 1693.2h3.13v4.3h-3.13zM610.6 1406.8h3.13v8.7h-3.13zM610.6 1771.6h3.13v4.3h-3.13zM613.7 1861.8h3.13v3.2h-3.13zM616.8 1621.3h3.13v8.7h-3.13zM616.8 1673.4h3.13v26.1h-3.13zM620.0 1355.8h3.13v4.3h-3.13zM620.0 1394.9h3.13v26.1h-3.13zM620.0 1538.2h3.13v8.7h-3.13zM623.1 1524.4h3.13v8.7h-3.13zM623.1 1533.1h3.13v17.4h-3.13zM626.2 1309.2h3.13v0.1h-3.13zM626.2 1313.6h3.13v4.3h-3.13zM626.2 1413.5h3.13v8.7h-3.13zM626.2 1561.1h3.13v26.1h-3.13zM626.2 1639.3h3.13v8.7h-3.13zM626.2 1648.0h3.13v4.3h-3.13zM626.2 1678.4h3.13v4.3h-3.13zM626.2 1800.0h3.13v4.3h-3.13zM629.4 1411.9h3.13v13.0h-3.13zM629.4 1472.7h3.13v8.7h-3.13zM629.4 1555.2h3.13v13.0h-3.13zM629.4 1754.9h3.13v8.7h-3.13zM629.4 1763.6h3.13v4.3h-3.13zM632.5 1370.5h3.13v4.3h-3.13zM632.5 1761.3h3.13v4.3h-3.13zM635.6 1809.2h3.13v17.4h-3.13zM638.8 1658.1h3.13v8.7h-3.13zM638.8 1714.5h3.13v17.4h-3.13zM638.8 1818.8h3.13v4.3h-3.13zM645.0 1343.2h3.13v8.7h-3.13zM645.0 1399.6h3.13v13.0h-3.13zM645.0 1503.8h3.13v26.1h-3.13zM648.1 1432.8h3.13v4.3h-3.13zM648.1 1693.3h3.13v13.0h-3.13zM651.3 1616.5h3.13v4.3h-3.13zM651.3 1703.3h3.13v13.0h-3.13zM651.3 1733.7h3.13v26.1h-3.13zM654.4 1598.5h3.13v8.7h-3.13zM654.4 1641.9h3.13v8.7h-3.13zM654.4 1863.4h3.13v1.6h-3.13zM660.7 1354.6h3.13v8.7h-3.13zM660.7 1367.6h3.13v26.1h-3.13zM660.7 1702.0h3.13v13.0h-3.13zM663.8 1545.7h3.13v8.7h-3.13zM663.8 1606.5h3.13v17.4h-3.13zM663.8 1784.5h3.13v4.3h-3.13zM663.8 1832.3h3.13v8.7h-3.13zM663.8 1862.6h3.13v2.4h-3.13zM666.9 1496.8h3.13v4.3h-3.13zM666.9 1561.9h3.13v4.3h-3.13zM666.9 1566.3h3.13v8.7h-3.13zM666.9 1588.0h3.13v4.3h-3.13zM670.0 1309.2h3.13v7.9h-3.13zM670.0 1425.7h3.13v8.7h-3.13zM670.0 1443.1h3.13v8.7h-3.13zM670.0 1773.1h3.13v8.7h-3.13zM673.2 1391.2h3.13v4.3h-3.13zM673.2 1434.7h3.13v8.7h-3.13zM673.2 1517.2h3.13v8.7h-3.13zM673.2 1551.9h3.13v4.3h-3.13zM673.2 1569.3h3.13v4.3h-3.13zM673.2 1573.6h3.13v17.4h-3.13zM673.2 1621.4h3.13v8.7h-3.13z" fill="#ffa030" opacity="0.28"/></g><rect x="81.8" y="1309.2" width="594.5" height="555.8" filter="url(#noise_d)" opacity="0.22"/><rect x="81.8" y="1309.2" width="594.5" height="555.8" filter="url(#noise_l)" opacity="0.22"/>
</g>
<line x1="559.5" y1="1337.3" x2="559.5" y2="1864" stroke="#0a0aff" stroke-width="6.6" stroke-dasharray="26.4 36.6" stroke-linecap="round"/>
<rect x="81.8" y="1309.2" width="594.5" height="555.8" fill="none" stroke="#000" stroke-width="1.6"/>
<line x1="81.8" y1="1865" x2="81.8" y2="1876.5" stroke="#000" stroke-width="1.6"/>
<line x1="156.11" y1="1865" x2="156.11" y2="1872" stroke="#000" stroke-width="1.6"/>
<line x1="230.43" y1="1865" x2="230.43" y2="1876.5" stroke="#000" stroke-width="1.6"/>
<line x1="304.74" y1="1865" x2="304.74" y2="1872" stroke="#000" stroke-width="1.6"/>
<line x1="379.05" y1="1865" x2="379.05" y2="1876.5" stroke="#000" stroke-width="1.6"/>
<line x1="453.36" y1="1865" x2="453.36" y2="1872" stroke="#000" stroke-width="1.6"/>
<line x1="527.67" y1="1865" x2="527.67" y2="1876.5" stroke="#000" stroke-width="1.6"/>
<line x1="601.99" y1="1865" x2="601.99" y2="1872" stroke="#000" stroke-width="1.6"/>
<line x1="676.3" y1="1865" x2="676.3" y2="1876.5" stroke="#000" stroke-width="1.6"/>
<line x1="70.3" y1="1865" x2="81.8" y2="1865" stroke="#000" stroke-width="1.6"/>
<line x1="74.8" y1="1795.53" x2="81.8" y2="1795.53" stroke="#000" stroke-width="1.6"/>
<line x1="70.3" y1="1726.05" x2="81.8" y2="1726.05" stroke="#000" stroke-width="1.6"/>
<line x1="74.8" y1="1656.58" x2="81.8" y2="1656.58" stroke="#000" stroke-width="1.6"/>
<line x1="70.3" y1="1587.1" x2="81.8" y2="1587.1" stroke="#000" stroke-width="1.6"/>
<line x1="74.8" y1="1517.62" x2="81.8" y2="1517.62" stroke="#000" stroke-width="1.6"/>
<line x1="70.3" y1="1448.15" x2="81.8" y2="1448.15" stroke="#000" stroke-width="1.6"/>
<line x1="74.8" y1="1378.68" x2="81.8" y2="1378.68" stroke="#000" stroke-width="1.6"/>
<line x1="70.3" y1="1309.2" x2="81.8" y2="1309.2" stroke="#000" stroke-width="1.6"/>
<text class="ss" transform="translate(63.7 1877.7) scale(0.920 1)" font-size="45" text-anchor="end" stroke="#000" stroke-width="0.2">0.0</text>
<text class="ss" transform="translate(63.7 1737.45) scale(0.920 1)" font-size="45" text-anchor="end" stroke="#000" stroke-width="0.2">0.5</text>
<text class="ss" transform="translate(63.7 1599.1) scale(0.920 1)" font-size="45" text-anchor="end" stroke="#000" stroke-width="0.2">1.0</text>
<text class="ss" transform="translate(63.7 1460.15) scale(0.920 1)" font-size="45" text-anchor="end" stroke="#000" stroke-width="0.2">1.5</text>
<text class="ss" transform="translate(63.7 1321.2) scale(0.920 1)" font-size="45" text-anchor="end" stroke="#000" stroke-width="0.2">2.0</text>
<text class="ss" transform="translate(80.9 1919) scale(0.975 1)" font-size="45" text-anchor="middle" stroke="#000" stroke-width="0.2">0.0</text>
<text class="ss" transform="translate(229.03 1919) scale(0.975 1)" font-size="45" text-anchor="middle" stroke="#000" stroke-width="0.2">0.5</text>
<text class="ss" transform="translate(379.05 1919) scale(0.975 1)" font-size="45" text-anchor="middle" stroke="#000" stroke-width="0.2">1.0</text>
<text class="ss" transform="translate(527.67 1919) scale(0.975 1)" font-size="45" text-anchor="middle" stroke="#000" stroke-width="0.2">1.5</text>
<text class="ss" transform="translate(676.3 1919) scale(0.975 1)" font-size="45" text-anchor="middle" stroke="#000" stroke-width="0.2">2.0</text>
<text class="ss" transform="translate(125.2 1915.7) scale(1.030 1)" font-size="43.5" stroke="#000" stroke-width="0.2">μm</text>
<text class="ss" transform="translate(45.9 1827) rotate(-90)" font-size="45" stroke="#000" stroke-width="0.2">μm</text>
<text class="sf" transform="translate(93.4 1376.7) scale(1.070 1)" font-size="62" fill="#fff" stroke="#fff" stroke-width="0.15">(e)</text>
<rect x="688.4" y="1308.4" width="52.4" height="389.1" fill="url(#cb_e)"/>
<text class="ss" transform="translate(749 1325.1) scale(1.030 1)" font-size="38" stroke="#000" stroke-width="0.2">0.03</text>
<text class="ss" transform="translate(749 1706.7) scale(1.020 1)" font-size="38" stroke="#000" stroke-width="0.2">0</text>
</g>
<g id="panel-b">
<rect x="999.6" y="34.5" width="615.4" height="529.3" fill="none" stroke="#000" stroke-width="1.5"/>
<line x1="999.6" y1="563.8" x2="999.6" y2="574.8" stroke="#000" stroke-width="1.5"/>
<line x1="1076.53" y1="563.8" x2="1076.53" y2="569.3" stroke="#000" stroke-width="1.5"/>
<line x1="1076.53" y1="34.5" x2="1076.53" y2="40" stroke="#000" stroke-width="1.5"/>
<line x1="1153.45" y1="563.8" x2="1153.45" y2="574.8" stroke="#000" stroke-width="1.5"/>
<line x1="1153.45" y1="34.5" x2="1153.45" y2="45.5" stroke="#000" stroke-width="1.5"/>
<line x1="1230.38" y1="563.8" x2="1230.38" y2="569.3" stroke="#000" stroke-width="1.5"/>
<line x1="1230.38" y1="34.5" x2="1230.38" y2="40" stroke="#000" stroke-width="1.5"/>
<line x1="1307.3" y1="563.8" x2="1307.3" y2="574.8" stroke="#000" stroke-width="1.5"/>
<line x1="1307.3" y1="34.5" x2="1307.3" y2="45.5" stroke="#000" stroke-width="1.5"/>
<line x1="1384.22" y1="563.8" x2="1384.22" y2="569.3" stroke="#000" stroke-width="1.5"/>
<line x1="1384.22" y1="34.5" x2="1384.22" y2="40" stroke="#000" stroke-width="1.5"/>
<line x1="1461.15" y1="563.8" x2="1461.15" y2="574.8" stroke="#000" stroke-width="1.5"/>
<line x1="1461.15" y1="34.5" x2="1461.15" y2="45.5" stroke="#000" stroke-width="1.5"/>
<line x1="1538.08" y1="563.8" x2="1538.08" y2="569.3" stroke="#000" stroke-width="1.5"/>
<line x1="1538.08" y1="34.5" x2="1538.08" y2="40" stroke="#000" stroke-width="1.5"/>
<line x1="1615" y1="563.8" x2="1615" y2="574.8" stroke="#000" stroke-width="1.5"/>
<line x1="989.6" y1="563.8" x2="999.6" y2="563.8" stroke="#000" stroke-width="1.5"/>
<line x1="994.6" y1="497.64" x2="999.6" y2="497.64" stroke="#000" stroke-width="1.5"/>
<line x1="1610" y1="497.64" x2="1615" y2="497.64" stroke="#000" stroke-width="1.5"/>
<line x1="989.6" y1="431.47" x2="999.6" y2="431.47" stroke="#000" stroke-width="1.5"/>
<line x1="1605" y1="431.47" x2="1615" y2="431.47" stroke="#000" stroke-width="1.5"/>
<line x1="994.6" y1="365.31" x2="999.6" y2="365.31" stroke="#000" stroke-width="1.5"/>
<line x1="1610" y1="365.31" x2="1615" y2="365.31" stroke="#000" stroke-width="1.5"/>
<line x1="989.6" y1="299.15" x2="999.6" y2="299.15" stroke="#000" stroke-width="1.5"/>
<line x1="1605" y1="299.15" x2="1615" y2="299.15" stroke="#000" stroke-width="1.5"/>
<line x1="994.6" y1="232.99" x2="999.6" y2="232.99" stroke="#000" stroke-width="1.5"/>
<line x1="1610" y1="232.99" x2="1615" y2="232.99" stroke="#000" stroke-width="1.5"/>
<line x1="989.6" y1="166.82" x2="999.6" y2="166.82" stroke="#000" stroke-width="1.5"/>
<line x1="1605" y1="166.82" x2="1615" y2="166.82" stroke="#000" stroke-width="1.5"/>
<line x1="994.6" y1="100.66" x2="999.6" y2="100.66" stroke="#000" stroke-width="1.5"/>
<line x1="1610" y1="100.66" x2="1615" y2="100.66" stroke="#000" stroke-width="1.5"/>
<line x1="989.6" y1="34.5" x2="999.6" y2="34.5" stroke="#000" stroke-width="1.5"/>
<text class="ss" transform="translate(982.6 576.8) scale(0.880 1)" font-size="44.9" text-anchor="end">-0.10</text>
<text class="ss" transform="translate(982.6 444.47) scale(0.880 1)" font-size="44.9" text-anchor="end">-0.06</text>
<text class="ss" transform="translate(982.6 312.15) scale(0.880 1)" font-size="44.9" text-anchor="end">-0.02</text>
<text class="ss" transform="translate(982.6 179.82) scale(0.880 1)" font-size="44.9" text-anchor="end">0.02</text>
<text class="ss" transform="translate(982.6 47.5) scale(0.880 1)" font-size="44.9" text-anchor="end">0.06</text>
<text class="ss" transform="translate(999.6 615.8) scale(0.855 1)" font-size="44.9" text-anchor="middle">0.0</text>
<text class="ss" transform="translate(1153.45 615.8) scale(0.855 1)" font-size="44.9" text-anchor="middle">0.5</text>
<text class="ss" transform="translate(1307.3 615.8) scale(0.855 1)" font-size="44.9" text-anchor="middle">1.0</text>
<text class="ss" transform="translate(1461.15 615.8) scale(0.855 1)" font-size="44.9" text-anchor="middle">1.5</text>
<text class="ss" transform="translate(1615 615.8) scale(0.855 1)" font-size="44.9" text-anchor="middle">2.0</text>
<text class="ss" transform="translate(1052.7 612) scale(0.945 1)" font-size="44">μm</text>
<text class="ss" transform="translate(956.2 522) rotate(-90) scale(0.965 1)" font-size="43.6">μm</text>
<text class="sf" transform="translate(1006.5 85.5) scale(1.080 1)" font-size="61.5">(b)</text>
<path d="M1000.1 529.0L1007.4 529.0L1008.0 495.1L1010.3 437.2L1013.8 390.8L1017.5 338.7L1021.3 295.2L1025.3 240.2L1026.2 202.5L1029.1 159.1L1032.3 119.9L1037.8 119.9L1038.7 99.7L1050.8 99.7L1052.3 97.6L1055.2 99.7L1089.9 99.7L1092.8 97.6L1095.7 99.7L1101.5 99.7L1102.1 119.9L1107.3 119.9L1108.8 164.9L1110.2 205.4L1114.0 248.9L1117.5 280.7L1120.4 318.4L1124.7 327.1L1126.2 361.9L1132.0 399.5L1137.2 402.4L1138.3 434.3L1143.5 440.1L1146.4 480.6L1150.8 486.4L1153.7 512.5L1156.6 515.4L1156.6 529.0L1187.0 529.0L1187.6 509.6L1189.9 483.5L1191.3 448.8L1192.8 425.6L1194.2 382.1L1196.3 353.2L1198.0 324.2L1200.0 298.1L1203.8 272.0L1205.0 231.5L1205.8 199.6L1207.9 176.4L1209.3 147.5L1210.2 119.9L1216.0 119.9L1216.5 99.7L1249.3 99.7L1252.2 97.6L1255.1 99.7L1271.0 99.7L1272.5 93.9L1275.4 95.9L1277.4 99.7L1279.7 106.9L1281.2 159.1L1285.5 170.6L1286.9 205.4L1289.8 251.8L1290.4 283.6L1294.2 289.4L1295.6 332.9L1301.4 335.8L1302.9 370.5L1305.8 390.8L1308.7 431.4L1313.0 454.6L1315.9 483.5L1320.3 495.1L1323.2 512.5L1326.7 515.4L1326.7 529.0L1360.8 529.0L1362.3 512.5L1364.3 489.3L1366.1 460.3L1367.5 431.4L1369.5 402.4L1371.0 379.2L1372.4 356.1L1373.9 330.0L1375.9 312.6L1376.8 280.7L1378.8 272.0L1380.5 251.8L1381.7 208.3L1383.4 167.7L1385.5 127.2L1388.4 101.7L1394.2 100.5L1395.0 91.0L1413.0 91.0L1413.6 100.5L1436.2 100.5L1436.7 91.0L1463.7 91.0L1465.1 102.6L1469.5 106.9L1470.3 150.4L1473.2 159.1L1475.3 205.4L1476.7 251.8L1477.3 274.9L1482.5 289.4L1484.0 318.4L1488.3 327.1L1491.2 361.9L1495.6 367.6L1498.4 393.7L1502.8 402.4L1504.2 434.3L1510.0 454.6L1512.9 483.5L1517.3 498.0L1520.8 512.5L1525.4 515.4L1525.4 529.0L1554.9 529.0L1556.4 503.8L1559.3 483.5L1560.7 454.6L1562.2 434.3L1563.6 405.3L1565.1 376.3L1566.5 347.4L1568.8 327.1L1570.9 286.5L1573.8 266.2L1575.2 208.3L1576.7 176.4L1577.5 130.1L1579.6 104.0L1585.4 98.2L1586.8 91.0L1594.0 91.0L1595.5 73.6L1599.8 73.6L1600.7 91.0L1601.9 91.0L1602.7 73.6L1615.2 73.6" fill="none" stroke="#000" stroke-width="6.1" stroke-linejoin="round" stroke-miterlimit="3" stroke-linecap="butt"/>
</g>
<g id="panel-d">
<rect x="1001.5" y="678" width="614.8" height="528" fill="none" stroke="#000" stroke-width="1.5"/>
<line x1="1001.5" y1="1206" x2="1001.5" y2="1217" stroke="#000" stroke-width="1.5"/>
<line x1="1078.35" y1="1206" x2="1078.35" y2="1211.5" stroke="#000" stroke-width="1.5"/>
<line x1="1078.35" y1="678" x2="1078.35" y2="683.5" stroke="#000" stroke-width="1.5"/>
<line x1="1155.2" y1="1206" x2="1155.2" y2="1217" stroke="#000" stroke-width="1.5"/>
<line x1="1155.2" y1="678" x2="1155.2" y2="689" stroke="#000" stroke-width="1.5"/>
<line x1="1232.05" y1="1206" x2="1232.05" y2="1211.5" stroke="#000" stroke-width="1.5"/>
<line x1="1232.05" y1="678" x2="1232.05" y2="683.5" stroke="#000" stroke-width="1.5"/>
<line x1="1308.9" y1="1206" x2="1308.9" y2="1217" stroke="#000" stroke-width="1.5"/>
<line x1="1308.9" y1="678" x2="1308.9" y2="689" stroke="#000" stroke-width="1.5"/>
<line x1="1385.75" y1="1206" x2="1385.75" y2="1211.5" stroke="#000" stroke-width="1.5"/>
<line x1="1385.75" y1="678" x2="1385.75" y2="683.5" stroke="#000" stroke-width="1.5"/>
<line x1="1462.6" y1="1206" x2="1462.6" y2="1217" stroke="#000" stroke-width="1.5"/>
<line x1="1462.6" y1="678" x2="1462.6" y2="689" stroke="#000" stroke-width="1.5"/>
<line x1="1539.45" y1="1206" x2="1539.45" y2="1211.5" stroke="#000" stroke-width="1.5"/>
<line x1="1539.45" y1="678" x2="1539.45" y2="683.5" stroke="#000" stroke-width="1.5"/>
<line x1="1616.3" y1="1206" x2="1616.3" y2="1217" stroke="#000" stroke-width="1.5"/>
<line x1="991.5" y1="1206" x2="1001.5" y2="1206" stroke="#000" stroke-width="1.5"/>
<line x1="996.5" y1="1140" x2="1001.5" y2="1140" stroke="#000" stroke-width="1.5"/>
<line x1="1611.3" y1="1140" x2="1616.3" y2="1140" stroke="#000" stroke-width="1.5"/>
<line x1="991.5" y1="1074" x2="1001.5" y2="1074" stroke="#000" stroke-width="1.5"/>
<line x1="1606.3" y1="1074" x2="1616.3" y2="1074" stroke="#000" stroke-width="1.5"/>
<line x1="996.5" y1="1008" x2="1001.5" y2="1008" stroke="#000" stroke-width="1.5"/>
<line x1="1611.3" y1="1008" x2="1616.3" y2="1008" stroke="#000" stroke-width="1.5"/>
<line x1="991.5" y1="942" x2="1001.5" y2="942" stroke="#000" stroke-width="1.5"/>
<line x1="1606.3" y1="942" x2="1616.3" y2="942" stroke="#000" stroke-width="1.5"/>
<line x1="996.5" y1="876" x2="1001.5" y2="876" stroke="#000" stroke-width="1.5"/>
<line x1="1611.3" y1="876" x2="1616.3" y2="876" stroke="#000" stroke-width="1.5"/>
<line x1="991.5" y1="810" x2="1001.5" y2="810" stroke="#000" stroke-width="1.5"/>
<line x1="1606.3" y1="810" x2="1616.3" y2="810" stroke="#000" stroke-width="1.5"/>
<line x1="996.5" y1="744" x2="1001.5" y2="744" stroke="#000" stroke-width="1.5"/>
<line x1="1611.3" y1="744" x2="1616.3" y2="744" stroke="#000" stroke-width="1.5"/>
<line x1="991.5" y1="678" x2="1001.5" y2="678" stroke="#000" stroke-width="1.5"/>
<text class="ss" transform="translate(985.2 1219.6) scale(0.878 1)" font-size="44.9" text-anchor="end">-0.06</text>
<text class="ss" transform="translate(985.2 1087.3) scale(0.878 1)" font-size="44.9" text-anchor="end">-0.02</text>
<text class="ss" transform="translate(985.2 955.2) scale(0.878 1)" font-size="44.9" text-anchor="end">0.02</text>
<text class="ss" transform="translate(985.2 823.2) scale(0.878 1)" font-size="44.9" text-anchor="end">0.06</text>
<text class="ss" transform="translate(985.2 690.9) scale(0.878 1)" font-size="44.9" text-anchor="end">0.10</text>
<text class="ss" transform="translate(1001.5 1259.6) scale(0.864 1)" font-size="44.9" text-anchor="middle">0.0</text>
<text class="ss" transform="translate(1155.2 1259.6) scale(0.864 1)" font-size="44.9" text-anchor="middle">0.5</text>
<text class="ss" transform="translate(1308.9 1259.6) scale(0.864 1)" font-size="44.9" text-anchor="middle">1.0</text>
<text class="ss" transform="translate(1462.6 1259.6) scale(0.864 1)" font-size="44.9" text-anchor="middle">1.5</text>
<text class="ss" transform="translate(1616.3 1259.6) scale(0.864 1)" font-size="44.9" text-anchor="middle">2.0</text>
<text class="ss" transform="translate(1054.5 1253.6)" font-size="41">μm</text>
<text class="ss" transform="translate(960.5 1166.4) rotate(-90) scale(0.908 1)" font-size="44.8">μm</text>
<text class="sf" transform="translate(1003.4 729.5) scale(1.084 1)" font-size="61.5">(d)</text>
<path d="M1001.6 1116.8L1003.0 1125.5L1005.1 1140.0L1006.8 1147.3L1010.3 1148.7L1016.1 1150.2L1019.0 1147.3L1023.3 1153.0L1026.2 1158.8L1029.1 1161.7L1033.5 1157.4L1034.9 1137.1L1036.4 1116.8L1040.7 1108.1L1042.1 1079.2L1043.6 1032.8L1046.5 998.1L1047.9 963.3L1049.4 928.5L1051.4 888.0L1053.2 853.2L1055.2 824.2L1058.1 806.9L1059.5 786.6L1063.9 772.1L1065.9 760.5L1068.8 747.5L1074.0 740.2L1079.8 735.9L1084.2 728.6L1088.5 730.1L1092.8 734.4L1095.7 730.9L1105.9 730.9L1107.3 735.9L1110.2 730.9L1134.9 730.9L1136.3 738.8L1140.6 743.1L1143.5 754.7L1146.4 777.9L1150.8 798.2L1152.2 824.2L1153.7 847.4L1155.7 882.2L1158.0 911.1L1159.5 940.1L1161.5 963.3L1163.0 998.1L1163.8 1032.8L1164.7 1067.6L1166.1 1096.6L1169.0 1113.9L1171.1 1137.1L1175.4 1154.5L1179.8 1161.7L1185.6 1166.1L1189.9 1170.4L1194.2 1169.0L1198.6 1166.1L1201.5 1154.5L1203.5 1137.1L1205.8 1113.9L1207.9 1096.6L1209.6 1067.6L1211.0 1032.8L1212.2 998.1L1213.1 963.3L1214.5 940.1L1216.0 911.1L1217.4 882.2L1218.9 847.4L1220.9 824.2L1222.6 798.2L1224.7 777.9L1228.1 757.6L1230.5 746.0L1234.8 733.0L1239.1 730.9L1256.5 730.9L1259.4 728.1L1263.8 730.9L1269.6 728.1L1273.9 733.0L1275.4 738.8L1285.5 739.6L1286.9 736.7L1289.8 738.8L1300.0 738.8L1302.9 746.0L1305.8 760.5L1310.1 777.9L1310.1 780.8L1313.9 789.5L1315.9 812.6L1319.7 830.0L1320.9 859.0L1322.6 890.9L1323.8 925.6L1326.7 934.3L1327.5 969.1L1329.0 1015.4L1329.8 1047.3L1330.4 1079.2L1333.3 1090.8L1334.8 1119.7L1337.7 1131.3L1339.7 1157.4L1340.6 1173.3L1352.1 1173.3L1353.6 1170.4L1357.9 1176.2L1362.3 1180.6L1366.6 1179.1L1369.5 1171.9L1371.0 1154.5L1373.9 1148.7L1375.3 1125.5L1376.8 1102.3L1379.7 1096.6L1381.1 1067.6L1382.0 1003.9L1384.0 980.7L1384.9 945.9L1386.9 911.1L1387.8 882.2L1389.8 864.8L1391.3 835.8L1393.3 806.9L1397.1 777.9L1401.4 769.2L1405.7 754.7L1410.1 746.0L1414.4 740.2L1418.8 731.5L1424.6 730.1L1434.7 729.2L1437.6 731.5L1455.0 731.5L1457.9 730.1L1468.0 731.5L1470.9 737.3L1475.3 741.7L1479.0 748.9L1481.1 763.4L1484.0 783.7L1486.9 809.7L1489.8 835.8L1491.8 876.4L1494.1 908.2L1496.4 928.5L1497.9 969.1L1499.3 1009.6L1500.5 1047.3L1502.2 1079.2L1504.2 1108.1L1506.3 1128.4L1509.2 1154.5L1511.5 1161.7L1515.8 1169.0L1521.6 1170.4L1526.0 1174.8L1529.4 1177.7L1533.2 1176.2L1536.1 1170.4L1538.1 1148.7L1540.5 1131.3L1543.4 1119.7L1544.8 1090.8L1546.2 1056.0L1547.7 1027.0L1549.1 969.1L1550.6 934.3L1552.0 902.5L1554.4 864.8L1556.4 835.8L1558.7 798.2L1560.7 766.3L1565.1 748.9L1568.0 734.4L1572.3 725.7L1578.1 719.9L1582.5 722.8L1589.7 719.9L1598.4 719.9L1602.7 722.8L1610.0 719.9L1616.4 721.4" fill="none" stroke="#000" stroke-width="6.1" stroke-linejoin="round" stroke-miterlimit="3" stroke-linecap="butt"/>
</g>
<g id="panel-f">
<rect x="998.5" y="1324.2" width="623.8" height="528.4" fill="none" stroke="#000" stroke-width="1.5"/>
<line x1="998.5" y1="1852.6" x2="998.5" y2="1863.6" stroke="#000" stroke-width="1.5"/>
<line x1="1076.47" y1="1852.6" x2="1076.47" y2="1858.1" stroke="#000" stroke-width="1.5"/>
<line x1="1076.47" y1="1324.2" x2="1076.47" y2="1329.7" stroke="#000" stroke-width="1.5"/>
<line x1="1154.45" y1="1852.6" x2="1154.45" y2="1863.6" stroke="#000" stroke-width="1.5"/>
<line x1="1154.45" y1="1324.2" x2="1154.45" y2="1335.2" stroke="#000" stroke-width="1.5"/>
<line x1="1232.42" y1="1852.6" x2="1232.42" y2="1858.1" stroke="#000" stroke-width="1.5"/>
<line x1="1232.42" y1="1324.2" x2="1232.42" y2="1329.7" stroke="#000" stroke-width="1.5"/>
<line x1="1310.4" y1="1852.6" x2="1310.4" y2="1863.6" stroke="#000" stroke-width="1.5"/>
<line x1="1310.4" y1="1324.2" x2="1310.4" y2="1335.2" stroke="#000" stroke-width="1.5"/>
<line x1="1388.38" y1="1852.6" x2="1388.38" y2="1858.1" stroke="#000" stroke-width="1.5"/>
<line x1="1388.38" y1="1324.2" x2="1388.38" y2="1329.7" stroke="#000" stroke-width="1.5"/>
<line x1="1466.35" y1="1852.6" x2="1466.35" y2="1863.6" stroke="#000" stroke-width="1.5"/>
<line x1="1466.35" y1="1324.2" x2="1466.35" y2="1335.2" stroke="#000" stroke-width="1.5"/>
<line x1="1544.32" y1="1852.6" x2="1544.32" y2="1858.1" stroke="#000" stroke-width="1.5"/>
<line x1="1544.32" y1="1324.2" x2="1544.32" y2="1329.7" stroke="#000" stroke-width="1.5"/>
<line x1="1622.3" y1="1852.6" x2="1622.3" y2="1863.6" stroke="#000" stroke-width="1.5"/>
<line x1="988.5" y1="1852.6" x2="998.5" y2="1852.6" stroke="#000" stroke-width="1.5"/>
<line x1="993.5" y1="1799.76" x2="998.5" y2="1799.76" stroke="#000" stroke-width="1.5"/>
<line x1="1617.3" y1="1799.76" x2="1622.3" y2="1799.76" stroke="#000" stroke-width="1.5"/>
<line x1="988.5" y1="1746.92" x2="998.5" y2="1746.92" stroke="#000" stroke-width="1.5"/>
<line x1="1612.3" y1="1746.92" x2="1622.3" y2="1746.92" stroke="#000" stroke-width="1.5"/>
<line x1="993.5" y1="1694.08" x2="998.5" y2="1694.08" stroke="#000" stroke-width="1.5"/>
<line x1="1617.3" y1="1694.08" x2="1622.3" y2="1694.08" stroke="#000" stroke-width="1.5"/>
<line x1="988.5" y1="1641.24" x2="998.5" y2="1641.24" stroke="#000" stroke-width="1.5"/>
<line x1="1612.3" y1="1641.24" x2="1622.3" y2="1641.24" stroke="#000" stroke-width="1.5"/>
<line x1="993.5" y1="1588.4" x2="998.5" y2="1588.4" stroke="#000" stroke-width="1.5"/>
<line x1="1617.3" y1="1588.4" x2="1622.3" y2="1588.4" stroke="#000" stroke-width="1.5"/>
<line x1="988.5" y1="1535.56" x2="998.5" y2="1535.56" stroke="#000" stroke-width="1.5"/>
<line x1="1612.3" y1="1535.56" x2="1622.3" y2="1535.56" stroke="#000" stroke-width="1.5"/>
<line x1="993.5" y1="1482.72" x2="998.5" y2="1482.72" stroke="#000" stroke-width="1.5"/>
<line x1="1617.3" y1="1482.72" x2="1622.3" y2="1482.72" stroke="#000" stroke-width="1.5"/>
<line x1="988.5" y1="1429.88" x2="998.5" y2="1429.88" stroke="#000" stroke-width="1.5"/>
<line x1="1612.3" y1="1429.88" x2="1622.3" y2="1429.88" stroke="#000" stroke-width="1.5"/>
<line x1="993.5" y1="1377.04" x2="998.5" y2="1377.04" stroke="#000" stroke-width="1.5"/>
<line x1="1617.3" y1="1377.04" x2="1622.3" y2="1377.04" stroke="#000" stroke-width="1.5"/>
<line x1="988.5" y1="1324.2" x2="998.5" y2="1324.2" stroke="#000" stroke-width="1.5"/>
<text class="ss" transform="translate(981.1 1866.2) scale(0.861 1)" font-size="43.6" text-anchor="end">0.010</text>
<text class="ss" transform="translate(981.1 1760.72) scale(0.861 1)" font-size="43.6" text-anchor="end">0.015</text>
<text class="ss" transform="translate(981.1 1654.24) scale(0.861 1)" font-size="43.6" text-anchor="end">0.020</text>
<text class="ss" transform="translate(981.1 1548.56) scale(0.861 1)" font-size="43.6" text-anchor="end">0.025</text>
<text class="ss" transform="translate(981.1 1442.18) scale(0.861 1)" font-size="43.6" text-anchor="end">0.030</text>
<text class="ss" transform="translate(981.1 1336.9) scale(0.861 1)" font-size="43.6" text-anchor="end">0.035</text>
<text class="ss" transform="translate(996.8 1922) scale(0.849 1)" font-size="44.9" text-anchor="middle">0.0</text>
<text class="ss" transform="translate(1154.45 1922) scale(0.849 1)" font-size="44.9" text-anchor="middle">0.5</text>
<text class="ss" transform="translate(1310.4 1922) scale(0.849 1)" font-size="44.9" text-anchor="middle">1.0</text>
<text class="ss" transform="translate(1465.85 1922) scale(0.849 1)" font-size="44.9" text-anchor="middle">1.5</text>
<text class="ss" transform="translate(1621.5 1922) scale(0.849 1)" font-size="44.9" text-anchor="middle">2.0</text>
<text class="ss" transform="translate(1047.2 1919.4) scale(0.973 1)" font-size="42.5">μm</text>
<text class="ss" transform="translate(948.7 1829.4) rotate(-90) scale(0.905 1)" font-size="44.9">μm</text>
<text class="sf" transform="translate(997.9 1376.4) scale(1.088 1)" font-size="61.5">(f)</text>
<path d="M998.0 1688.0L1001.0 1688.0L1002.0 1695.0L1005.0 1697.0L1007.0 1692.0L1007.6 1660.0L1010.0 1658.0L1012.0 1660.0L1013.0 1666.0L1015.6 1666.0L1016.0 1688.0L1019.0 1690.0L1020.0 1673.0L1028.0 1673.0L1029.0 1706.0L1031.0 1709.0L1034.0 1706.0L1034.4 1680.0L1055.0 1680.0L1055.4 1665.0L1059.0 1665.0L1059.4 1680.0L1071.0 1680.0L1072.0 1665.0L1085.0 1665.0L1086.0 1687.0L1089.0 1694.0L1091.0 1696.0L1094.0 1692.0L1097.0 1688.0L1098.0 1674.0L1102.0 1672.0L1105.0 1676.0L1107.0 1673.0L1110.0 1674.0L1113.0 1680.0L1116.0 1689.0L1119.0 1688.0L1121.0 1681.0L1123.0 1678.0L1124.4 1660.0L1127.0 1658.0L1132.4 1659.0L1133.0 1674.0L1136.0 1674.0L1137.0 1666.0L1141.6 1666.0L1143.0 1674.0L1145.0 1680.0L1145.6 1700.0L1148.0 1702.0L1150.0 1699.0L1151.0 1674.0L1155.0 1673.0L1156.4 1680.0L1158.0 1688.0L1160.0 1690.0L1162.4 1688.0L1163.0 1660.0L1165.6 1658.0L1168.0 1660.0L1169.0 1666.0L1172.0 1670.0L1172.4 1680.0L1175.0 1680.0L1175.6 1650.0L1177.0 1643.0L1179.0 1643.0L1181.0 1649.0L1183.0 1652.0L1183.6 1694.0L1184.4 1750.0L1187.0 1751.0L1189.0 1748.0L1189.4 1648.0L1190.0 1580.0L1192.0 1579.0L1194.0 1582.0L1195.0 1588.0L1198.0 1590.0L1198.4 1624.0L1206.0 1625.0L1208.0 1631.0L1211.0 1638.0L1214.0 1638.0L1215.6 1632.0L1216.0 1616.0L1218.0 1615.0L1220.0 1620.0L1223.0 1624.0L1224.0 1664.0L1228.0 1668.0L1230.0 1674.0L1234.0 1680.0L1237.0 1689.0L1239.0 1690.0L1241.0 1674.0L1249.0 1674.0L1250.0 1660.0L1254.0 1659.0L1255.0 1680.0L1261.0 1680.0L1264.0 1676.0L1267.0 1673.0L1267.6 1638.0L1270.0 1637.0L1272.0 1642.0L1275.6 1645.0L1276.4 1670.0L1280.0 1676.0L1284.0 1679.0L1288.0 1680.0L1289.0 1689.0L1292.0 1690.0L1294.0 1680.0L1296.0 1681.0L1298.0 1688.0L1300.0 1689.0L1301.0 1666.0L1305.0 1665.0L1306.0 1672.0L1313.0 1672.0L1314.0 1625.0L1318.0 1624.0L1319.0 1643.0L1330.0 1643.0L1332.0 1638.0L1336.0 1638.0L1337.0 1643.0L1343.0 1643.0L1345.0 1632.0L1349.0 1631.0L1351.0 1638.0L1356.0 1638.0L1357.0 1596.0L1364.0 1595.0L1366.0 1574.0L1370.0 1573.0L1372.0 1588.0L1378.0 1589.0L1379.0 1660.0L1383.0 1661.0L1384.0 1584.0L1386.0 1582.0L1387.0 1624.0L1389.0 1625.0L1390.0 1561.0L1393.0 1560.0L1394.0 1604.0L1396.0 1606.0L1397.0 1636.0L1400.0 1640.0L1402.0 1644.0L1405.0 1643.0L1407.0 1638.0L1416.0 1638.0L1417.0 1604.0L1421.0 1602.0L1423.0 1620.0L1424.0 1638.0L1428.0 1640.0L1430.0 1658.0L1434.0 1659.0L1436.0 1644.0L1448.0 1643.6L1450.0 1652.0L1454.0 1659.0L1456.0 1652.0L1460.0 1651.0L1462.0 1660.0L1465.0 1672.0L1468.0 1674.0L1470.0 1672.0L1471.0 1630.0L1472.0 1610.0L1487.0 1609.0L1488.0 1580.0L1495.0 1580.0L1497.0 1596.0L1499.0 1590.0L1507.0 1589.0L1508.0 1580.0L1512.4 1580.0L1513.6 1616.0L1521.0 1616.0L1522.0 1595.0L1526.0 1595.0L1527.0 1608.0L1532.0 1609.0L1536.0 1612.0L1539.0 1616.0L1539.6 1636.0L1540.0 1680.0L1548.0 1680.0L1549.0 1620.0L1549.6 1588.0L1553.0 1588.0L1554.0 1595.0L1560.0 1595.0L1561.0 1638.0L1565.0 1638.0L1566.0 1610.0L1569.0 1609.0L1572.0 1614.0L1574.0 1620.0L1575.0 1638.0L1581.0 1638.0L1583.0 1644.0L1586.0 1644.0L1588.0 1638.0L1595.0 1638.0L1597.0 1643.0L1603.0 1643.0L1604.0 1664.0L1607.0 1666.0L1611.0 1666.0L1612.0 1654.0L1615.0 1652.0L1617.0 1660.0L1619.0 1666.0L1622.4 1667.0" fill="none" stroke="#000" stroke-width="5.1" stroke-linejoin="round" stroke-miterlimit="3" stroke-linecap="butt"/>
</g>
</svg>
</body>
</html>
